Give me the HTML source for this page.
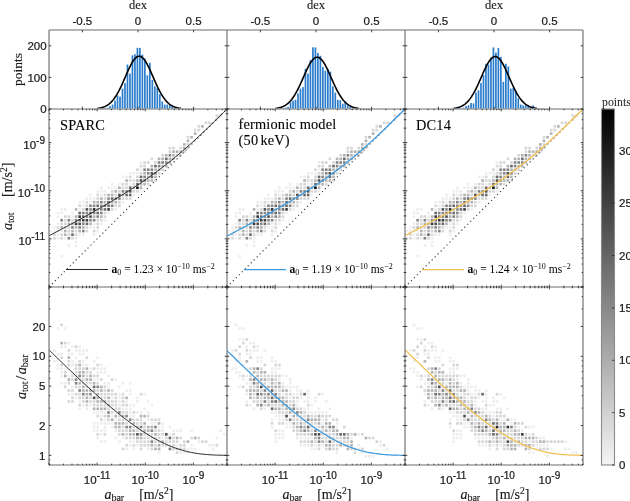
<!DOCTYPE html><html><head><meta charset="utf-8"><style>html,body{margin:0;padding:0;background:#fff;overflow:hidden}svg{display:block;will-change:transform}</style></head><body><svg width="630" height="501" viewBox="0 0 630 501"><rect width="630" height="501" fill="#fff"/><defs><filter id="soft" x="-5%" y="-5%" width="110%" height="110%"><feGaussianBlur stdDeviation="0.4"/></filter></defs><g fill="#2b7dcc"><rect x="104.24" y="108.52" width="1.69" height="0.48"/><rect x="106.72" y="107.72" width="1.69" height="1.28"/><rect x="109.21" y="106.13" width="1.69" height="2.87"/><rect x="111.70" y="104.55" width="1.69" height="4.45"/><rect x="114.18" y="100.58" width="1.69" height="8.42"/><rect x="116.67" y="95.50" width="1.69" height="13.50"/><rect x="119.16" y="96.61" width="1.69" height="12.39"/><rect x="121.65" y="88.67" width="1.69" height="20.33"/><rect x="124.13" y="83.12" width="1.69" height="25.88"/><rect x="126.62" y="64.55" width="1.69" height="44.45"/><rect x="129.11" y="73.60" width="1.69" height="35.40"/><rect x="131.59" y="55.34" width="1.69" height="53.66"/><rect x="134.08" y="54.23" width="1.69" height="54.77"/><rect x="136.57" y="47.88" width="1.69" height="61.12"/><rect x="139.05" y="47.88" width="1.69" height="61.12"/><rect x="141.54" y="54.55" width="1.69" height="54.45"/><rect x="144.03" y="58.52" width="1.69" height="50.48"/><rect x="146.52" y="75.18" width="1.69" height="33.82"/><rect x="149.00" y="62.80" width="1.69" height="46.20"/><rect x="151.49" y="79.94" width="1.69" height="29.06"/><rect x="153.98" y="86.29" width="1.69" height="22.71"/><rect x="156.46" y="87.88" width="1.69" height="21.12"/><rect x="158.95" y="94.23" width="1.69" height="14.77"/><rect x="161.44" y="101.37" width="1.69" height="7.63"/><rect x="163.92" y="104.55" width="1.69" height="4.45"/><rect x="166.41" y="104.55" width="1.69" height="4.45"/><rect x="168.90" y="105.34" width="1.69" height="3.66"/><rect x="171.39" y="106.13" width="1.69" height="2.87"/><rect x="173.87" y="107.72" width="1.69" height="1.28"/><rect x="176.36" y="108.20" width="1.69" height="0.80"/><rect x="178.85" y="108.52" width="1.69" height="0.48"/><rect x="96.78" y="108.40" width="1.69" height="0.6"/><rect x="99.26" y="108.40" width="1.69" height="0.6"/><rect x="101.75" y="108.40" width="1.69" height="0.6"/><rect x="181.33" y="108.40" width="1.69" height="0.6"/><rect x="183.82" y="108.40" width="1.69" height="0.6"/></g><polyline points="97.48,108.41 98.18,108.32 98.87,108.21 99.57,108.09 100.26,107.95 100.96,107.80 101.65,107.62 102.35,107.42 103.04,107.20 103.74,106.96 104.43,106.68 105.13,106.38 105.83,106.04 106.52,105.66 107.22,105.25 107.91,104.80 108.61,104.31 109.30,103.77 110.00,103.18 110.69,102.55 111.39,101.86 112.08,101.12 112.78,100.32 113.47,99.47 114.17,98.56 114.86,97.59 115.56,96.56 116.25,95.47 116.95,94.33 117.65,93.13 118.34,91.87 119.04,90.56 119.73,89.19 120.43,87.78 121.12,86.33 121.82,84.84 122.51,83.31 123.21,81.76 123.90,80.18 124.60,78.59 125.29,76.99 125.99,75.39 126.68,73.80 127.38,72.23 128.07,70.68 128.77,69.17 129.47,67.70 130.16,66.28 130.86,64.92 131.55,63.64 132.25,62.43 132.94,61.31 133.64,60.29 134.33,59.36 135.03,58.55 135.72,57.85 136.42,57.27 137.11,56.82 137.81,56.49 138.50,56.29 139.20,56.23 139.90,56.29 140.59,56.49 141.29,56.82 141.98,57.27 142.68,57.85 143.37,58.55 144.07,59.36 144.76,60.29 145.46,61.31 146.15,62.43 146.85,63.64 147.54,64.92 148.24,66.28 148.93,67.70 149.63,69.17 150.32,70.68 151.02,72.23 151.72,73.80 152.41,75.39 153.11,76.99 153.80,78.59 154.50,80.18 155.19,81.76 155.89,83.31 156.58,84.84 157.28,86.33 157.97,87.78 158.67,89.19 159.36,90.56 160.06,91.87 160.75,93.13 161.45,94.33 162.15,95.47 162.84,96.56 163.54,97.59 164.23,98.56 164.93,99.47 165.62,100.32 166.32,101.12 167.01,101.86 167.71,102.55 168.40,103.18 169.10,103.77 169.79,104.31 170.49,104.80 171.18,105.25 171.88,105.66 172.57,106.04 173.27,106.38 173.97,106.68 174.66,106.96 175.36,107.20 176.05,107.42 176.75,107.62 177.44,107.80 178.14,107.95 178.83,108.09 179.53,108.21 180.22,108.32 180.92,108.41" fill="none" stroke="#000" stroke-width="1.6"/><svg x="49" y="109.0" width="178.0" height="178.0" viewBox="49 109.0 178.0 178.0" overflow="hidden"><g filter="url(#soft)"><rect x="78.37" y="204.49" width="2.61" height="2.61" fill="rgb(214,214,214)"/><rect x="85.59" y="204.49" width="2.61" height="2.61" fill="rgb(214,214,214)"/><rect x="89.20" y="204.49" width="2.61" height="2.61" fill="rgb(132,132,132)"/><rect x="60.33" y="208.10" width="2.61" height="2.61" fill="rgb(238,238,238)"/><rect x="63.94" y="208.10" width="2.61" height="2.61" fill="rgb(238,238,238)"/><rect x="74.76" y="208.10" width="2.61" height="2.61" fill="rgb(178,178,178)"/><rect x="78.37" y="208.10" width="2.61" height="2.61" fill="rgb(238,238,238)"/><rect x="81.98" y="208.10" width="2.61" height="2.61" fill="rgb(214,214,214)"/><rect x="85.59" y="208.10" width="2.61" height="2.61" fill="rgb(80,80,80)"/><rect x="89.20" y="208.10" width="2.61" height="2.61" fill="rgb(132,132,132)"/><rect x="56.72" y="211.71" width="2.61" height="2.61" fill="rgb(238,238,238)"/><rect x="60.33" y="211.71" width="2.61" height="2.61" fill="rgb(238,238,238)"/><rect x="71.15" y="211.71" width="2.61" height="2.61" fill="rgb(238,238,238)"/><rect x="78.37" y="211.71" width="2.61" height="2.61" fill="rgb(105,105,105)"/><rect x="81.98" y="211.71" width="2.61" height="2.61" fill="rgb(132,132,132)"/><rect x="85.59" y="211.71" width="2.61" height="2.61" fill="rgb(132,132,132)"/><rect x="89.20" y="211.71" width="2.61" height="2.61" fill="rgb(105,105,105)"/><rect x="56.72" y="215.32" width="2.61" height="2.61" fill="rgb(238,238,238)"/><rect x="63.94" y="215.32" width="2.61" height="2.61" fill="rgb(214,214,214)"/><rect x="67.55" y="215.32" width="2.61" height="2.61" fill="rgb(214,214,214)"/><rect x="71.15" y="215.32" width="2.61" height="2.61" fill="rgb(238,238,238)"/><rect x="74.76" y="215.32" width="2.61" height="2.61" fill="rgb(178,178,178)"/><rect x="78.37" y="215.32" width="2.61" height="2.61" fill="rgb(56,56,56)"/><rect x="81.98" y="215.32" width="2.61" height="2.61" fill="rgb(105,105,105)"/><rect x="85.59" y="215.32" width="2.61" height="2.61" fill="rgb(132,132,132)"/><rect x="89.20" y="215.32" width="2.61" height="2.61" fill="rgb(80,80,80)"/><rect x="60.33" y="218.93" width="2.61" height="2.61" fill="rgb(132,132,132)"/><rect x="63.94" y="218.93" width="2.61" height="2.61" fill="rgb(214,214,214)"/><rect x="67.55" y="218.93" width="2.61" height="2.61" fill="rgb(132,132,132)"/><rect x="71.15" y="218.93" width="2.61" height="2.61" fill="rgb(214,214,214)"/><rect x="74.76" y="218.93" width="2.61" height="2.61" fill="rgb(132,132,132)"/><rect x="78.37" y="218.93" width="2.61" height="2.61" fill="rgb(105,105,105)"/><rect x="81.98" y="218.93" width="2.61" height="2.61" fill="rgb(56,56,56)"/><rect x="85.59" y="218.93" width="2.61" height="2.61" fill="rgb(56,56,56)"/><rect x="89.20" y="218.93" width="2.61" height="2.61" fill="rgb(132,132,132)"/><rect x="56.72" y="222.54" width="2.61" height="2.61" fill="rgb(238,238,238)"/><rect x="60.33" y="222.54" width="2.61" height="2.61" fill="rgb(214,214,214)"/><rect x="63.94" y="222.54" width="2.61" height="2.61" fill="rgb(214,214,214)"/><rect x="67.55" y="222.54" width="2.61" height="2.61" fill="rgb(178,178,178)"/><rect x="71.15" y="222.54" width="2.61" height="2.61" fill="rgb(178,178,178)"/><rect x="74.76" y="222.54" width="2.61" height="2.61" fill="rgb(56,56,56)"/><rect x="78.37" y="222.54" width="2.61" height="2.61" fill="rgb(80,80,80)"/><rect x="81.98" y="222.54" width="2.61" height="2.61" fill="rgb(132,132,132)"/><rect x="85.59" y="222.54" width="2.61" height="2.61" fill="rgb(105,105,105)"/><rect x="89.20" y="222.54" width="2.61" height="2.61" fill="rgb(178,178,178)"/><rect x="53.11" y="226.15" width="2.61" height="2.61" fill="rgb(238,238,238)"/><rect x="56.72" y="226.15" width="2.61" height="2.61" fill="rgb(214,214,214)"/><rect x="60.33" y="226.15" width="2.61" height="2.61" fill="rgb(178,178,178)"/><rect x="63.94" y="226.15" width="2.61" height="2.61" fill="rgb(214,214,214)"/><rect x="67.55" y="226.15" width="2.61" height="2.61" fill="rgb(214,214,214)"/><rect x="71.15" y="226.15" width="2.61" height="2.61" fill="rgb(132,132,132)"/><rect x="74.76" y="226.15" width="2.61" height="2.61" fill="rgb(178,178,178)"/><rect x="78.37" y="226.15" width="2.61" height="2.61" fill="rgb(132,132,132)"/><rect x="81.98" y="226.15" width="2.61" height="2.61" fill="rgb(178,178,178)"/><rect x="85.59" y="226.15" width="2.61" height="2.61" fill="rgb(214,214,214)"/><rect x="89.20" y="226.15" width="2.61" height="2.61" fill="rgb(238,238,238)"/><rect x="49.50" y="229.76" width="2.61" height="2.61" fill="rgb(238,238,238)"/><rect x="53.11" y="229.76" width="2.61" height="2.61" fill="rgb(238,238,238)"/><rect x="56.72" y="229.76" width="2.61" height="2.61" fill="rgb(238,238,238)"/><rect x="60.33" y="229.76" width="2.61" height="2.61" fill="rgb(238,238,238)"/><rect x="63.94" y="229.76" width="2.61" height="2.61" fill="rgb(178,178,178)"/><rect x="67.55" y="229.76" width="2.61" height="2.61" fill="rgb(214,214,214)"/><rect x="71.15" y="229.76" width="2.61" height="2.61" fill="rgb(178,178,178)"/><rect x="74.76" y="229.76" width="2.61" height="2.61" fill="rgb(214,214,214)"/><rect x="78.37" y="229.76" width="2.61" height="2.61" fill="rgb(178,178,178)"/><rect x="81.98" y="229.76" width="2.61" height="2.61" fill="rgb(132,132,132)"/><rect x="85.59" y="229.76" width="2.61" height="2.61" fill="rgb(214,214,214)"/><rect x="53.11" y="233.37" width="2.61" height="2.61" fill="rgb(214,214,214)"/><rect x="56.72" y="233.37" width="2.61" height="2.61" fill="rgb(238,238,238)"/><rect x="60.33" y="233.37" width="2.61" height="2.61" fill="rgb(214,214,214)"/><rect x="63.94" y="233.37" width="2.61" height="2.61" fill="rgb(178,178,178)"/><rect x="67.55" y="233.37" width="2.61" height="2.61" fill="rgb(214,214,214)"/><rect x="71.15" y="233.37" width="2.61" height="2.61" fill="rgb(105,105,105)"/><rect x="74.76" y="233.37" width="2.61" height="2.61" fill="rgb(214,214,214)"/><rect x="78.37" y="233.37" width="2.61" height="2.61" fill="rgb(238,238,238)"/><rect x="81.98" y="233.37" width="2.61" height="2.61" fill="rgb(238,238,238)"/><rect x="49.50" y="236.97" width="2.61" height="2.61" fill="rgb(238,238,238)"/><rect x="53.11" y="236.97" width="2.61" height="2.61" fill="rgb(214,214,214)"/><rect x="56.72" y="236.97" width="2.61" height="2.61" fill="rgb(238,238,238)"/><rect x="60.33" y="236.97" width="2.61" height="2.61" fill="rgb(214,214,214)"/><rect x="63.94" y="236.97" width="2.61" height="2.61" fill="rgb(238,238,238)"/><rect x="67.55" y="236.97" width="2.61" height="2.61" fill="rgb(132,132,132)"/><rect x="71.15" y="236.97" width="2.61" height="2.61" fill="rgb(214,214,214)"/><rect x="74.76" y="236.97" width="2.61" height="2.61" fill="rgb(238,238,238)"/><rect x="74.76" y="240.58" width="2.61" height="2.61" fill="rgb(238,238,238)"/><rect x="67.55" y="244.19" width="2.61" height="2.61" fill="rgb(238,238,238)"/><rect x="74.76" y="244.19" width="2.61" height="2.61" fill="rgb(238,238,238)"/><rect x="60.33" y="255.02" width="2.61" height="2.61" fill="rgb(238,238,238)"/><rect x="128.90" y="172.01" width="2.61" height="2.61" fill="rgb(238,238,238)"/><rect x="132.51" y="172.01" width="2.61" height="2.61" fill="rgb(238,238,238)"/><rect x="121.68" y="175.62" width="2.61" height="2.61" fill="rgb(238,238,238)"/><rect x="125.29" y="175.62" width="2.61" height="2.61" fill="rgb(238,238,238)"/><rect x="128.90" y="175.62" width="2.61" height="2.61" fill="rgb(214,214,214)"/><rect x="125.29" y="179.23" width="2.61" height="2.61" fill="rgb(178,178,178)"/><rect x="128.90" y="179.23" width="2.61" height="2.61" fill="rgb(214,214,214)"/><rect x="132.51" y="179.23" width="2.61" height="2.61" fill="rgb(214,214,214)"/><rect x="110.85" y="182.84" width="2.61" height="2.61" fill="rgb(238,238,238)"/><rect x="118.07" y="182.84" width="2.61" height="2.61" fill="rgb(238,238,238)"/><rect x="121.68" y="182.84" width="2.61" height="2.61" fill="rgb(214,214,214)"/><rect x="125.29" y="182.84" width="2.61" height="2.61" fill="rgb(214,214,214)"/><rect x="128.90" y="182.84" width="2.61" height="2.61" fill="rgb(238,238,238)"/><rect x="132.51" y="182.84" width="2.61" height="2.61" fill="rgb(214,214,214)"/><rect x="100.03" y="186.45" width="2.61" height="2.61" fill="rgb(238,238,238)"/><rect x="107.24" y="186.45" width="2.61" height="2.61" fill="rgb(238,238,238)"/><rect x="110.85" y="186.45" width="2.61" height="2.61" fill="rgb(238,238,238)"/><rect x="114.46" y="186.45" width="2.61" height="2.61" fill="rgb(238,238,238)"/><rect x="118.07" y="186.45" width="2.61" height="2.61" fill="rgb(178,178,178)"/><rect x="121.68" y="186.45" width="2.61" height="2.61" fill="rgb(214,214,214)"/><rect x="125.29" y="186.45" width="2.61" height="2.61" fill="rgb(214,214,214)"/><rect x="128.90" y="186.45" width="2.61" height="2.61" fill="rgb(105,105,105)"/><rect x="132.51" y="186.45" width="2.61" height="2.61" fill="rgb(178,178,178)"/><rect x="96.42" y="190.06" width="2.61" height="2.61" fill="rgb(238,238,238)"/><rect x="100.03" y="190.06" width="2.61" height="2.61" fill="rgb(238,238,238)"/><rect x="103.63" y="190.06" width="2.61" height="2.61" fill="rgb(238,238,238)"/><rect x="110.85" y="190.06" width="2.61" height="2.61" fill="rgb(214,214,214)"/><rect x="114.46" y="190.06" width="2.61" height="2.61" fill="rgb(178,178,178)"/><rect x="118.07" y="190.06" width="2.61" height="2.61" fill="rgb(214,214,214)"/><rect x="121.68" y="190.06" width="2.61" height="2.61" fill="rgb(132,132,132)"/><rect x="125.29" y="190.06" width="2.61" height="2.61" fill="rgb(132,132,132)"/><rect x="128.90" y="190.06" width="2.61" height="2.61" fill="rgb(80,80,80)"/><rect x="132.51" y="190.06" width="2.61" height="2.61" fill="rgb(214,214,214)"/><rect x="96.42" y="193.67" width="2.61" height="2.61" fill="rgb(214,214,214)"/><rect x="100.03" y="193.67" width="2.61" height="2.61" fill="rgb(238,238,238)"/><rect x="103.63" y="193.67" width="2.61" height="2.61" fill="rgb(214,214,214)"/><rect x="107.24" y="193.67" width="2.61" height="2.61" fill="rgb(178,178,178)"/><rect x="110.85" y="193.67" width="2.61" height="2.61" fill="rgb(178,178,178)"/><rect x="114.46" y="193.67" width="2.61" height="2.61" fill="rgb(214,214,214)"/><rect x="118.07" y="193.67" width="2.61" height="2.61" fill="rgb(80,80,80)"/><rect x="121.68" y="193.67" width="2.61" height="2.61" fill="rgb(178,178,178)"/><rect x="125.29" y="193.67" width="2.61" height="2.61" fill="rgb(105,105,105)"/><rect x="128.90" y="193.67" width="2.61" height="2.61" fill="rgb(105,105,105)"/><rect x="132.51" y="193.67" width="2.61" height="2.61" fill="rgb(238,238,238)"/><rect x="92.81" y="197.28" width="2.61" height="2.61" fill="rgb(238,238,238)"/><rect x="96.42" y="197.28" width="2.61" height="2.61" fill="rgb(214,214,214)"/><rect x="100.03" y="197.28" width="2.61" height="2.61" fill="rgb(178,178,178)"/><rect x="103.63" y="197.28" width="2.61" height="2.61" fill="rgb(214,214,214)"/><rect x="107.24" y="197.28" width="2.61" height="2.61" fill="rgb(132,132,132)"/><rect x="110.85" y="197.28" width="2.61" height="2.61" fill="rgb(105,105,105)"/><rect x="114.46" y="197.28" width="2.61" height="2.61" fill="rgb(132,132,132)"/><rect x="118.07" y="197.28" width="2.61" height="2.61" fill="rgb(132,132,132)"/><rect x="121.68" y="197.28" width="2.61" height="2.61" fill="rgb(214,214,214)"/><rect x="125.29" y="197.28" width="2.61" height="2.61" fill="rgb(214,214,214)"/><rect x="128.90" y="197.28" width="2.61" height="2.61" fill="rgb(214,214,214)"/><rect x="92.81" y="200.88" width="2.61" height="2.61" fill="rgb(178,178,178)"/><rect x="96.42" y="200.88" width="2.61" height="2.61" fill="rgb(178,178,178)"/><rect x="100.03" y="200.88" width="2.61" height="2.61" fill="rgb(132,132,132)"/><rect x="103.63" y="200.88" width="2.61" height="2.61" fill="rgb(178,178,178)"/><rect x="107.24" y="200.88" width="2.61" height="2.61" fill="rgb(105,105,105)"/><rect x="110.85" y="200.88" width="2.61" height="2.61" fill="rgb(178,178,178)"/><rect x="114.46" y="200.88" width="2.61" height="2.61" fill="rgb(178,178,178)"/><rect x="118.07" y="200.88" width="2.61" height="2.61" fill="rgb(214,214,214)"/><rect x="121.68" y="200.88" width="2.61" height="2.61" fill="rgb(238,238,238)"/><rect x="92.81" y="204.49" width="2.61" height="2.61" fill="rgb(132,132,132)"/><rect x="96.42" y="204.49" width="2.61" height="2.61" fill="rgb(105,105,105)"/><rect x="100.03" y="204.49" width="2.61" height="2.61" fill="rgb(132,132,132)"/><rect x="103.63" y="204.49" width="2.61" height="2.61" fill="rgb(132,132,132)"/><rect x="107.24" y="204.49" width="2.61" height="2.61" fill="rgb(105,105,105)"/><rect x="110.85" y="204.49" width="2.61" height="2.61" fill="rgb(132,132,132)"/><rect x="114.46" y="204.49" width="2.61" height="2.61" fill="rgb(214,214,214)"/><rect x="118.07" y="204.49" width="2.61" height="2.61" fill="rgb(214,214,214)"/><rect x="92.81" y="208.10" width="2.61" height="2.61" fill="rgb(34,34,34)"/><rect x="96.42" y="208.10" width="2.61" height="2.61" fill="rgb(178,178,178)"/><rect x="100.03" y="208.10" width="2.61" height="2.61" fill="rgb(132,132,132)"/><rect x="103.63" y="208.10" width="2.61" height="2.61" fill="rgb(105,105,105)"/><rect x="107.24" y="208.10" width="2.61" height="2.61" fill="rgb(56,56,56)"/><rect x="110.85" y="208.10" width="2.61" height="2.61" fill="rgb(214,214,214)"/><rect x="114.46" y="208.10" width="2.61" height="2.61" fill="rgb(238,238,238)"/><rect x="92.81" y="211.71" width="2.61" height="2.61" fill="rgb(132,132,132)"/><rect x="96.42" y="211.71" width="2.61" height="2.61" fill="rgb(105,105,105)"/><rect x="100.03" y="211.71" width="2.61" height="2.61" fill="rgb(132,132,132)"/><rect x="103.63" y="211.71" width="2.61" height="2.61" fill="rgb(214,214,214)"/><rect x="107.24" y="211.71" width="2.61" height="2.61" fill="rgb(238,238,238)"/><rect x="92.81" y="215.32" width="2.61" height="2.61" fill="rgb(178,178,178)"/><rect x="96.42" y="215.32" width="2.61" height="2.61" fill="rgb(132,132,132)"/><rect x="100.03" y="215.32" width="2.61" height="2.61" fill="rgb(178,178,178)"/><rect x="103.63" y="215.32" width="2.61" height="2.61" fill="rgb(214,214,214)"/><rect x="92.81" y="218.93" width="2.61" height="2.61" fill="rgb(132,132,132)"/><rect x="96.42" y="218.93" width="2.61" height="2.61" fill="rgb(214,214,214)"/><rect x="100.03" y="218.93" width="2.61" height="2.61" fill="rgb(214,214,214)"/><rect x="103.63" y="218.93" width="2.61" height="2.61" fill="rgb(238,238,238)"/><rect x="92.81" y="222.54" width="2.61" height="2.61" fill="rgb(238,238,238)"/><rect x="96.42" y="222.54" width="2.61" height="2.61" fill="rgb(214,214,214)"/><rect x="100.03" y="222.54" width="2.61" height="2.61" fill="rgb(238,238,238)"/><rect x="92.81" y="226.15" width="2.61" height="2.61" fill="rgb(238,238,238)"/><rect x="96.42" y="226.15" width="2.61" height="2.61" fill="rgb(214,214,214)"/><rect x="92.81" y="229.76" width="2.61" height="2.61" fill="rgb(214,214,214)"/><rect x="96.42" y="229.76" width="2.61" height="2.61" fill="rgb(238,238,238)"/><rect x="92.81" y="233.37" width="2.61" height="2.61" fill="rgb(238,238,238)"/><rect x="168.60" y="146.75" width="2.61" height="2.61" fill="rgb(214,214,214)"/><rect x="172.21" y="146.75" width="2.61" height="2.61" fill="rgb(214,214,214)"/><rect x="168.60" y="150.36" width="2.61" height="2.61" fill="rgb(214,214,214)"/><rect x="172.21" y="150.36" width="2.61" height="2.61" fill="rgb(178,178,178)"/><rect x="175.81" y="150.36" width="2.61" height="2.61" fill="rgb(178,178,178)"/><rect x="161.38" y="153.97" width="2.61" height="2.61" fill="rgb(214,214,214)"/><rect x="164.99" y="153.97" width="2.61" height="2.61" fill="rgb(178,178,178)"/><rect x="168.60" y="153.97" width="2.61" height="2.61" fill="rgb(132,132,132)"/><rect x="172.21" y="153.97" width="2.61" height="2.61" fill="rgb(178,178,178)"/><rect x="175.81" y="153.97" width="2.61" height="2.61" fill="rgb(214,214,214)"/><rect x="150.55" y="157.58" width="2.61" height="2.61" fill="rgb(214,214,214)"/><rect x="157.77" y="157.58" width="2.61" height="2.61" fill="rgb(178,178,178)"/><rect x="161.38" y="157.58" width="2.61" height="2.61" fill="rgb(178,178,178)"/><rect x="164.99" y="157.58" width="2.61" height="2.61" fill="rgb(105,105,105)"/><rect x="168.60" y="157.58" width="2.61" height="2.61" fill="rgb(178,178,178)"/><rect x="172.21" y="157.58" width="2.61" height="2.61" fill="rgb(178,178,178)"/><rect x="139.72" y="161.19" width="2.61" height="2.61" fill="rgb(238,238,238)"/><rect x="143.33" y="161.19" width="2.61" height="2.61" fill="rgb(214,214,214)"/><rect x="146.94" y="161.19" width="2.61" height="2.61" fill="rgb(214,214,214)"/><rect x="154.16" y="161.19" width="2.61" height="2.61" fill="rgb(214,214,214)"/><rect x="157.77" y="161.19" width="2.61" height="2.61" fill="rgb(132,132,132)"/><rect x="161.38" y="161.19" width="2.61" height="2.61" fill="rgb(132,132,132)"/><rect x="164.99" y="161.19" width="2.61" height="2.61" fill="rgb(132,132,132)"/><rect x="168.60" y="161.19" width="2.61" height="2.61" fill="rgb(178,178,178)"/><rect x="139.72" y="164.79" width="2.61" height="2.61" fill="rgb(214,214,214)"/><rect x="143.33" y="164.79" width="2.61" height="2.61" fill="rgb(214,214,214)"/><rect x="150.55" y="164.79" width="2.61" height="2.61" fill="rgb(178,178,178)"/><rect x="154.16" y="164.79" width="2.61" height="2.61" fill="rgb(105,105,105)"/><rect x="157.77" y="164.79" width="2.61" height="2.61" fill="rgb(132,132,132)"/><rect x="161.38" y="164.79" width="2.61" height="2.61" fill="rgb(178,178,178)"/><rect x="164.99" y="164.79" width="2.61" height="2.61" fill="rgb(178,178,178)"/><rect x="136.12" y="168.40" width="2.61" height="2.61" fill="rgb(214,214,214)"/><rect x="139.72" y="168.40" width="2.61" height="2.61" fill="rgb(238,238,238)"/><rect x="143.33" y="168.40" width="2.61" height="2.61" fill="rgb(132,132,132)"/><rect x="146.94" y="168.40" width="2.61" height="2.61" fill="rgb(132,132,132)"/><rect x="150.55" y="168.40" width="2.61" height="2.61" fill="rgb(132,132,132)"/><rect x="154.16" y="168.40" width="2.61" height="2.61" fill="rgb(178,178,178)"/><rect x="157.77" y="168.40" width="2.61" height="2.61" fill="rgb(178,178,178)"/><rect x="161.38" y="168.40" width="2.61" height="2.61" fill="rgb(214,214,214)"/><rect x="136.12" y="172.01" width="2.61" height="2.61" fill="rgb(238,238,238)"/><rect x="139.72" y="172.01" width="2.61" height="2.61" fill="rgb(214,214,214)"/><rect x="143.33" y="172.01" width="2.61" height="2.61" fill="rgb(178,178,178)"/><rect x="146.94" y="172.01" width="2.61" height="2.61" fill="rgb(132,132,132)"/><rect x="150.55" y="172.01" width="2.61" height="2.61" fill="rgb(80,80,80)"/><rect x="154.16" y="172.01" width="2.61" height="2.61" fill="rgb(132,132,132)"/><rect x="157.77" y="172.01" width="2.61" height="2.61" fill="rgb(214,214,214)"/><rect x="136.12" y="175.62" width="2.61" height="2.61" fill="rgb(214,214,214)"/><rect x="139.72" y="175.62" width="2.61" height="2.61" fill="rgb(105,105,105)"/><rect x="143.33" y="175.62" width="2.61" height="2.61" fill="rgb(132,132,132)"/><rect x="146.94" y="175.62" width="2.61" height="2.61" fill="rgb(178,178,178)"/><rect x="150.55" y="175.62" width="2.61" height="2.61" fill="rgb(105,105,105)"/><rect x="154.16" y="175.62" width="2.61" height="2.61" fill="rgb(178,178,178)"/><rect x="136.12" y="179.23" width="2.61" height="2.61" fill="rgb(178,178,178)"/><rect x="139.72" y="179.23" width="2.61" height="2.61" fill="rgb(80,80,80)"/><rect x="143.33" y="179.23" width="2.61" height="2.61" fill="rgb(132,132,132)"/><rect x="146.94" y="179.23" width="2.61" height="2.61" fill="rgb(178,178,178)"/><rect x="150.55" y="179.23" width="2.61" height="2.61" fill="rgb(178,178,178)"/><rect x="154.16" y="179.23" width="2.61" height="2.61" fill="rgb(214,214,214)"/><rect x="136.12" y="182.84" width="2.61" height="2.61" fill="rgb(105,105,105)"/><rect x="139.72" y="182.84" width="2.61" height="2.61" fill="rgb(178,178,178)"/><rect x="143.33" y="182.84" width="2.61" height="2.61" fill="rgb(178,178,178)"/><rect x="146.94" y="182.84" width="2.61" height="2.61" fill="rgb(214,214,214)"/><rect x="136.12" y="186.45" width="2.61" height="2.61" fill="rgb(14,14,14)"/><rect x="139.72" y="186.45" width="2.61" height="2.61" fill="rgb(178,178,178)"/><rect x="136.12" y="190.06" width="2.61" height="2.61" fill="rgb(214,214,214)"/><rect x="139.72" y="190.06" width="2.61" height="2.61" fill="rgb(238,238,238)"/><rect x="215.51" y="114.27" width="2.61" height="2.61" fill="rgb(214,214,214)"/><rect x="219.12" y="114.27" width="2.61" height="2.61" fill="rgb(214,214,214)"/><rect x="215.51" y="117.88" width="2.61" height="2.61" fill="rgb(214,214,214)"/><rect x="204.69" y="121.49" width="2.61" height="2.61" fill="rgb(214,214,214)"/><rect x="208.30" y="121.49" width="2.61" height="2.61" fill="rgb(214,214,214)"/><rect x="197.47" y="125.09" width="2.61" height="2.61" fill="rgb(214,214,214)"/><rect x="201.08" y="125.09" width="2.61" height="2.61" fill="rgb(178,178,178)"/><rect x="193.86" y="128.70" width="2.61" height="2.61" fill="rgb(214,214,214)"/><rect x="197.47" y="128.70" width="2.61" height="2.61" fill="rgb(214,214,214)"/><rect x="193.86" y="132.31" width="2.61" height="2.61" fill="rgb(178,178,178)"/><rect x="186.64" y="135.92" width="2.61" height="2.61" fill="rgb(214,214,214)"/><rect x="190.25" y="135.92" width="2.61" height="2.61" fill="rgb(178,178,178)"/><rect x="186.64" y="139.53" width="2.61" height="2.61" fill="rgb(178,178,178)"/><rect x="183.03" y="143.14" width="2.61" height="2.61" fill="rgb(178,178,178)"/><rect x="186.64" y="143.14" width="2.61" height="2.61" fill="rgb(214,214,214)"/><rect x="179.42" y="146.75" width="2.61" height="2.61" fill="rgb(214,214,214)"/><rect x="183.03" y="146.75" width="2.61" height="2.61" fill="rgb(178,178,178)"/><rect x="186.64" y="146.75" width="2.61" height="2.61" fill="rgb(214,214,214)"/><rect x="179.42" y="150.36" width="2.61" height="2.61" fill="rgb(178,178,178)"/><rect x="183.03" y="150.36" width="2.61" height="2.61" fill="rgb(214,214,214)"/><rect x="179.42" y="153.97" width="2.61" height="2.61" fill="rgb(214,214,214)"/><rect x="81.98" y="204.49" width="2.61" height="2.61" fill="rgb(238,238,238)"/><rect x="78.37" y="200.88" width="2.61" height="2.61" fill="rgb(238,238,238)"/><rect x="81.98" y="200.88" width="2.61" height="2.61" fill="rgb(238,238,238)"/><rect x="85.59" y="200.88" width="2.61" height="2.61" fill="rgb(214,214,214)"/><rect x="89.20" y="200.88" width="2.61" height="2.61" fill="rgb(238,238,238)"/><rect x="85.59" y="197.28" width="2.61" height="2.61" fill="rgb(238,238,238)"/><rect x="89.20" y="197.28" width="2.61" height="2.61" fill="rgb(238,238,238)"/><rect x="89.20" y="193.67" width="2.61" height="2.61" fill="rgb(238,238,238)"/></g><line x1="49" y1="287.0" x2="227.0" y2="109.0" stroke="#383838" stroke-width="1.1" stroke-dasharray="1.2 3.0"/><polyline points="49.00,235.78 50.78,234.85 52.56,233.92 54.34,232.98 56.12,232.05 57.90,231.11 59.68,230.17 61.46,229.23 63.24,228.28 65.02,227.34 66.80,226.39 68.58,225.44 70.36,224.48 72.14,223.53 73.92,222.57 75.70,221.61 77.48,220.64 79.26,219.67 81.04,218.70 82.82,217.72 84.60,216.75 86.38,215.76 88.16,214.78 89.94,213.79 91.72,212.79 93.50,211.79 95.28,210.79 97.06,209.78 98.84,208.77 100.62,207.75 102.40,206.73 104.18,205.70 105.96,204.66 107.74,203.62 109.52,202.57 111.30,201.52 113.08,200.46 114.86,199.40 116.64,198.32 118.42,197.24 120.20,196.15 121.98,195.06 123.76,193.95 125.54,192.84 127.32,191.72 129.10,190.59 130.88,189.45 132.66,188.30 134.44,187.14 136.22,185.97 138.00,184.79 139.78,183.60 141.56,182.40 143.34,181.19 145.12,179.96 146.90,178.72 148.68,177.47 150.46,176.21 152.24,174.94 154.02,173.65 155.80,172.35 157.58,171.03 159.36,169.70 161.14,168.36 162.92,167.00 164.70,165.62 166.48,164.24 168.26,162.83 170.04,161.41 171.82,159.98 173.60,158.53 175.38,157.06 177.16,155.58 178.94,154.08 180.72,152.57 182.50,151.04 184.28,149.50 186.06,147.94 187.84,146.37 189.62,144.78 191.40,143.18 193.18,141.56 194.96,139.93 196.74,138.29 198.52,136.63 200.30,134.97 202.08,133.29 203.86,131.60 205.64,129.90 207.42,128.19 209.20,126.47 210.98,124.75 212.76,123.01 214.54,121.28 216.32,119.53 218.10,117.78 219.88,116.02 221.66,114.26 223.44,112.50 225.22,110.73 227.00,108.96" fill="none" stroke="#111111" stroke-width="0.9"/></svg><svg x="49" y="287.0" width="178.0" height="178.0" viewBox="49 287.0 178.0 178.0" overflow="hidden"><g filter="url(#soft)"><rect x="60.33" y="323.52" width="2.61" height="2.65" fill="rgb(214,214,214)"/><rect x="56.72" y="327.17" width="2.61" height="2.65" fill="rgb(238,238,238)"/><rect x="63.94" y="327.17" width="2.61" height="2.65" fill="rgb(238,238,238)"/><rect x="60.33" y="341.77" width="2.61" height="2.65" fill="rgb(178,178,178)"/><rect x="63.94" y="341.77" width="2.61" height="2.65" fill="rgb(214,214,214)"/><rect x="67.55" y="341.77" width="2.61" height="2.65" fill="rgb(238,238,238)"/><rect x="60.33" y="345.42" width="2.61" height="2.65" fill="rgb(238,238,238)"/><rect x="63.94" y="345.42" width="2.61" height="2.65" fill="rgb(238,238,238)"/><rect x="71.15" y="345.42" width="2.61" height="2.65" fill="rgb(238,238,238)"/><rect x="74.76" y="345.42" width="2.61" height="2.65" fill="rgb(214,214,214)"/><rect x="78.37" y="345.42" width="2.61" height="2.65" fill="rgb(238,238,238)"/><rect x="53.11" y="349.07" width="2.61" height="2.65" fill="rgb(238,238,238)"/><rect x="67.55" y="349.07" width="2.61" height="2.65" fill="rgb(214,214,214)"/><rect x="74.76" y="349.07" width="2.61" height="2.65" fill="rgb(238,238,238)"/><rect x="78.37" y="349.07" width="2.61" height="2.65" fill="rgb(238,238,238)"/><rect x="81.98" y="349.07" width="2.61" height="2.65" fill="rgb(238,238,238)"/><rect x="85.59" y="349.07" width="2.61" height="2.65" fill="rgb(238,238,238)"/><rect x="56.72" y="352.72" width="2.61" height="2.65" fill="rgb(238,238,238)"/><rect x="60.33" y="352.72" width="2.61" height="2.65" fill="rgb(238,238,238)"/><rect x="67.55" y="352.72" width="2.61" height="2.65" fill="rgb(238,238,238)"/><rect x="71.15" y="352.72" width="2.61" height="2.65" fill="rgb(238,238,238)"/><rect x="81.98" y="352.72" width="2.61" height="2.65" fill="rgb(238,238,238)"/><rect x="78.37" y="352.72" width="2.61" height="2.65" fill="rgb(238,238,238)"/><rect x="60.33" y="356.37" width="2.61" height="2.65" fill="rgb(214,214,214)"/><rect x="67.55" y="356.37" width="2.61" height="2.65" fill="rgb(178,178,178)"/><rect x="74.76" y="356.37" width="2.61" height="2.65" fill="rgb(238,238,238)"/><rect x="85.59" y="356.37" width="2.61" height="2.65" fill="rgb(214,214,214)"/><rect x="53.11" y="360.02" width="2.61" height="2.65" fill="rgb(238,238,238)"/><rect x="67.55" y="360.02" width="2.61" height="2.65" fill="rgb(214,214,214)"/><rect x="71.15" y="360.02" width="2.61" height="2.65" fill="rgb(238,238,238)"/><rect x="78.37" y="360.02" width="2.61" height="2.65" fill="rgb(214,214,214)"/><rect x="81.98" y="360.02" width="2.61" height="2.65" fill="rgb(238,238,238)"/><rect x="56.72" y="363.67" width="2.61" height="2.65" fill="rgb(238,238,238)"/><rect x="60.33" y="363.67" width="2.61" height="2.65" fill="rgb(214,214,214)"/><rect x="67.55" y="363.67" width="2.61" height="2.65" fill="rgb(214,214,214)"/><rect x="71.15" y="363.67" width="2.61" height="2.65" fill="rgb(238,238,238)"/><rect x="74.76" y="363.67" width="2.61" height="2.65" fill="rgb(214,214,214)"/><rect x="78.37" y="363.67" width="2.61" height="2.65" fill="rgb(178,178,178)"/><rect x="81.98" y="363.67" width="2.61" height="2.65" fill="rgb(238,238,238)"/><rect x="85.59" y="363.67" width="2.61" height="2.65" fill="rgb(238,238,238)"/><rect x="56.72" y="367.32" width="2.61" height="2.65" fill="rgb(238,238,238)"/><rect x="60.33" y="367.32" width="2.61" height="2.65" fill="rgb(238,238,238)"/><rect x="63.94" y="367.32" width="2.61" height="2.65" fill="rgb(238,238,238)"/><rect x="74.76" y="367.32" width="2.61" height="2.65" fill="rgb(214,214,214)"/><rect x="78.37" y="367.32" width="2.61" height="2.65" fill="rgb(214,214,214)"/><rect x="81.98" y="367.32" width="2.61" height="2.65" fill="rgb(214,214,214)"/><rect x="85.59" y="367.32" width="2.61" height="2.65" fill="rgb(178,178,178)"/><rect x="89.20" y="367.32" width="2.61" height="2.65" fill="rgb(238,238,238)"/><rect x="60.33" y="370.97" width="2.61" height="2.65" fill="rgb(238,238,238)"/><rect x="63.94" y="370.97" width="2.61" height="2.65" fill="rgb(214,214,214)"/><rect x="71.15" y="370.97" width="2.61" height="2.65" fill="rgb(238,238,238)"/><rect x="74.76" y="370.97" width="2.61" height="2.65" fill="rgb(214,214,214)"/><rect x="78.37" y="370.97" width="2.61" height="2.65" fill="rgb(178,178,178)"/><rect x="81.98" y="370.97" width="2.61" height="2.65" fill="rgb(178,178,178)"/><rect x="85.59" y="370.97" width="2.61" height="2.65" fill="rgb(214,214,214)"/><rect x="89.20" y="370.97" width="2.61" height="2.65" fill="rgb(214,214,214)"/><rect x="60.33" y="374.62" width="2.61" height="2.65" fill="rgb(238,238,238)"/><rect x="63.94" y="374.62" width="2.61" height="2.65" fill="rgb(178,178,178)"/><rect x="67.55" y="374.62" width="2.61" height="2.65" fill="rgb(238,238,238)"/><rect x="71.15" y="374.62" width="2.61" height="2.65" fill="rgb(214,214,214)"/><rect x="74.76" y="374.62" width="2.61" height="2.65" fill="rgb(214,214,214)"/><rect x="78.37" y="374.62" width="2.61" height="2.65" fill="rgb(132,132,132)"/><rect x="81.98" y="374.62" width="2.61" height="2.65" fill="rgb(178,178,178)"/><rect x="85.59" y="374.62" width="2.61" height="2.65" fill="rgb(214,214,214)"/><rect x="89.20" y="374.62" width="2.61" height="2.65" fill="rgb(178,178,178)"/><rect x="67.55" y="378.27" width="2.61" height="2.65" fill="rgb(178,178,178)"/><rect x="71.15" y="378.27" width="2.61" height="2.65" fill="rgb(214,214,214)"/><rect x="74.76" y="378.27" width="2.61" height="2.65" fill="rgb(132,132,132)"/><rect x="78.37" y="378.27" width="2.61" height="2.65" fill="rgb(214,214,214)"/><rect x="81.98" y="378.27" width="2.61" height="2.65" fill="rgb(214,214,214)"/><rect x="85.59" y="378.27" width="2.61" height="2.65" fill="rgb(178,178,178)"/><rect x="89.20" y="378.27" width="2.61" height="2.65" fill="rgb(178,178,178)"/><rect x="60.33" y="381.92" width="2.61" height="2.65" fill="rgb(238,238,238)"/><rect x="63.94" y="381.92" width="2.61" height="2.65" fill="rgb(238,238,238)"/><rect x="67.55" y="381.92" width="2.61" height="2.65" fill="rgb(214,214,214)"/><rect x="74.76" y="381.92" width="2.61" height="2.65" fill="rgb(132,132,132)"/><rect x="78.37" y="381.92" width="2.61" height="2.65" fill="rgb(178,178,178)"/><rect x="81.98" y="381.92" width="2.61" height="2.65" fill="rgb(214,214,214)"/><rect x="85.59" y="381.92" width="2.61" height="2.65" fill="rgb(214,214,214)"/><rect x="89.20" y="381.92" width="2.61" height="2.65" fill="rgb(214,214,214)"/><rect x="63.94" y="385.57" width="2.61" height="2.65" fill="rgb(214,214,214)"/><rect x="71.15" y="385.57" width="2.61" height="2.65" fill="rgb(238,238,238)"/><rect x="74.76" y="385.57" width="2.61" height="2.65" fill="rgb(214,214,214)"/><rect x="78.37" y="385.57" width="2.61" height="2.65" fill="rgb(214,214,214)"/><rect x="81.98" y="385.57" width="2.61" height="2.65" fill="rgb(178,178,178)"/><rect x="85.59" y="385.57" width="2.61" height="2.65" fill="rgb(214,214,214)"/><rect x="89.20" y="385.57" width="2.61" height="2.65" fill="rgb(238,238,238)"/><rect x="67.55" y="389.22" width="2.61" height="2.65" fill="rgb(214,214,214)"/><rect x="71.15" y="389.22" width="2.61" height="2.65" fill="rgb(214,214,214)"/><rect x="78.37" y="389.22" width="2.61" height="2.65" fill="rgb(132,132,132)"/><rect x="81.98" y="389.22" width="2.61" height="2.65" fill="rgb(178,178,178)"/><rect x="85.59" y="389.22" width="2.61" height="2.65" fill="rgb(178,178,178)"/><rect x="89.20" y="389.22" width="2.61" height="2.65" fill="rgb(178,178,178)"/><rect x="67.55" y="392.87" width="2.61" height="2.65" fill="rgb(238,238,238)"/><rect x="71.15" y="392.87" width="2.61" height="2.65" fill="rgb(238,238,238)"/><rect x="74.76" y="392.87" width="2.61" height="2.65" fill="rgb(214,214,214)"/><rect x="78.37" y="392.87" width="2.61" height="2.65" fill="rgb(214,214,214)"/><rect x="81.98" y="392.87" width="2.61" height="2.65" fill="rgb(132,132,132)"/><rect x="85.59" y="392.87" width="2.61" height="2.65" fill="rgb(178,178,178)"/><rect x="89.20" y="392.87" width="2.61" height="2.65" fill="rgb(132,132,132)"/><rect x="71.15" y="396.52" width="2.61" height="2.65" fill="rgb(214,214,214)"/><rect x="74.76" y="396.52" width="2.61" height="2.65" fill="rgb(238,238,238)"/><rect x="78.37" y="396.52" width="2.61" height="2.65" fill="rgb(214,214,214)"/><rect x="81.98" y="396.52" width="2.61" height="2.65" fill="rgb(214,214,214)"/><rect x="85.59" y="396.52" width="2.61" height="2.65" fill="rgb(178,178,178)"/><rect x="89.20" y="396.52" width="2.61" height="2.65" fill="rgb(214,214,214)"/><rect x="67.55" y="400.17" width="2.61" height="2.65" fill="rgb(214,214,214)"/><rect x="71.15" y="400.17" width="2.61" height="2.65" fill="rgb(214,214,214)"/><rect x="78.37" y="400.17" width="2.61" height="2.65" fill="rgb(238,238,238)"/><rect x="81.98" y="400.17" width="2.61" height="2.65" fill="rgb(214,214,214)"/><rect x="85.59" y="400.17" width="2.61" height="2.65" fill="rgb(178,178,178)"/><rect x="89.20" y="400.17" width="2.61" height="2.65" fill="rgb(214,214,214)"/><rect x="78.37" y="403.82" width="2.61" height="2.65" fill="rgb(214,214,214)"/><rect x="81.98" y="403.82" width="2.61" height="2.65" fill="rgb(238,238,238)"/><rect x="85.59" y="403.82" width="2.61" height="2.65" fill="rgb(214,214,214)"/><rect x="89.20" y="403.82" width="2.61" height="2.65" fill="rgb(238,238,238)"/><rect x="78.37" y="407.47" width="2.61" height="2.65" fill="rgb(238,238,238)"/><rect x="85.59" y="407.47" width="2.61" height="2.65" fill="rgb(238,238,238)"/><rect x="96.42" y="356.37" width="2.61" height="2.65" fill="rgb(238,238,238)"/><rect x="92.81" y="360.02" width="2.61" height="2.65" fill="rgb(238,238,238)"/><rect x="96.42" y="363.67" width="2.61" height="2.65" fill="rgb(214,214,214)"/><rect x="100.03" y="363.67" width="2.61" height="2.65" fill="rgb(238,238,238)"/><rect x="92.81" y="367.32" width="2.61" height="2.65" fill="rgb(214,214,214)"/><rect x="96.42" y="367.32" width="2.61" height="2.65" fill="rgb(238,238,238)"/><rect x="100.03" y="367.32" width="2.61" height="2.65" fill="rgb(238,238,238)"/><rect x="103.63" y="367.32" width="2.61" height="2.65" fill="rgb(238,238,238)"/><rect x="96.42" y="370.97" width="2.61" height="2.65" fill="rgb(238,238,238)"/><rect x="100.03" y="370.97" width="2.61" height="2.65" fill="rgb(238,238,238)"/><rect x="103.63" y="370.97" width="2.61" height="2.65" fill="rgb(238,238,238)"/><rect x="92.81" y="374.62" width="2.61" height="2.65" fill="rgb(214,214,214)"/><rect x="96.42" y="374.62" width="2.61" height="2.65" fill="rgb(214,214,214)"/><rect x="107.24" y="374.62" width="2.61" height="2.65" fill="rgb(238,238,238)"/><rect x="92.81" y="378.27" width="2.61" height="2.65" fill="rgb(238,238,238)"/><rect x="96.42" y="378.27" width="2.61" height="2.65" fill="rgb(238,238,238)"/><rect x="100.03" y="378.27" width="2.61" height="2.65" fill="rgb(214,214,214)"/><rect x="110.85" y="378.27" width="2.61" height="2.65" fill="rgb(214,214,214)"/><rect x="114.46" y="378.27" width="2.61" height="2.65" fill="rgb(238,238,238)"/><rect x="92.81" y="381.92" width="2.61" height="2.65" fill="rgb(178,178,178)"/><rect x="96.42" y="381.92" width="2.61" height="2.65" fill="rgb(214,214,214)"/><rect x="103.63" y="381.92" width="2.61" height="2.65" fill="rgb(238,238,238)"/><rect x="107.24" y="381.92" width="2.61" height="2.65" fill="rgb(238,238,238)"/><rect x="121.68" y="381.92" width="2.61" height="2.65" fill="rgb(238,238,238)"/><rect x="128.90" y="381.92" width="2.61" height="2.65" fill="rgb(238,238,238)"/><rect x="92.81" y="385.57" width="2.61" height="2.65" fill="rgb(105,105,105)"/><rect x="96.42" y="385.57" width="2.61" height="2.65" fill="rgb(132,132,132)"/><rect x="100.03" y="385.57" width="2.61" height="2.65" fill="rgb(178,178,178)"/><rect x="103.63" y="385.57" width="2.61" height="2.65" fill="rgb(214,214,214)"/><rect x="107.24" y="385.57" width="2.61" height="2.65" fill="rgb(238,238,238)"/><rect x="118.07" y="385.57" width="2.61" height="2.65" fill="rgb(238,238,238)"/><rect x="92.81" y="389.22" width="2.61" height="2.65" fill="rgb(178,178,178)"/><rect x="96.42" y="389.22" width="2.61" height="2.65" fill="rgb(214,214,214)"/><rect x="100.03" y="389.22" width="2.61" height="2.65" fill="rgb(178,178,178)"/><rect x="103.63" y="389.22" width="2.61" height="2.65" fill="rgb(214,214,214)"/><rect x="107.24" y="389.22" width="2.61" height="2.65" fill="rgb(178,178,178)"/><rect x="110.85" y="389.22" width="2.61" height="2.65" fill="rgb(214,214,214)"/><rect x="125.29" y="389.22" width="2.61" height="2.65" fill="rgb(238,238,238)"/><rect x="128.90" y="389.22" width="2.61" height="2.65" fill="rgb(238,238,238)"/><rect x="96.42" y="392.87" width="2.61" height="2.65" fill="rgb(178,178,178)"/><rect x="100.03" y="392.87" width="2.61" height="2.65" fill="rgb(214,214,214)"/><rect x="103.63" y="392.87" width="2.61" height="2.65" fill="rgb(214,214,214)"/><rect x="107.24" y="392.87" width="2.61" height="2.65" fill="rgb(214,214,214)"/><rect x="110.85" y="392.87" width="2.61" height="2.65" fill="rgb(214,214,214)"/><rect x="114.46" y="392.87" width="2.61" height="2.65" fill="rgb(214,214,214)"/><rect x="118.07" y="392.87" width="2.61" height="2.65" fill="rgb(238,238,238)"/><rect x="121.68" y="392.87" width="2.61" height="2.65" fill="rgb(214,214,214)"/><rect x="128.90" y="392.87" width="2.61" height="2.65" fill="rgb(238,238,238)"/><rect x="92.81" y="396.52" width="2.61" height="2.65" fill="rgb(80,80,80)"/><rect x="96.42" y="396.52" width="2.61" height="2.65" fill="rgb(178,178,178)"/><rect x="100.03" y="396.52" width="2.61" height="2.65" fill="rgb(214,214,214)"/><rect x="103.63" y="396.52" width="2.61" height="2.65" fill="rgb(214,214,214)"/><rect x="107.24" y="396.52" width="2.61" height="2.65" fill="rgb(178,178,178)"/><rect x="110.85" y="396.52" width="2.61" height="2.65" fill="rgb(238,238,238)"/><rect x="114.46" y="396.52" width="2.61" height="2.65" fill="rgb(214,214,214)"/><rect x="118.07" y="396.52" width="2.61" height="2.65" fill="rgb(238,238,238)"/><rect x="121.68" y="396.52" width="2.61" height="2.65" fill="rgb(214,214,214)"/><rect x="125.29" y="396.52" width="2.61" height="2.65" fill="rgb(178,178,178)"/><rect x="92.81" y="400.17" width="2.61" height="2.65" fill="rgb(214,214,214)"/><rect x="96.42" y="400.17" width="2.61" height="2.65" fill="rgb(178,178,178)"/><rect x="100.03" y="400.17" width="2.61" height="2.65" fill="rgb(178,178,178)"/><rect x="103.63" y="400.17" width="2.61" height="2.65" fill="rgb(178,178,178)"/><rect x="107.24" y="400.17" width="2.61" height="2.65" fill="rgb(214,214,214)"/><rect x="110.85" y="400.17" width="2.61" height="2.65" fill="rgb(214,214,214)"/><rect x="114.46" y="400.17" width="2.61" height="2.65" fill="rgb(214,214,214)"/><rect x="118.07" y="400.17" width="2.61" height="2.65" fill="rgb(238,238,238)"/><rect x="121.68" y="400.17" width="2.61" height="2.65" fill="rgb(214,214,214)"/><rect x="125.29" y="400.17" width="2.61" height="2.65" fill="rgb(238,238,238)"/><rect x="92.81" y="403.82" width="2.61" height="2.65" fill="rgb(214,214,214)"/><rect x="96.42" y="403.82" width="2.61" height="2.65" fill="rgb(214,214,214)"/><rect x="100.03" y="403.82" width="2.61" height="2.65" fill="rgb(214,214,214)"/><rect x="103.63" y="403.82" width="2.61" height="2.65" fill="rgb(214,214,214)"/><rect x="107.24" y="403.82" width="2.61" height="2.65" fill="rgb(178,178,178)"/><rect x="110.85" y="403.82" width="2.61" height="2.65" fill="rgb(214,214,214)"/><rect x="114.46" y="403.82" width="2.61" height="2.65" fill="rgb(214,214,214)"/><rect x="118.07" y="403.82" width="2.61" height="2.65" fill="rgb(238,238,238)"/><rect x="121.68" y="403.82" width="2.61" height="2.65" fill="rgb(214,214,214)"/><rect x="125.29" y="403.82" width="2.61" height="2.65" fill="rgb(214,214,214)"/><rect x="128.90" y="403.82" width="2.61" height="2.65" fill="rgb(238,238,238)"/><rect x="132.51" y="403.82" width="2.61" height="2.65" fill="rgb(238,238,238)"/><rect x="92.81" y="407.47" width="2.61" height="2.65" fill="rgb(178,178,178)"/><rect x="96.42" y="407.47" width="2.61" height="2.65" fill="rgb(178,178,178)"/><rect x="100.03" y="407.47" width="2.61" height="2.65" fill="rgb(178,178,178)"/><rect x="103.63" y="407.47" width="2.61" height="2.65" fill="rgb(178,178,178)"/><rect x="107.24" y="407.47" width="2.61" height="2.65" fill="rgb(214,214,214)"/><rect x="110.85" y="407.47" width="2.61" height="2.65" fill="rgb(238,238,238)"/><rect x="114.46" y="407.47" width="2.61" height="2.65" fill="rgb(214,214,214)"/><rect x="118.07" y="407.47" width="2.61" height="2.65" fill="rgb(214,214,214)"/><rect x="121.68" y="407.47" width="2.61" height="2.65" fill="rgb(238,238,238)"/><rect x="125.29" y="407.47" width="2.61" height="2.65" fill="rgb(238,238,238)"/><rect x="128.90" y="407.47" width="2.61" height="2.65" fill="rgb(238,238,238)"/><rect x="92.81" y="411.12" width="2.61" height="2.65" fill="rgb(238,238,238)"/><rect x="96.42" y="411.12" width="2.61" height="2.65" fill="rgb(238,238,238)"/><rect x="100.03" y="411.12" width="2.61" height="2.65" fill="rgb(238,238,238)"/><rect x="103.63" y="411.12" width="2.61" height="2.65" fill="rgb(238,238,238)"/><rect x="107.24" y="411.12" width="2.61" height="2.65" fill="rgb(132,132,132)"/><rect x="110.85" y="411.12" width="2.61" height="2.65" fill="rgb(214,214,214)"/><rect x="114.46" y="411.12" width="2.61" height="2.65" fill="rgb(238,238,238)"/><rect x="118.07" y="411.12" width="2.61" height="2.65" fill="rgb(132,132,132)"/><rect x="121.68" y="411.12" width="2.61" height="2.65" fill="rgb(214,214,214)"/><rect x="125.29" y="411.12" width="2.61" height="2.65" fill="rgb(214,214,214)"/><rect x="128.90" y="411.12" width="2.61" height="2.65" fill="rgb(238,238,238)"/><rect x="132.51" y="411.12" width="2.61" height="2.65" fill="rgb(214,214,214)"/><rect x="96.42" y="414.77" width="2.61" height="2.65" fill="rgb(214,214,214)"/><rect x="100.03" y="414.77" width="2.61" height="2.65" fill="rgb(238,238,238)"/><rect x="103.63" y="414.77" width="2.61" height="2.65" fill="rgb(214,214,214)"/><rect x="107.24" y="414.77" width="2.61" height="2.65" fill="rgb(178,178,178)"/><rect x="110.85" y="414.77" width="2.61" height="2.65" fill="rgb(238,238,238)"/><rect x="114.46" y="414.77" width="2.61" height="2.65" fill="rgb(178,178,178)"/><rect x="118.07" y="414.77" width="2.61" height="2.65" fill="rgb(214,214,214)"/><rect x="121.68" y="414.77" width="2.61" height="2.65" fill="rgb(178,178,178)"/><rect x="125.29" y="414.77" width="2.61" height="2.65" fill="rgb(132,132,132)"/><rect x="128.90" y="414.77" width="2.61" height="2.65" fill="rgb(238,238,238)"/><rect x="132.51" y="414.77" width="2.61" height="2.65" fill="rgb(238,238,238)"/><rect x="100.03" y="418.42" width="2.61" height="2.65" fill="rgb(214,214,214)"/><rect x="103.63" y="418.42" width="2.61" height="2.65" fill="rgb(238,238,238)"/><rect x="107.24" y="418.42" width="2.61" height="2.65" fill="rgb(214,214,214)"/><rect x="110.85" y="418.42" width="2.61" height="2.65" fill="rgb(178,178,178)"/><rect x="114.46" y="418.42" width="2.61" height="2.65" fill="rgb(238,238,238)"/><rect x="118.07" y="418.42" width="2.61" height="2.65" fill="rgb(214,214,214)"/><rect x="121.68" y="418.42" width="2.61" height="2.65" fill="rgb(214,214,214)"/><rect x="125.29" y="418.42" width="2.61" height="2.65" fill="rgb(238,238,238)"/><rect x="128.90" y="418.42" width="2.61" height="2.65" fill="rgb(132,132,132)"/><rect x="132.51" y="418.42" width="2.61" height="2.65" fill="rgb(214,214,214)"/><rect x="92.81" y="422.07" width="2.61" height="2.65" fill="rgb(238,238,238)"/><rect x="96.42" y="422.07" width="2.61" height="2.65" fill="rgb(238,238,238)"/><rect x="100.03" y="422.07" width="2.61" height="2.65" fill="rgb(238,238,238)"/><rect x="103.63" y="422.07" width="2.61" height="2.65" fill="rgb(238,238,238)"/><rect x="107.24" y="422.07" width="2.61" height="2.65" fill="rgb(238,238,238)"/><rect x="110.85" y="422.07" width="2.61" height="2.65" fill="rgb(238,238,238)"/><rect x="114.46" y="422.07" width="2.61" height="2.65" fill="rgb(178,178,178)"/><rect x="118.07" y="422.07" width="2.61" height="2.65" fill="rgb(178,178,178)"/><rect x="121.68" y="422.07" width="2.61" height="2.65" fill="rgb(178,178,178)"/><rect x="125.29" y="422.07" width="2.61" height="2.65" fill="rgb(214,214,214)"/><rect x="128.90" y="422.07" width="2.61" height="2.65" fill="rgb(238,238,238)"/><rect x="132.51" y="422.07" width="2.61" height="2.65" fill="rgb(178,178,178)"/><rect x="92.81" y="425.72" width="2.61" height="2.65" fill="rgb(238,238,238)"/><rect x="96.42" y="425.72" width="2.61" height="2.65" fill="rgb(238,238,238)"/><rect x="103.63" y="425.72" width="2.61" height="2.65" fill="rgb(238,238,238)"/><rect x="110.85" y="425.72" width="2.61" height="2.65" fill="rgb(238,238,238)"/><rect x="114.46" y="425.72" width="2.61" height="2.65" fill="rgb(178,178,178)"/><rect x="118.07" y="425.72" width="2.61" height="2.65" fill="rgb(178,178,178)"/><rect x="121.68" y="425.72" width="2.61" height="2.65" fill="rgb(214,214,214)"/><rect x="125.29" y="425.72" width="2.61" height="2.65" fill="rgb(132,132,132)"/><rect x="128.90" y="425.72" width="2.61" height="2.65" fill="rgb(132,132,132)"/><rect x="132.51" y="425.72" width="2.61" height="2.65" fill="rgb(214,214,214)"/><rect x="92.81" y="429.37" width="2.61" height="2.65" fill="rgb(238,238,238)"/><rect x="96.42" y="429.37" width="2.61" height="2.65" fill="rgb(238,238,238)"/><rect x="100.03" y="429.37" width="2.61" height="2.65" fill="rgb(238,238,238)"/><rect x="103.63" y="429.37" width="2.61" height="2.65" fill="rgb(238,238,238)"/><rect x="114.46" y="429.37" width="2.61" height="2.65" fill="rgb(238,238,238)"/><rect x="118.07" y="429.37" width="2.61" height="2.65" fill="rgb(214,214,214)"/><rect x="121.68" y="429.37" width="2.61" height="2.65" fill="rgb(214,214,214)"/><rect x="125.29" y="429.37" width="2.61" height="2.65" fill="rgb(214,214,214)"/><rect x="128.90" y="429.37" width="2.61" height="2.65" fill="rgb(178,178,178)"/><rect x="132.51" y="429.37" width="2.61" height="2.65" fill="rgb(178,178,178)"/><rect x="96.42" y="433.02" width="2.61" height="2.65" fill="rgb(214,214,214)"/><rect x="100.03" y="433.02" width="2.61" height="2.65" fill="rgb(238,238,238)"/><rect x="103.63" y="433.02" width="2.61" height="2.65" fill="rgb(214,214,214)"/><rect x="118.07" y="433.02" width="2.61" height="2.65" fill="rgb(214,214,214)"/><rect x="121.68" y="433.02" width="2.61" height="2.65" fill="rgb(178,178,178)"/><rect x="125.29" y="433.02" width="2.61" height="2.65" fill="rgb(214,214,214)"/><rect x="128.90" y="433.02" width="2.61" height="2.65" fill="rgb(178,178,178)"/><rect x="132.51" y="433.02" width="2.61" height="2.65" fill="rgb(178,178,178)"/><rect x="96.42" y="436.67" width="2.61" height="2.65" fill="rgb(238,238,238)"/><rect x="114.46" y="436.67" width="2.61" height="2.65" fill="rgb(238,238,238)"/><rect x="121.68" y="436.67" width="2.61" height="2.65" fill="rgb(238,238,238)"/><rect x="125.29" y="436.67" width="2.61" height="2.65" fill="rgb(214,214,214)"/><rect x="128.90" y="436.67" width="2.61" height="2.65" fill="rgb(214,214,214)"/><rect x="132.51" y="436.67" width="2.61" height="2.65" fill="rgb(214,214,214)"/><rect x="100.03" y="440.32" width="2.61" height="2.65" fill="rgb(238,238,238)"/><rect x="103.63" y="440.32" width="2.61" height="2.65" fill="rgb(238,238,238)"/><rect x="118.07" y="440.32" width="2.61" height="2.65" fill="rgb(238,238,238)"/><rect x="128.90" y="440.32" width="2.61" height="2.65" fill="rgb(238,238,238)"/><rect x="132.51" y="440.32" width="2.61" height="2.65" fill="rgb(238,238,238)"/><rect x="125.29" y="443.97" width="2.61" height="2.65" fill="rgb(214,214,214)"/><rect x="128.90" y="443.97" width="2.61" height="2.65" fill="rgb(238,238,238)"/><rect x="132.51" y="443.97" width="2.61" height="2.65" fill="rgb(214,214,214)"/><rect x="121.68" y="447.62" width="2.61" height="2.65" fill="rgb(214,214,214)"/><rect x="125.29" y="447.62" width="2.61" height="2.65" fill="rgb(238,238,238)"/><rect x="132.51" y="447.62" width="2.61" height="2.65" fill="rgb(238,238,238)"/><rect x="139.72" y="392.87" width="2.61" height="2.65" fill="rgb(214,214,214)"/><rect x="143.33" y="392.87" width="2.61" height="2.65" fill="rgb(238,238,238)"/><rect x="136.12" y="396.52" width="2.61" height="2.65" fill="rgb(238,238,238)"/><rect x="136.12" y="400.17" width="2.61" height="2.65" fill="rgb(238,238,238)"/><rect x="146.94" y="400.17" width="2.61" height="2.65" fill="rgb(238,238,238)"/><rect x="150.55" y="403.82" width="2.61" height="2.65" fill="rgb(238,238,238)"/><rect x="143.33" y="407.47" width="2.61" height="2.65" fill="rgb(238,238,238)"/><rect x="136.12" y="411.12" width="2.61" height="2.65" fill="rgb(238,238,238)"/><rect x="139.72" y="411.12" width="2.61" height="2.65" fill="rgb(238,238,238)"/><rect x="146.94" y="411.12" width="2.61" height="2.65" fill="rgb(238,238,238)"/><rect x="139.72" y="414.77" width="2.61" height="2.65" fill="rgb(178,178,178)"/><rect x="143.33" y="414.77" width="2.61" height="2.65" fill="rgb(178,178,178)"/><rect x="146.94" y="414.77" width="2.61" height="2.65" fill="rgb(214,214,214)"/><rect x="136.12" y="418.42" width="2.61" height="2.65" fill="rgb(214,214,214)"/><rect x="139.72" y="418.42" width="2.61" height="2.65" fill="rgb(214,214,214)"/><rect x="146.94" y="418.42" width="2.61" height="2.65" fill="rgb(238,238,238)"/><rect x="150.55" y="418.42" width="2.61" height="2.65" fill="rgb(214,214,214)"/><rect x="154.16" y="418.42" width="2.61" height="2.65" fill="rgb(214,214,214)"/><rect x="157.77" y="418.42" width="2.61" height="2.65" fill="rgb(214,214,214)"/><rect x="136.12" y="422.07" width="2.61" height="2.65" fill="rgb(214,214,214)"/><rect x="139.72" y="422.07" width="2.61" height="2.65" fill="rgb(214,214,214)"/><rect x="143.33" y="422.07" width="2.61" height="2.65" fill="rgb(178,178,178)"/><rect x="150.55" y="422.07" width="2.61" height="2.65" fill="rgb(238,238,238)"/><rect x="154.16" y="422.07" width="2.61" height="2.65" fill="rgb(238,238,238)"/><rect x="157.77" y="422.07" width="2.61" height="2.65" fill="rgb(178,178,178)"/><rect x="161.38" y="422.07" width="2.61" height="2.65" fill="rgb(238,238,238)"/><rect x="136.12" y="425.72" width="2.61" height="2.65" fill="rgb(178,178,178)"/><rect x="139.72" y="425.72" width="2.61" height="2.65" fill="rgb(132,132,132)"/><rect x="143.33" y="425.72" width="2.61" height="2.65" fill="rgb(214,214,214)"/><rect x="146.94" y="425.72" width="2.61" height="2.65" fill="rgb(178,178,178)"/><rect x="150.55" y="425.72" width="2.61" height="2.65" fill="rgb(178,178,178)"/><rect x="154.16" y="425.72" width="2.61" height="2.65" fill="rgb(132,132,132)"/><rect x="157.77" y="425.72" width="2.61" height="2.65" fill="rgb(238,238,238)"/><rect x="161.38" y="425.72" width="2.61" height="2.65" fill="rgb(238,238,238)"/><rect x="168.60" y="425.72" width="2.61" height="2.65" fill="rgb(238,238,238)"/><rect x="136.12" y="429.37" width="2.61" height="2.65" fill="rgb(214,214,214)"/><rect x="139.72" y="429.37" width="2.61" height="2.65" fill="rgb(214,214,214)"/><rect x="143.33" y="429.37" width="2.61" height="2.65" fill="rgb(178,178,178)"/><rect x="146.94" y="429.37" width="2.61" height="2.65" fill="rgb(178,178,178)"/><rect x="150.55" y="429.37" width="2.61" height="2.65" fill="rgb(132,132,132)"/><rect x="154.16" y="429.37" width="2.61" height="2.65" fill="rgb(214,214,214)"/><rect x="157.77" y="429.37" width="2.61" height="2.65" fill="rgb(214,214,214)"/><rect x="161.38" y="429.37" width="2.61" height="2.65" fill="rgb(238,238,238)"/><rect x="172.21" y="429.37" width="2.61" height="2.65" fill="rgb(238,238,238)"/><rect x="175.81" y="429.37" width="2.61" height="2.65" fill="rgb(238,238,238)"/><rect x="136.12" y="433.02" width="2.61" height="2.65" fill="rgb(80,80,80)"/><rect x="139.72" y="433.02" width="2.61" height="2.65" fill="rgb(132,132,132)"/><rect x="143.33" y="433.02" width="2.61" height="2.65" fill="rgb(214,214,214)"/><rect x="146.94" y="433.02" width="2.61" height="2.65" fill="rgb(214,214,214)"/><rect x="150.55" y="433.02" width="2.61" height="2.65" fill="rgb(214,214,214)"/><rect x="154.16" y="433.02" width="2.61" height="2.65" fill="rgb(178,178,178)"/><rect x="157.77" y="433.02" width="2.61" height="2.65" fill="rgb(214,214,214)"/><rect x="161.38" y="433.02" width="2.61" height="2.65" fill="rgb(214,214,214)"/><rect x="164.99" y="433.02" width="2.61" height="2.65" fill="rgb(80,80,80)"/><rect x="168.60" y="433.02" width="2.61" height="2.65" fill="rgb(238,238,238)"/><rect x="172.21" y="433.02" width="2.61" height="2.65" fill="rgb(214,214,214)"/><rect x="136.12" y="436.67" width="2.61" height="2.65" fill="rgb(178,178,178)"/><rect x="139.72" y="436.67" width="2.61" height="2.65" fill="rgb(178,178,178)"/><rect x="143.33" y="436.67" width="2.61" height="2.65" fill="rgb(214,214,214)"/><rect x="146.94" y="436.67" width="2.61" height="2.65" fill="rgb(214,214,214)"/><rect x="150.55" y="436.67" width="2.61" height="2.65" fill="rgb(214,214,214)"/><rect x="154.16" y="436.67" width="2.61" height="2.65" fill="rgb(214,214,214)"/><rect x="157.77" y="436.67" width="2.61" height="2.65" fill="rgb(214,214,214)"/><rect x="161.38" y="436.67" width="2.61" height="2.65" fill="rgb(238,238,238)"/><rect x="164.99" y="436.67" width="2.61" height="2.65" fill="rgb(214,214,214)"/><rect x="168.60" y="436.67" width="2.61" height="2.65" fill="rgb(105,105,105)"/><rect x="172.21" y="436.67" width="2.61" height="2.65" fill="rgb(214,214,214)"/><rect x="175.81" y="436.67" width="2.61" height="2.65" fill="rgb(178,178,178)"/><rect x="136.12" y="440.32" width="2.61" height="2.65" fill="rgb(214,214,214)"/><rect x="139.72" y="440.32" width="2.61" height="2.65" fill="rgb(214,214,214)"/><rect x="143.33" y="440.32" width="2.61" height="2.65" fill="rgb(214,214,214)"/><rect x="146.94" y="440.32" width="2.61" height="2.65" fill="rgb(214,214,214)"/><rect x="150.55" y="440.32" width="2.61" height="2.65" fill="rgb(132,132,132)"/><rect x="154.16" y="440.32" width="2.61" height="2.65" fill="rgb(214,214,214)"/><rect x="157.77" y="440.32" width="2.61" height="2.65" fill="rgb(214,214,214)"/><rect x="161.38" y="440.32" width="2.61" height="2.65" fill="rgb(178,178,178)"/><rect x="164.99" y="440.32" width="2.61" height="2.65" fill="rgb(214,214,214)"/><rect x="168.60" y="440.32" width="2.61" height="2.65" fill="rgb(214,214,214)"/><rect x="172.21" y="440.32" width="2.61" height="2.65" fill="rgb(214,214,214)"/><rect x="175.81" y="440.32" width="2.61" height="2.65" fill="rgb(214,214,214)"/><rect x="136.12" y="443.97" width="2.61" height="2.65" fill="rgb(238,238,238)"/><rect x="139.72" y="443.97" width="2.61" height="2.65" fill="rgb(214,214,214)"/><rect x="143.33" y="443.97" width="2.61" height="2.65" fill="rgb(214,214,214)"/><rect x="146.94" y="443.97" width="2.61" height="2.65" fill="rgb(214,214,214)"/><rect x="150.55" y="443.97" width="2.61" height="2.65" fill="rgb(178,178,178)"/><rect x="154.16" y="443.97" width="2.61" height="2.65" fill="rgb(214,214,214)"/><rect x="157.77" y="443.97" width="2.61" height="2.65" fill="rgb(178,178,178)"/><rect x="161.38" y="443.97" width="2.61" height="2.65" fill="rgb(214,214,214)"/><rect x="164.99" y="443.97" width="2.61" height="2.65" fill="rgb(214,214,214)"/><rect x="168.60" y="443.97" width="2.61" height="2.65" fill="rgb(238,238,238)"/><rect x="172.21" y="443.97" width="2.61" height="2.65" fill="rgb(214,214,214)"/><rect x="175.81" y="443.97" width="2.61" height="2.65" fill="rgb(238,238,238)"/><rect x="139.72" y="447.62" width="2.61" height="2.65" fill="rgb(214,214,214)"/><rect x="146.94" y="447.62" width="2.61" height="2.65" fill="rgb(238,238,238)"/><rect x="150.55" y="447.62" width="2.61" height="2.65" fill="rgb(214,214,214)"/><rect x="154.16" y="447.62" width="2.61" height="2.65" fill="rgb(178,178,178)"/><rect x="157.77" y="447.62" width="2.61" height="2.65" fill="rgb(178,178,178)"/><rect x="168.60" y="447.62" width="2.61" height="2.65" fill="rgb(132,132,132)"/><rect x="172.21" y="447.62" width="2.61" height="2.65" fill="rgb(214,214,214)"/><rect x="175.81" y="447.62" width="2.61" height="2.65" fill="rgb(214,214,214)"/><rect x="157.77" y="451.27" width="2.61" height="2.65" fill="rgb(238,238,238)"/><rect x="175.81" y="451.27" width="2.61" height="2.65" fill="rgb(214,214,214)"/><rect x="179.42" y="429.37" width="2.61" height="2.65" fill="rgb(238,238,238)"/><rect x="190.25" y="429.37" width="2.61" height="2.65" fill="rgb(238,238,238)"/><rect x="219.12" y="429.37" width="2.61" height="2.65" fill="rgb(238,238,238)"/><rect x="222.73" y="433.02" width="2.61" height="2.65" fill="rgb(238,238,238)"/><rect x="179.42" y="436.67" width="2.61" height="2.65" fill="rgb(214,214,214)"/><rect x="190.25" y="436.67" width="2.61" height="2.65" fill="rgb(214,214,214)"/><rect x="193.86" y="436.67" width="2.61" height="2.65" fill="rgb(178,178,178)"/><rect x="197.47" y="436.67" width="2.61" height="2.65" fill="rgb(214,214,214)"/><rect x="215.51" y="436.67" width="2.61" height="2.65" fill="rgb(238,238,238)"/><rect x="183.03" y="440.32" width="2.61" height="2.65" fill="rgb(214,214,214)"/><rect x="186.64" y="440.32" width="2.61" height="2.65" fill="rgb(178,178,178)"/><rect x="197.47" y="440.32" width="2.61" height="2.65" fill="rgb(238,238,238)"/><rect x="201.08" y="440.32" width="2.61" height="2.65" fill="rgb(214,214,214)"/><rect x="204.69" y="440.32" width="2.61" height="2.65" fill="rgb(214,214,214)"/><rect x="179.42" y="443.97" width="2.61" height="2.65" fill="rgb(214,214,214)"/><rect x="183.03" y="443.97" width="2.61" height="2.65" fill="rgb(214,214,214)"/><rect x="190.25" y="443.97" width="2.61" height="2.65" fill="rgb(238,238,238)"/><rect x="208.30" y="443.97" width="2.61" height="2.65" fill="rgb(238,238,238)"/><rect x="211.91" y="443.97" width="2.61" height="2.65" fill="rgb(238,238,238)"/><rect x="215.51" y="443.97" width="2.61" height="2.65" fill="rgb(214,214,214)"/><rect x="179.42" y="447.62" width="2.61" height="2.65" fill="rgb(214,214,214)"/><rect x="183.03" y="447.62" width="2.61" height="2.65" fill="rgb(214,214,214)"/><rect x="186.64" y="447.62" width="2.61" height="2.65" fill="rgb(238,238,238)"/><rect x="190.25" y="447.62" width="2.61" height="2.65" fill="rgb(238,238,238)"/><rect x="193.86" y="447.62" width="2.61" height="2.65" fill="rgb(238,238,238)"/><rect x="211.91" y="447.62" width="2.61" height="2.65" fill="rgb(238,238,238)"/><rect x="179.42" y="451.27" width="2.61" height="2.65" fill="rgb(238,238,238)"/><rect x="183.03" y="451.27" width="2.61" height="2.65" fill="rgb(238,238,238)"/><rect x="186.64" y="451.27" width="2.61" height="2.65" fill="rgb(238,238,238)"/></g><polyline points="49.00,349.90 50.78,351.65 52.56,353.39 54.34,355.14 56.12,356.88 57.90,358.61 59.68,360.34 61.46,362.07 63.24,363.79 65.02,365.51 66.80,367.22 68.58,368.92 70.36,370.63 72.14,372.32 73.92,374.01 75.70,375.70 77.48,377.37 79.26,379.05 81.04,380.71 82.82,382.37 84.60,384.02 86.38,385.66 88.16,387.29 89.94,388.92 91.72,390.54 93.50,392.15 95.28,393.75 97.06,395.34 98.84,396.91 100.62,398.48 102.40,400.04 104.18,401.59 105.96,403.12 107.74,404.65 109.52,406.16 111.30,407.65 113.08,409.14 114.86,410.61 116.64,412.06 118.42,413.50 120.20,414.93 121.98,416.34 123.76,417.73 125.54,419.10 127.32,420.46 129.10,421.80 130.88,423.12 132.66,424.41 134.44,425.69 136.22,426.95 138.00,428.19 139.78,429.40 141.56,430.59 143.34,431.76 145.12,432.90 146.90,434.02 148.68,435.11 150.46,436.18 152.24,437.22 154.02,438.23 155.80,439.22 157.58,440.17 159.36,441.10 161.14,442.00 162.92,442.87 164.70,443.70 166.48,444.51 168.26,445.28 170.04,446.03 171.82,446.74 173.60,447.42 175.38,448.07 177.16,448.68 178.94,449.26 180.72,449.81 182.50,450.33 184.28,450.82 186.06,451.28 187.84,451.70 189.62,452.10 191.40,452.46 193.18,452.80 194.96,453.11 196.74,453.39 198.52,453.65 200.30,453.88 202.08,454.09 203.86,454.28 205.64,454.44 207.42,454.59 209.20,454.72 210.98,454.83 212.76,454.93 214.54,455.01 216.32,455.09 218.10,455.15 219.88,455.20 221.66,455.24 223.44,455.27 225.22,455.30 227.00,455.32" fill="none" stroke="#111111" stroke-width="0.9"/></svg><g fill="#2b7dcc"><rect x="282.24" y="108.52" width="1.69" height="0.48"/><rect x="284.72" y="107.72" width="1.69" height="1.28"/><rect x="287.21" y="106.93" width="1.69" height="2.07"/><rect x="289.70" y="102.17" width="1.69" height="6.83"/><rect x="292.18" y="100.58" width="1.69" height="8.42"/><rect x="294.67" y="99.79" width="1.69" height="9.21"/><rect x="297.16" y="93.44" width="1.69" height="15.56"/><rect x="299.65" y="88.67" width="1.69" height="20.33"/><rect x="302.13" y="87.09" width="1.69" height="21.91"/><rect x="304.62" y="68.83" width="1.69" height="40.17"/><rect x="307.11" y="73.60" width="1.69" height="35.40"/><rect x="309.59" y="60.10" width="1.69" height="48.90"/><rect x="312.08" y="47.40" width="1.69" height="61.60"/><rect x="314.57" y="47.40" width="1.69" height="61.60"/><rect x="317.05" y="52.96" width="1.69" height="56.04"/><rect x="319.54" y="55.82" width="1.69" height="53.18"/><rect x="322.03" y="66.93" width="1.69" height="42.07"/><rect x="324.52" y="70.74" width="1.69" height="38.26"/><rect x="327.00" y="68.83" width="1.69" height="40.17"/><rect x="329.49" y="71.69" width="1.69" height="37.31"/><rect x="331.98" y="86.29" width="1.69" height="22.71"/><rect x="334.46" y="92.64" width="1.69" height="16.36"/><rect x="336.95" y="99.79" width="1.69" height="9.21"/><rect x="339.44" y="100.26" width="1.69" height="8.74"/><rect x="341.92" y="103.75" width="1.69" height="5.25"/><rect x="344.41" y="101.37" width="1.69" height="7.63"/><rect x="346.90" y="105.34" width="1.69" height="3.66"/><rect x="349.39" y="106.93" width="1.69" height="2.07"/><rect x="351.87" y="107.72" width="1.69" height="1.28"/><rect x="354.36" y="108.20" width="1.69" height="0.80"/><rect x="356.85" y="108.52" width="1.69" height="0.48"/><rect x="274.78" y="108.40" width="1.69" height="0.6"/><rect x="277.26" y="108.40" width="1.69" height="0.6"/><rect x="279.75" y="108.40" width="1.69" height="0.6"/><rect x="359.33" y="108.40" width="1.69" height="0.6"/><rect x="361.82" y="108.40" width="1.69" height="0.6"/></g><polyline points="275.48,108.42 276.18,108.33 276.87,108.23 277.57,108.11 278.26,107.97 278.96,107.82 279.65,107.65 280.35,107.45 281.04,107.24 281.74,106.99 282.43,106.72 283.13,106.42 283.82,106.09 284.52,105.72 285.22,105.32 285.91,104.88 286.61,104.39 287.30,103.86 288.00,103.29 288.69,102.66 289.39,101.99 290.08,101.26 290.78,100.48 291.47,99.64 292.17,98.74 292.86,97.79 293.56,96.78 294.25,95.72 294.95,94.59 295.65,93.41 296.34,92.18 297.04,90.89 297.73,89.55 298.43,88.17 299.12,86.74 299.82,85.27 300.51,83.77 301.21,82.25 301.90,80.70 302.60,79.14 303.29,77.57 303.99,76.00 304.68,74.43 305.38,72.89 306.07,71.37 306.77,69.88 307.47,68.44 308.16,67.04 308.86,65.71 309.55,64.45 310.25,63.27 310.94,62.17 311.64,61.16 312.33,60.25 313.03,59.46 313.72,58.77 314.42,58.20 315.11,57.76 315.81,57.43 316.50,57.24 317.20,57.18 317.90,57.24 318.59,57.43 319.29,57.76 319.98,58.20 320.68,58.77 321.37,59.46 322.07,60.25 322.76,61.16 323.46,62.17 324.15,63.27 324.85,64.45 325.54,65.71 326.24,67.04 326.93,68.44 327.63,69.88 328.32,71.37 329.02,72.89 329.72,74.43 330.41,76.00 331.11,77.57 331.80,79.14 332.50,80.70 333.19,82.25 333.89,83.77 334.58,85.27 335.28,86.74 335.97,88.17 336.67,89.55 337.36,90.89 338.06,92.18 338.75,93.41 339.45,94.59 340.15,95.72 340.84,96.78 341.54,97.79 342.23,98.74 342.93,99.64 343.62,100.48 344.32,101.26 345.01,101.99 345.71,102.66 346.40,103.29 347.10,103.86 347.79,104.39 348.49,104.88 349.18,105.32 349.88,105.72 350.57,106.09 351.27,106.42 351.97,106.72 352.66,106.99 353.36,107.24 354.05,107.45 354.75,107.65 355.44,107.82 356.14,107.97 356.83,108.11 357.53,108.23 358.22,108.33 358.92,108.42" fill="none" stroke="#000" stroke-width="1.6"/><svg x="227" y="109.0" width="178.0" height="178.0" viewBox="227 109.0 178.0 178.0" overflow="hidden"><g filter="url(#soft)"><rect x="256.37" y="204.49" width="2.61" height="2.61" fill="rgb(214,214,214)"/><rect x="263.59" y="204.49" width="2.61" height="2.61" fill="rgb(214,214,214)"/><rect x="267.20" y="204.49" width="2.61" height="2.61" fill="rgb(132,132,132)"/><rect x="238.33" y="208.10" width="2.61" height="2.61" fill="rgb(238,238,238)"/><rect x="241.94" y="208.10" width="2.61" height="2.61" fill="rgb(238,238,238)"/><rect x="252.76" y="208.10" width="2.61" height="2.61" fill="rgb(178,178,178)"/><rect x="256.37" y="208.10" width="2.61" height="2.61" fill="rgb(238,238,238)"/><rect x="259.98" y="208.10" width="2.61" height="2.61" fill="rgb(214,214,214)"/><rect x="263.59" y="208.10" width="2.61" height="2.61" fill="rgb(80,80,80)"/><rect x="267.20" y="208.10" width="2.61" height="2.61" fill="rgb(132,132,132)"/><rect x="234.72" y="211.71" width="2.61" height="2.61" fill="rgb(238,238,238)"/><rect x="238.33" y="211.71" width="2.61" height="2.61" fill="rgb(238,238,238)"/><rect x="249.15" y="211.71" width="2.61" height="2.61" fill="rgb(238,238,238)"/><rect x="256.37" y="211.71" width="2.61" height="2.61" fill="rgb(105,105,105)"/><rect x="259.98" y="211.71" width="2.61" height="2.61" fill="rgb(132,132,132)"/><rect x="263.59" y="211.71" width="2.61" height="2.61" fill="rgb(132,132,132)"/><rect x="267.20" y="211.71" width="2.61" height="2.61" fill="rgb(105,105,105)"/><rect x="234.72" y="215.32" width="2.61" height="2.61" fill="rgb(238,238,238)"/><rect x="241.94" y="215.32" width="2.61" height="2.61" fill="rgb(214,214,214)"/><rect x="245.55" y="215.32" width="2.61" height="2.61" fill="rgb(214,214,214)"/><rect x="249.15" y="215.32" width="2.61" height="2.61" fill="rgb(238,238,238)"/><rect x="252.76" y="215.32" width="2.61" height="2.61" fill="rgb(178,178,178)"/><rect x="256.37" y="215.32" width="2.61" height="2.61" fill="rgb(56,56,56)"/><rect x="259.98" y="215.32" width="2.61" height="2.61" fill="rgb(105,105,105)"/><rect x="263.59" y="215.32" width="2.61" height="2.61" fill="rgb(132,132,132)"/><rect x="267.20" y="215.32" width="2.61" height="2.61" fill="rgb(80,80,80)"/><rect x="238.33" y="218.93" width="2.61" height="2.61" fill="rgb(132,132,132)"/><rect x="241.94" y="218.93" width="2.61" height="2.61" fill="rgb(214,214,214)"/><rect x="245.55" y="218.93" width="2.61" height="2.61" fill="rgb(132,132,132)"/><rect x="249.15" y="218.93" width="2.61" height="2.61" fill="rgb(214,214,214)"/><rect x="252.76" y="218.93" width="2.61" height="2.61" fill="rgb(132,132,132)"/><rect x="256.37" y="218.93" width="2.61" height="2.61" fill="rgb(105,105,105)"/><rect x="259.98" y="218.93" width="2.61" height="2.61" fill="rgb(56,56,56)"/><rect x="263.59" y="218.93" width="2.61" height="2.61" fill="rgb(56,56,56)"/><rect x="267.20" y="218.93" width="2.61" height="2.61" fill="rgb(132,132,132)"/><rect x="234.72" y="222.54" width="2.61" height="2.61" fill="rgb(238,238,238)"/><rect x="238.33" y="222.54" width="2.61" height="2.61" fill="rgb(214,214,214)"/><rect x="241.94" y="222.54" width="2.61" height="2.61" fill="rgb(214,214,214)"/><rect x="245.55" y="222.54" width="2.61" height="2.61" fill="rgb(178,178,178)"/><rect x="249.15" y="222.54" width="2.61" height="2.61" fill="rgb(178,178,178)"/><rect x="252.76" y="222.54" width="2.61" height="2.61" fill="rgb(56,56,56)"/><rect x="256.37" y="222.54" width="2.61" height="2.61" fill="rgb(80,80,80)"/><rect x="259.98" y="222.54" width="2.61" height="2.61" fill="rgb(132,132,132)"/><rect x="263.59" y="222.54" width="2.61" height="2.61" fill="rgb(105,105,105)"/><rect x="267.20" y="222.54" width="2.61" height="2.61" fill="rgb(178,178,178)"/><rect x="231.11" y="226.15" width="2.61" height="2.61" fill="rgb(238,238,238)"/><rect x="234.72" y="226.15" width="2.61" height="2.61" fill="rgb(214,214,214)"/><rect x="238.33" y="226.15" width="2.61" height="2.61" fill="rgb(178,178,178)"/><rect x="241.94" y="226.15" width="2.61" height="2.61" fill="rgb(214,214,214)"/><rect x="245.55" y="226.15" width="2.61" height="2.61" fill="rgb(214,214,214)"/><rect x="249.15" y="226.15" width="2.61" height="2.61" fill="rgb(132,132,132)"/><rect x="252.76" y="226.15" width="2.61" height="2.61" fill="rgb(178,178,178)"/><rect x="256.37" y="226.15" width="2.61" height="2.61" fill="rgb(132,132,132)"/><rect x="259.98" y="226.15" width="2.61" height="2.61" fill="rgb(178,178,178)"/><rect x="263.59" y="226.15" width="2.61" height="2.61" fill="rgb(214,214,214)"/><rect x="267.20" y="226.15" width="2.61" height="2.61" fill="rgb(238,238,238)"/><rect x="227.50" y="229.76" width="2.61" height="2.61" fill="rgb(238,238,238)"/><rect x="231.11" y="229.76" width="2.61" height="2.61" fill="rgb(238,238,238)"/><rect x="234.72" y="229.76" width="2.61" height="2.61" fill="rgb(238,238,238)"/><rect x="238.33" y="229.76" width="2.61" height="2.61" fill="rgb(238,238,238)"/><rect x="241.94" y="229.76" width="2.61" height="2.61" fill="rgb(178,178,178)"/><rect x="245.55" y="229.76" width="2.61" height="2.61" fill="rgb(214,214,214)"/><rect x="249.15" y="229.76" width="2.61" height="2.61" fill="rgb(178,178,178)"/><rect x="252.76" y="229.76" width="2.61" height="2.61" fill="rgb(214,214,214)"/><rect x="256.37" y="229.76" width="2.61" height="2.61" fill="rgb(178,178,178)"/><rect x="259.98" y="229.76" width="2.61" height="2.61" fill="rgb(132,132,132)"/><rect x="263.59" y="229.76" width="2.61" height="2.61" fill="rgb(214,214,214)"/><rect x="231.11" y="233.37" width="2.61" height="2.61" fill="rgb(214,214,214)"/><rect x="234.72" y="233.37" width="2.61" height="2.61" fill="rgb(238,238,238)"/><rect x="238.33" y="233.37" width="2.61" height="2.61" fill="rgb(214,214,214)"/><rect x="241.94" y="233.37" width="2.61" height="2.61" fill="rgb(178,178,178)"/><rect x="245.55" y="233.37" width="2.61" height="2.61" fill="rgb(214,214,214)"/><rect x="249.15" y="233.37" width="2.61" height="2.61" fill="rgb(105,105,105)"/><rect x="252.76" y="233.37" width="2.61" height="2.61" fill="rgb(214,214,214)"/><rect x="256.37" y="233.37" width="2.61" height="2.61" fill="rgb(238,238,238)"/><rect x="259.98" y="233.37" width="2.61" height="2.61" fill="rgb(238,238,238)"/><rect x="227.50" y="236.97" width="2.61" height="2.61" fill="rgb(238,238,238)"/><rect x="231.11" y="236.97" width="2.61" height="2.61" fill="rgb(214,214,214)"/><rect x="234.72" y="236.97" width="2.61" height="2.61" fill="rgb(238,238,238)"/><rect x="238.33" y="236.97" width="2.61" height="2.61" fill="rgb(214,214,214)"/><rect x="241.94" y="236.97" width="2.61" height="2.61" fill="rgb(238,238,238)"/><rect x="245.55" y="236.97" width="2.61" height="2.61" fill="rgb(132,132,132)"/><rect x="249.15" y="236.97" width="2.61" height="2.61" fill="rgb(214,214,214)"/><rect x="252.76" y="236.97" width="2.61" height="2.61" fill="rgb(238,238,238)"/><rect x="252.76" y="240.58" width="2.61" height="2.61" fill="rgb(238,238,238)"/><rect x="245.55" y="244.19" width="2.61" height="2.61" fill="rgb(238,238,238)"/><rect x="252.76" y="244.19" width="2.61" height="2.61" fill="rgb(238,238,238)"/><rect x="238.33" y="255.02" width="2.61" height="2.61" fill="rgb(238,238,238)"/><rect x="306.90" y="172.01" width="2.61" height="2.61" fill="rgb(238,238,238)"/><rect x="310.51" y="172.01" width="2.61" height="2.61" fill="rgb(238,238,238)"/><rect x="299.68" y="175.62" width="2.61" height="2.61" fill="rgb(238,238,238)"/><rect x="303.29" y="175.62" width="2.61" height="2.61" fill="rgb(238,238,238)"/><rect x="306.90" y="175.62" width="2.61" height="2.61" fill="rgb(214,214,214)"/><rect x="303.29" y="179.23" width="2.61" height="2.61" fill="rgb(178,178,178)"/><rect x="306.90" y="179.23" width="2.61" height="2.61" fill="rgb(214,214,214)"/><rect x="310.51" y="179.23" width="2.61" height="2.61" fill="rgb(214,214,214)"/><rect x="288.85" y="182.84" width="2.61" height="2.61" fill="rgb(238,238,238)"/><rect x="296.07" y="182.84" width="2.61" height="2.61" fill="rgb(238,238,238)"/><rect x="299.68" y="182.84" width="2.61" height="2.61" fill="rgb(214,214,214)"/><rect x="303.29" y="182.84" width="2.61" height="2.61" fill="rgb(214,214,214)"/><rect x="306.90" y="182.84" width="2.61" height="2.61" fill="rgb(238,238,238)"/><rect x="310.51" y="182.84" width="2.61" height="2.61" fill="rgb(214,214,214)"/><rect x="278.03" y="186.45" width="2.61" height="2.61" fill="rgb(238,238,238)"/><rect x="285.24" y="186.45" width="2.61" height="2.61" fill="rgb(238,238,238)"/><rect x="288.85" y="186.45" width="2.61" height="2.61" fill="rgb(238,238,238)"/><rect x="292.46" y="186.45" width="2.61" height="2.61" fill="rgb(238,238,238)"/><rect x="296.07" y="186.45" width="2.61" height="2.61" fill="rgb(178,178,178)"/><rect x="299.68" y="186.45" width="2.61" height="2.61" fill="rgb(214,214,214)"/><rect x="303.29" y="186.45" width="2.61" height="2.61" fill="rgb(214,214,214)"/><rect x="306.90" y="186.45" width="2.61" height="2.61" fill="rgb(105,105,105)"/><rect x="310.51" y="186.45" width="2.61" height="2.61" fill="rgb(178,178,178)"/><rect x="274.42" y="190.06" width="2.61" height="2.61" fill="rgb(238,238,238)"/><rect x="278.03" y="190.06" width="2.61" height="2.61" fill="rgb(238,238,238)"/><rect x="281.63" y="190.06" width="2.61" height="2.61" fill="rgb(238,238,238)"/><rect x="288.85" y="190.06" width="2.61" height="2.61" fill="rgb(214,214,214)"/><rect x="292.46" y="190.06" width="2.61" height="2.61" fill="rgb(178,178,178)"/><rect x="296.07" y="190.06" width="2.61" height="2.61" fill="rgb(214,214,214)"/><rect x="299.68" y="190.06" width="2.61" height="2.61" fill="rgb(132,132,132)"/><rect x="303.29" y="190.06" width="2.61" height="2.61" fill="rgb(132,132,132)"/><rect x="306.90" y="190.06" width="2.61" height="2.61" fill="rgb(80,80,80)"/><rect x="310.51" y="190.06" width="2.61" height="2.61" fill="rgb(214,214,214)"/><rect x="274.42" y="193.67" width="2.61" height="2.61" fill="rgb(214,214,214)"/><rect x="278.03" y="193.67" width="2.61" height="2.61" fill="rgb(238,238,238)"/><rect x="281.63" y="193.67" width="2.61" height="2.61" fill="rgb(214,214,214)"/><rect x="285.24" y="193.67" width="2.61" height="2.61" fill="rgb(178,178,178)"/><rect x="288.85" y="193.67" width="2.61" height="2.61" fill="rgb(178,178,178)"/><rect x="292.46" y="193.67" width="2.61" height="2.61" fill="rgb(214,214,214)"/><rect x="296.07" y="193.67" width="2.61" height="2.61" fill="rgb(80,80,80)"/><rect x="299.68" y="193.67" width="2.61" height="2.61" fill="rgb(178,178,178)"/><rect x="303.29" y="193.67" width="2.61" height="2.61" fill="rgb(105,105,105)"/><rect x="306.90" y="193.67" width="2.61" height="2.61" fill="rgb(105,105,105)"/><rect x="310.51" y="193.67" width="2.61" height="2.61" fill="rgb(238,238,238)"/><rect x="270.81" y="197.28" width="2.61" height="2.61" fill="rgb(238,238,238)"/><rect x="274.42" y="197.28" width="2.61" height="2.61" fill="rgb(214,214,214)"/><rect x="278.03" y="197.28" width="2.61" height="2.61" fill="rgb(178,178,178)"/><rect x="281.63" y="197.28" width="2.61" height="2.61" fill="rgb(214,214,214)"/><rect x="285.24" y="197.28" width="2.61" height="2.61" fill="rgb(132,132,132)"/><rect x="288.85" y="197.28" width="2.61" height="2.61" fill="rgb(105,105,105)"/><rect x="292.46" y="197.28" width="2.61" height="2.61" fill="rgb(132,132,132)"/><rect x="296.07" y="197.28" width="2.61" height="2.61" fill="rgb(132,132,132)"/><rect x="299.68" y="197.28" width="2.61" height="2.61" fill="rgb(214,214,214)"/><rect x="303.29" y="197.28" width="2.61" height="2.61" fill="rgb(214,214,214)"/><rect x="306.90" y="197.28" width="2.61" height="2.61" fill="rgb(214,214,214)"/><rect x="270.81" y="200.88" width="2.61" height="2.61" fill="rgb(178,178,178)"/><rect x="274.42" y="200.88" width="2.61" height="2.61" fill="rgb(178,178,178)"/><rect x="278.03" y="200.88" width="2.61" height="2.61" fill="rgb(132,132,132)"/><rect x="281.63" y="200.88" width="2.61" height="2.61" fill="rgb(178,178,178)"/><rect x="285.24" y="200.88" width="2.61" height="2.61" fill="rgb(105,105,105)"/><rect x="288.85" y="200.88" width="2.61" height="2.61" fill="rgb(178,178,178)"/><rect x="292.46" y="200.88" width="2.61" height="2.61" fill="rgb(178,178,178)"/><rect x="296.07" y="200.88" width="2.61" height="2.61" fill="rgb(214,214,214)"/><rect x="299.68" y="200.88" width="2.61" height="2.61" fill="rgb(238,238,238)"/><rect x="270.81" y="204.49" width="2.61" height="2.61" fill="rgb(132,132,132)"/><rect x="274.42" y="204.49" width="2.61" height="2.61" fill="rgb(105,105,105)"/><rect x="278.03" y="204.49" width="2.61" height="2.61" fill="rgb(132,132,132)"/><rect x="281.63" y="204.49" width="2.61" height="2.61" fill="rgb(132,132,132)"/><rect x="285.24" y="204.49" width="2.61" height="2.61" fill="rgb(105,105,105)"/><rect x="288.85" y="204.49" width="2.61" height="2.61" fill="rgb(132,132,132)"/><rect x="292.46" y="204.49" width="2.61" height="2.61" fill="rgb(214,214,214)"/><rect x="296.07" y="204.49" width="2.61" height="2.61" fill="rgb(214,214,214)"/><rect x="270.81" y="208.10" width="2.61" height="2.61" fill="rgb(34,34,34)"/><rect x="274.42" y="208.10" width="2.61" height="2.61" fill="rgb(178,178,178)"/><rect x="278.03" y="208.10" width="2.61" height="2.61" fill="rgb(132,132,132)"/><rect x="281.63" y="208.10" width="2.61" height="2.61" fill="rgb(105,105,105)"/><rect x="285.24" y="208.10" width="2.61" height="2.61" fill="rgb(56,56,56)"/><rect x="288.85" y="208.10" width="2.61" height="2.61" fill="rgb(214,214,214)"/><rect x="292.46" y="208.10" width="2.61" height="2.61" fill="rgb(238,238,238)"/><rect x="270.81" y="211.71" width="2.61" height="2.61" fill="rgb(132,132,132)"/><rect x="274.42" y="211.71" width="2.61" height="2.61" fill="rgb(105,105,105)"/><rect x="278.03" y="211.71" width="2.61" height="2.61" fill="rgb(132,132,132)"/><rect x="281.63" y="211.71" width="2.61" height="2.61" fill="rgb(214,214,214)"/><rect x="285.24" y="211.71" width="2.61" height="2.61" fill="rgb(238,238,238)"/><rect x="270.81" y="215.32" width="2.61" height="2.61" fill="rgb(178,178,178)"/><rect x="274.42" y="215.32" width="2.61" height="2.61" fill="rgb(132,132,132)"/><rect x="278.03" y="215.32" width="2.61" height="2.61" fill="rgb(178,178,178)"/><rect x="281.63" y="215.32" width="2.61" height="2.61" fill="rgb(214,214,214)"/><rect x="270.81" y="218.93" width="2.61" height="2.61" fill="rgb(132,132,132)"/><rect x="274.42" y="218.93" width="2.61" height="2.61" fill="rgb(214,214,214)"/><rect x="278.03" y="218.93" width="2.61" height="2.61" fill="rgb(214,214,214)"/><rect x="281.63" y="218.93" width="2.61" height="2.61" fill="rgb(238,238,238)"/><rect x="270.81" y="222.54" width="2.61" height="2.61" fill="rgb(238,238,238)"/><rect x="274.42" y="222.54" width="2.61" height="2.61" fill="rgb(214,214,214)"/><rect x="278.03" y="222.54" width="2.61" height="2.61" fill="rgb(238,238,238)"/><rect x="270.81" y="226.15" width="2.61" height="2.61" fill="rgb(238,238,238)"/><rect x="274.42" y="226.15" width="2.61" height="2.61" fill="rgb(214,214,214)"/><rect x="270.81" y="229.76" width="2.61" height="2.61" fill="rgb(214,214,214)"/><rect x="274.42" y="229.76" width="2.61" height="2.61" fill="rgb(238,238,238)"/><rect x="270.81" y="233.37" width="2.61" height="2.61" fill="rgb(238,238,238)"/><rect x="346.60" y="146.75" width="2.61" height="2.61" fill="rgb(214,214,214)"/><rect x="350.21" y="146.75" width="2.61" height="2.61" fill="rgb(214,214,214)"/><rect x="346.60" y="150.36" width="2.61" height="2.61" fill="rgb(214,214,214)"/><rect x="350.21" y="150.36" width="2.61" height="2.61" fill="rgb(178,178,178)"/><rect x="353.81" y="150.36" width="2.61" height="2.61" fill="rgb(178,178,178)"/><rect x="339.38" y="153.97" width="2.61" height="2.61" fill="rgb(214,214,214)"/><rect x="342.99" y="153.97" width="2.61" height="2.61" fill="rgb(178,178,178)"/><rect x="346.60" y="153.97" width="2.61" height="2.61" fill="rgb(132,132,132)"/><rect x="350.21" y="153.97" width="2.61" height="2.61" fill="rgb(178,178,178)"/><rect x="353.81" y="153.97" width="2.61" height="2.61" fill="rgb(214,214,214)"/><rect x="328.55" y="157.58" width="2.61" height="2.61" fill="rgb(214,214,214)"/><rect x="335.77" y="157.58" width="2.61" height="2.61" fill="rgb(178,178,178)"/><rect x="339.38" y="157.58" width="2.61" height="2.61" fill="rgb(178,178,178)"/><rect x="342.99" y="157.58" width="2.61" height="2.61" fill="rgb(105,105,105)"/><rect x="346.60" y="157.58" width="2.61" height="2.61" fill="rgb(178,178,178)"/><rect x="350.21" y="157.58" width="2.61" height="2.61" fill="rgb(178,178,178)"/><rect x="317.73" y="161.19" width="2.61" height="2.61" fill="rgb(238,238,238)"/><rect x="321.33" y="161.19" width="2.61" height="2.61" fill="rgb(214,214,214)"/><rect x="324.94" y="161.19" width="2.61" height="2.61" fill="rgb(214,214,214)"/><rect x="332.16" y="161.19" width="2.61" height="2.61" fill="rgb(214,214,214)"/><rect x="335.77" y="161.19" width="2.61" height="2.61" fill="rgb(132,132,132)"/><rect x="339.38" y="161.19" width="2.61" height="2.61" fill="rgb(132,132,132)"/><rect x="342.99" y="161.19" width="2.61" height="2.61" fill="rgb(132,132,132)"/><rect x="346.60" y="161.19" width="2.61" height="2.61" fill="rgb(178,178,178)"/><rect x="317.73" y="164.79" width="2.61" height="2.61" fill="rgb(214,214,214)"/><rect x="321.33" y="164.79" width="2.61" height="2.61" fill="rgb(214,214,214)"/><rect x="328.55" y="164.79" width="2.61" height="2.61" fill="rgb(178,178,178)"/><rect x="332.16" y="164.79" width="2.61" height="2.61" fill="rgb(105,105,105)"/><rect x="335.77" y="164.79" width="2.61" height="2.61" fill="rgb(132,132,132)"/><rect x="339.38" y="164.79" width="2.61" height="2.61" fill="rgb(178,178,178)"/><rect x="342.99" y="164.79" width="2.61" height="2.61" fill="rgb(178,178,178)"/><rect x="314.12" y="168.40" width="2.61" height="2.61" fill="rgb(214,214,214)"/><rect x="317.73" y="168.40" width="2.61" height="2.61" fill="rgb(238,238,238)"/><rect x="321.33" y="168.40" width="2.61" height="2.61" fill="rgb(132,132,132)"/><rect x="324.94" y="168.40" width="2.61" height="2.61" fill="rgb(132,132,132)"/><rect x="328.55" y="168.40" width="2.61" height="2.61" fill="rgb(132,132,132)"/><rect x="332.16" y="168.40" width="2.61" height="2.61" fill="rgb(178,178,178)"/><rect x="335.77" y="168.40" width="2.61" height="2.61" fill="rgb(178,178,178)"/><rect x="339.38" y="168.40" width="2.61" height="2.61" fill="rgb(214,214,214)"/><rect x="314.12" y="172.01" width="2.61" height="2.61" fill="rgb(238,238,238)"/><rect x="317.73" y="172.01" width="2.61" height="2.61" fill="rgb(214,214,214)"/><rect x="321.33" y="172.01" width="2.61" height="2.61" fill="rgb(178,178,178)"/><rect x="324.94" y="172.01" width="2.61" height="2.61" fill="rgb(132,132,132)"/><rect x="328.55" y="172.01" width="2.61" height="2.61" fill="rgb(80,80,80)"/><rect x="332.16" y="172.01" width="2.61" height="2.61" fill="rgb(132,132,132)"/><rect x="335.77" y="172.01" width="2.61" height="2.61" fill="rgb(214,214,214)"/><rect x="314.12" y="175.62" width="2.61" height="2.61" fill="rgb(214,214,214)"/><rect x="317.73" y="175.62" width="2.61" height="2.61" fill="rgb(105,105,105)"/><rect x="321.33" y="175.62" width="2.61" height="2.61" fill="rgb(132,132,132)"/><rect x="324.94" y="175.62" width="2.61" height="2.61" fill="rgb(178,178,178)"/><rect x="328.55" y="175.62" width="2.61" height="2.61" fill="rgb(105,105,105)"/><rect x="332.16" y="175.62" width="2.61" height="2.61" fill="rgb(178,178,178)"/><rect x="314.12" y="179.23" width="2.61" height="2.61" fill="rgb(178,178,178)"/><rect x="317.73" y="179.23" width="2.61" height="2.61" fill="rgb(80,80,80)"/><rect x="321.33" y="179.23" width="2.61" height="2.61" fill="rgb(132,132,132)"/><rect x="324.94" y="179.23" width="2.61" height="2.61" fill="rgb(178,178,178)"/><rect x="328.55" y="179.23" width="2.61" height="2.61" fill="rgb(178,178,178)"/><rect x="332.16" y="179.23" width="2.61" height="2.61" fill="rgb(214,214,214)"/><rect x="314.12" y="182.84" width="2.61" height="2.61" fill="rgb(105,105,105)"/><rect x="317.73" y="182.84" width="2.61" height="2.61" fill="rgb(178,178,178)"/><rect x="321.33" y="182.84" width="2.61" height="2.61" fill="rgb(178,178,178)"/><rect x="324.94" y="182.84" width="2.61" height="2.61" fill="rgb(214,214,214)"/><rect x="314.12" y="186.45" width="2.61" height="2.61" fill="rgb(14,14,14)"/><rect x="317.73" y="186.45" width="2.61" height="2.61" fill="rgb(178,178,178)"/><rect x="314.12" y="190.06" width="2.61" height="2.61" fill="rgb(214,214,214)"/><rect x="317.73" y="190.06" width="2.61" height="2.61" fill="rgb(238,238,238)"/><rect x="393.51" y="114.27" width="2.61" height="2.61" fill="rgb(214,214,214)"/><rect x="397.12" y="114.27" width="2.61" height="2.61" fill="rgb(214,214,214)"/><rect x="393.51" y="117.88" width="2.61" height="2.61" fill="rgb(214,214,214)"/><rect x="382.69" y="121.49" width="2.61" height="2.61" fill="rgb(214,214,214)"/><rect x="386.30" y="121.49" width="2.61" height="2.61" fill="rgb(214,214,214)"/><rect x="375.47" y="125.09" width="2.61" height="2.61" fill="rgb(214,214,214)"/><rect x="379.08" y="125.09" width="2.61" height="2.61" fill="rgb(178,178,178)"/><rect x="371.86" y="128.70" width="2.61" height="2.61" fill="rgb(214,214,214)"/><rect x="375.47" y="128.70" width="2.61" height="2.61" fill="rgb(214,214,214)"/><rect x="371.86" y="132.31" width="2.61" height="2.61" fill="rgb(178,178,178)"/><rect x="364.64" y="135.92" width="2.61" height="2.61" fill="rgb(214,214,214)"/><rect x="368.25" y="135.92" width="2.61" height="2.61" fill="rgb(178,178,178)"/><rect x="364.64" y="139.53" width="2.61" height="2.61" fill="rgb(178,178,178)"/><rect x="361.03" y="143.14" width="2.61" height="2.61" fill="rgb(178,178,178)"/><rect x="364.64" y="143.14" width="2.61" height="2.61" fill="rgb(214,214,214)"/><rect x="357.42" y="146.75" width="2.61" height="2.61" fill="rgb(214,214,214)"/><rect x="361.03" y="146.75" width="2.61" height="2.61" fill="rgb(178,178,178)"/><rect x="364.64" y="146.75" width="2.61" height="2.61" fill="rgb(214,214,214)"/><rect x="357.42" y="150.36" width="2.61" height="2.61" fill="rgb(178,178,178)"/><rect x="361.03" y="150.36" width="2.61" height="2.61" fill="rgb(214,214,214)"/><rect x="357.42" y="153.97" width="2.61" height="2.61" fill="rgb(214,214,214)"/><rect x="259.98" y="204.49" width="2.61" height="2.61" fill="rgb(238,238,238)"/><rect x="256.37" y="200.88" width="2.61" height="2.61" fill="rgb(238,238,238)"/><rect x="259.98" y="200.88" width="2.61" height="2.61" fill="rgb(238,238,238)"/><rect x="263.59" y="200.88" width="2.61" height="2.61" fill="rgb(214,214,214)"/><rect x="267.20" y="200.88" width="2.61" height="2.61" fill="rgb(238,238,238)"/><rect x="263.59" y="197.28" width="2.61" height="2.61" fill="rgb(238,238,238)"/><rect x="267.20" y="197.28" width="2.61" height="2.61" fill="rgb(238,238,238)"/><rect x="267.20" y="193.67" width="2.61" height="2.61" fill="rgb(238,238,238)"/></g><line x1="227" y1="287.0" x2="405.0" y2="109.0" stroke="#383838" stroke-width="1.1" stroke-dasharray="1.2 3.0"/><polyline points="227.00,236.11 228.78,235.18 230.56,234.25 232.34,233.31 234.12,232.38 235.90,231.44 237.68,230.50 239.46,229.55 241.24,228.61 243.02,227.66 244.80,226.71 246.58,225.76 248.36,224.80 250.14,223.85 251.92,222.89 253.70,221.92 255.48,220.96 257.26,219.99 259.04,219.01 260.82,218.04 262.60,217.06 264.38,216.07 266.16,215.08 267.94,214.09 269.72,213.10 271.50,212.09 273.28,211.09 275.06,210.08 276.84,209.06 278.62,208.04 280.40,207.02 282.18,205.99 283.96,204.95 285.74,203.91 287.52,202.86 289.30,201.80 291.08,200.74 292.86,199.67 294.64,198.59 296.42,197.51 298.20,196.42 299.98,195.32 301.76,194.21 303.54,193.10 305.32,191.97 307.10,190.84 308.88,189.69 310.66,188.54 312.44,187.38 314.22,186.20 316.00,185.02 317.78,183.83 319.56,182.62 321.34,181.40 323.12,180.17 324.90,178.93 326.68,177.68 328.46,176.41 330.24,175.13 332.02,173.84 333.80,172.53 335.58,171.21 337.36,169.87 339.14,168.52 340.92,167.16 342.70,165.78 344.48,164.38 346.26,162.97 348.04,161.55 349.82,160.11 351.60,158.65 353.38,157.18 355.16,155.69 356.94,154.19 358.72,152.67 360.50,151.14 362.28,149.59 364.06,148.02 365.84,146.44 367.62,144.85 369.40,143.24 371.18,141.62 372.96,139.99 374.74,138.34 376.52,136.68 378.30,135.01 380.08,133.32 381.86,131.63 383.64,129.93 385.42,128.22 387.20,126.49 388.98,124.77 390.76,123.03 392.54,121.29 394.32,119.54 396.10,117.79 397.88,116.03 399.66,114.27 401.44,112.51 403.22,110.74 405.00,108.97" fill="none" stroke="#3d99dd" stroke-width="1.25"/></svg><svg x="227" y="287.0" width="178.0" height="178.0" viewBox="227 287.0 178.0 178.0" overflow="hidden"><g filter="url(#soft)"><rect x="234.72" y="323.52" width="2.61" height="2.65" fill="rgb(238,238,238)"/><rect x="238.33" y="327.17" width="2.61" height="2.65" fill="rgb(238,238,238)"/><rect x="241.94" y="327.17" width="2.61" height="2.65" fill="rgb(238,238,238)"/><rect x="238.33" y="338.12" width="2.61" height="2.65" fill="rgb(238,238,238)"/><rect x="241.94" y="338.12" width="2.61" height="2.65" fill="rgb(238,238,238)"/><rect x="245.55" y="338.12" width="2.61" height="2.65" fill="rgb(214,214,214)"/><rect x="241.94" y="341.77" width="2.61" height="2.65" fill="rgb(214,214,214)"/><rect x="249.15" y="341.77" width="2.61" height="2.65" fill="rgb(238,238,238)"/><rect x="252.76" y="341.77" width="2.61" height="2.65" fill="rgb(238,238,238)"/><rect x="238.33" y="345.42" width="2.61" height="2.65" fill="rgb(214,214,214)"/><rect x="245.55" y="345.42" width="2.61" height="2.65" fill="rgb(238,238,238)"/><rect x="252.76" y="345.42" width="2.61" height="2.65" fill="rgb(214,214,214)"/><rect x="256.37" y="345.42" width="2.61" height="2.65" fill="rgb(238,238,238)"/><rect x="231.11" y="349.07" width="2.61" height="2.65" fill="rgb(238,238,238)"/><rect x="234.72" y="349.07" width="2.61" height="2.65" fill="rgb(214,214,214)"/><rect x="245.55" y="349.07" width="2.61" height="2.65" fill="rgb(214,214,214)"/><rect x="249.15" y="349.07" width="2.61" height="2.65" fill="rgb(238,238,238)"/><rect x="252.76" y="349.07" width="2.61" height="2.65" fill="rgb(238,238,238)"/><rect x="256.37" y="349.07" width="2.61" height="2.65" fill="rgb(238,238,238)"/><rect x="263.59" y="349.07" width="2.61" height="2.65" fill="rgb(238,238,238)"/><rect x="238.33" y="352.72" width="2.61" height="2.65" fill="rgb(214,214,214)"/><rect x="245.55" y="352.72" width="2.61" height="2.65" fill="rgb(238,238,238)"/><rect x="249.15" y="352.72" width="2.61" height="2.65" fill="rgb(238,238,238)"/><rect x="238.33" y="356.37" width="2.61" height="2.65" fill="rgb(238,238,238)"/><rect x="249.15" y="356.37" width="2.61" height="2.65" fill="rgb(214,214,214)"/><rect x="256.37" y="356.37" width="2.61" height="2.65" fill="rgb(238,238,238)"/><rect x="259.98" y="356.37" width="2.61" height="2.65" fill="rgb(238,238,238)"/><rect x="234.72" y="360.02" width="2.61" height="2.65" fill="rgb(238,238,238)"/><rect x="245.55" y="360.02" width="2.61" height="2.65" fill="rgb(178,178,178)"/><rect x="256.37" y="360.02" width="2.61" height="2.65" fill="rgb(238,238,238)"/><rect x="259.98" y="360.02" width="2.61" height="2.65" fill="rgb(238,238,238)"/><rect x="241.94" y="363.67" width="2.61" height="2.65" fill="rgb(238,238,238)"/><rect x="263.59" y="363.67" width="2.61" height="2.65" fill="rgb(214,214,214)"/><rect x="231.11" y="367.32" width="2.61" height="2.65" fill="rgb(238,238,238)"/><rect x="234.72" y="367.32" width="2.61" height="2.65" fill="rgb(238,238,238)"/><rect x="249.15" y="367.32" width="2.61" height="2.65" fill="rgb(214,214,214)"/><rect x="252.76" y="367.32" width="2.61" height="2.65" fill="rgb(178,178,178)"/><rect x="256.37" y="367.32" width="2.61" height="2.65" fill="rgb(132,132,132)"/><rect x="259.98" y="367.32" width="2.61" height="2.65" fill="rgb(214,214,214)"/><rect x="234.72" y="370.97" width="2.61" height="2.65" fill="rgb(238,238,238)"/><rect x="238.33" y="370.97" width="2.61" height="2.65" fill="rgb(238,238,238)"/><rect x="252.76" y="370.97" width="2.61" height="2.65" fill="rgb(178,178,178)"/><rect x="256.37" y="370.97" width="2.61" height="2.65" fill="rgb(214,214,214)"/><rect x="259.98" y="370.97" width="2.61" height="2.65" fill="rgb(178,178,178)"/><rect x="263.59" y="370.97" width="2.61" height="2.65" fill="rgb(178,178,178)"/><rect x="238.33" y="374.62" width="2.61" height="2.65" fill="rgb(238,238,238)"/><rect x="241.94" y="374.62" width="2.61" height="2.65" fill="rgb(214,214,214)"/><rect x="245.55" y="374.62" width="2.61" height="2.65" fill="rgb(238,238,238)"/><rect x="249.15" y="374.62" width="2.61" height="2.65" fill="rgb(214,214,214)"/><rect x="256.37" y="374.62" width="2.61" height="2.65" fill="rgb(178,178,178)"/><rect x="259.98" y="374.62" width="2.61" height="2.65" fill="rgb(214,214,214)"/><rect x="263.59" y="374.62" width="2.61" height="2.65" fill="rgb(214,214,214)"/><rect x="267.20" y="374.62" width="2.61" height="2.65" fill="rgb(214,214,214)"/><rect x="241.94" y="378.27" width="2.61" height="2.65" fill="rgb(238,238,238)"/><rect x="249.15" y="378.27" width="2.61" height="2.65" fill="rgb(178,178,178)"/><rect x="252.76" y="378.27" width="2.61" height="2.65" fill="rgb(132,132,132)"/><rect x="256.37" y="378.27" width="2.61" height="2.65" fill="rgb(214,214,214)"/><rect x="259.98" y="378.27" width="2.61" height="2.65" fill="rgb(178,178,178)"/><rect x="263.59" y="378.27" width="2.61" height="2.65" fill="rgb(178,178,178)"/><rect x="267.20" y="378.27" width="2.61" height="2.65" fill="rgb(214,214,214)"/><rect x="245.55" y="381.92" width="2.61" height="2.65" fill="rgb(238,238,238)"/><rect x="249.15" y="381.92" width="2.61" height="2.65" fill="rgb(238,238,238)"/><rect x="252.76" y="381.92" width="2.61" height="2.65" fill="rgb(132,132,132)"/><rect x="256.37" y="381.92" width="2.61" height="2.65" fill="rgb(178,178,178)"/><rect x="259.98" y="381.92" width="2.61" height="2.65" fill="rgb(214,214,214)"/><rect x="263.59" y="381.92" width="2.61" height="2.65" fill="rgb(214,214,214)"/><rect x="267.20" y="381.92" width="2.61" height="2.65" fill="rgb(238,238,238)"/><rect x="238.33" y="385.57" width="2.61" height="2.65" fill="rgb(238,238,238)"/><rect x="241.94" y="385.57" width="2.61" height="2.65" fill="rgb(214,214,214)"/><rect x="249.15" y="385.57" width="2.61" height="2.65" fill="rgb(214,214,214)"/><rect x="252.76" y="385.57" width="2.61" height="2.65" fill="rgb(214,214,214)"/><rect x="256.37" y="385.57" width="2.61" height="2.65" fill="rgb(178,178,178)"/><rect x="259.98" y="385.57" width="2.61" height="2.65" fill="rgb(80,80,80)"/><rect x="263.59" y="385.57" width="2.61" height="2.65" fill="rgb(214,214,214)"/><rect x="267.20" y="385.57" width="2.61" height="2.65" fill="rgb(178,178,178)"/><rect x="245.55" y="389.22" width="2.61" height="2.65" fill="rgb(214,214,214)"/><rect x="249.15" y="389.22" width="2.61" height="2.65" fill="rgb(178,178,178)"/><rect x="252.76" y="389.22" width="2.61" height="2.65" fill="rgb(178,178,178)"/><rect x="256.37" y="389.22" width="2.61" height="2.65" fill="rgb(178,178,178)"/><rect x="259.98" y="389.22" width="2.61" height="2.65" fill="rgb(214,214,214)"/><rect x="263.59" y="389.22" width="2.61" height="2.65" fill="rgb(132,132,132)"/><rect x="267.20" y="389.22" width="2.61" height="2.65" fill="rgb(214,214,214)"/><rect x="245.55" y="392.87" width="2.61" height="2.65" fill="rgb(238,238,238)"/><rect x="249.15" y="392.87" width="2.61" height="2.65" fill="rgb(178,178,178)"/><rect x="252.76" y="392.87" width="2.61" height="2.65" fill="rgb(214,214,214)"/><rect x="256.37" y="392.87" width="2.61" height="2.65" fill="rgb(105,105,105)"/><rect x="259.98" y="392.87" width="2.61" height="2.65" fill="rgb(132,132,132)"/><rect x="263.59" y="392.87" width="2.61" height="2.65" fill="rgb(178,178,178)"/><rect x="267.20" y="392.87" width="2.61" height="2.65" fill="rgb(132,132,132)"/><rect x="249.15" y="396.52" width="2.61" height="2.65" fill="rgb(178,178,178)"/><rect x="252.76" y="396.52" width="2.61" height="2.65" fill="rgb(214,214,214)"/><rect x="256.37" y="396.52" width="2.61" height="2.65" fill="rgb(178,178,178)"/><rect x="259.98" y="396.52" width="2.61" height="2.65" fill="rgb(214,214,214)"/><rect x="263.59" y="396.52" width="2.61" height="2.65" fill="rgb(178,178,178)"/><rect x="267.20" y="396.52" width="2.61" height="2.65" fill="rgb(178,178,178)"/><rect x="245.55" y="400.17" width="2.61" height="2.65" fill="rgb(238,238,238)"/><rect x="252.76" y="400.17" width="2.61" height="2.65" fill="rgb(214,214,214)"/><rect x="256.37" y="400.17" width="2.61" height="2.65" fill="rgb(214,214,214)"/><rect x="259.98" y="400.17" width="2.61" height="2.65" fill="rgb(214,214,214)"/><rect x="263.59" y="400.17" width="2.61" height="2.65" fill="rgb(132,132,132)"/><rect x="267.20" y="400.17" width="2.61" height="2.65" fill="rgb(214,214,214)"/><rect x="245.55" y="403.82" width="2.61" height="2.65" fill="rgb(214,214,214)"/><rect x="249.15" y="403.82" width="2.61" height="2.65" fill="rgb(238,238,238)"/><rect x="256.37" y="403.82" width="2.61" height="2.65" fill="rgb(178,178,178)"/><rect x="259.98" y="403.82" width="2.61" height="2.65" fill="rgb(132,132,132)"/><rect x="263.59" y="403.82" width="2.61" height="2.65" fill="rgb(214,214,214)"/><rect x="267.20" y="403.82" width="2.61" height="2.65" fill="rgb(178,178,178)"/><rect x="252.76" y="407.47" width="2.61" height="2.65" fill="rgb(238,238,238)"/><rect x="259.98" y="407.47" width="2.61" height="2.65" fill="rgb(214,214,214)"/><rect x="263.59" y="407.47" width="2.61" height="2.65" fill="rgb(238,238,238)"/><rect x="270.81" y="356.37" width="2.61" height="2.65" fill="rgb(238,238,238)"/><rect x="270.81" y="360.02" width="2.61" height="2.65" fill="rgb(238,238,238)"/><rect x="274.42" y="360.02" width="2.61" height="2.65" fill="rgb(238,238,238)"/><rect x="274.42" y="363.67" width="2.61" height="2.65" fill="rgb(214,214,214)"/><rect x="278.03" y="363.67" width="2.61" height="2.65" fill="rgb(214,214,214)"/><rect x="270.81" y="367.32" width="2.61" height="2.65" fill="rgb(238,238,238)"/><rect x="274.42" y="367.32" width="2.61" height="2.65" fill="rgb(238,238,238)"/><rect x="278.03" y="367.32" width="2.61" height="2.65" fill="rgb(238,238,238)"/><rect x="270.81" y="370.97" width="2.61" height="2.65" fill="rgb(238,238,238)"/><rect x="274.42" y="370.97" width="2.61" height="2.65" fill="rgb(238,238,238)"/><rect x="270.81" y="374.62" width="2.61" height="2.65" fill="rgb(214,214,214)"/><rect x="274.42" y="374.62" width="2.61" height="2.65" fill="rgb(214,214,214)"/><rect x="278.03" y="374.62" width="2.61" height="2.65" fill="rgb(214,214,214)"/><rect x="281.63" y="374.62" width="2.61" height="2.65" fill="rgb(238,238,238)"/><rect x="285.24" y="374.62" width="2.61" height="2.65" fill="rgb(238,238,238)"/><rect x="270.81" y="378.27" width="2.61" height="2.65" fill="rgb(178,178,178)"/><rect x="274.42" y="378.27" width="2.61" height="2.65" fill="rgb(214,214,214)"/><rect x="278.03" y="378.27" width="2.61" height="2.65" fill="rgb(238,238,238)"/><rect x="288.85" y="378.27" width="2.61" height="2.65" fill="rgb(238,238,238)"/><rect x="270.81" y="381.92" width="2.61" height="2.65" fill="rgb(178,178,178)"/><rect x="274.42" y="381.92" width="2.61" height="2.65" fill="rgb(214,214,214)"/><rect x="278.03" y="381.92" width="2.61" height="2.65" fill="rgb(178,178,178)"/><rect x="281.63" y="381.92" width="2.61" height="2.65" fill="rgb(238,238,238)"/><rect x="288.85" y="381.92" width="2.61" height="2.65" fill="rgb(238,238,238)"/><rect x="270.81" y="385.57" width="2.61" height="2.65" fill="rgb(178,178,178)"/><rect x="274.42" y="385.57" width="2.61" height="2.65" fill="rgb(178,178,178)"/><rect x="278.03" y="385.57" width="2.61" height="2.65" fill="rgb(178,178,178)"/><rect x="281.63" y="385.57" width="2.61" height="2.65" fill="rgb(214,214,214)"/><rect x="285.24" y="385.57" width="2.61" height="2.65" fill="rgb(238,238,238)"/><rect x="288.85" y="385.57" width="2.61" height="2.65" fill="rgb(238,238,238)"/><rect x="292.46" y="385.57" width="2.61" height="2.65" fill="rgb(238,238,238)"/><rect x="296.07" y="385.57" width="2.61" height="2.65" fill="rgb(238,238,238)"/><rect x="270.81" y="389.22" width="2.61" height="2.65" fill="rgb(105,105,105)"/><rect x="274.42" y="389.22" width="2.61" height="2.65" fill="rgb(214,214,214)"/><rect x="278.03" y="389.22" width="2.61" height="2.65" fill="rgb(214,214,214)"/><rect x="281.63" y="389.22" width="2.61" height="2.65" fill="rgb(178,178,178)"/><rect x="285.24" y="389.22" width="2.61" height="2.65" fill="rgb(178,178,178)"/><rect x="288.85" y="389.22" width="2.61" height="2.65" fill="rgb(238,238,238)"/><rect x="296.07" y="389.22" width="2.61" height="2.65" fill="rgb(238,238,238)"/><rect x="299.68" y="389.22" width="2.61" height="2.65" fill="rgb(238,238,238)"/><rect x="306.90" y="389.22" width="2.61" height="2.65" fill="rgb(238,238,238)"/><rect x="270.81" y="392.87" width="2.61" height="2.65" fill="rgb(178,178,178)"/><rect x="274.42" y="392.87" width="2.61" height="2.65" fill="rgb(132,132,132)"/><rect x="278.03" y="392.87" width="2.61" height="2.65" fill="rgb(214,214,214)"/><rect x="281.63" y="392.87" width="2.61" height="2.65" fill="rgb(238,238,238)"/><rect x="285.24" y="392.87" width="2.61" height="2.65" fill="rgb(214,214,214)"/><rect x="288.85" y="392.87" width="2.61" height="2.65" fill="rgb(214,214,214)"/><rect x="292.46" y="392.87" width="2.61" height="2.65" fill="rgb(238,238,238)"/><rect x="296.07" y="392.87" width="2.61" height="2.65" fill="rgb(238,238,238)"/><rect x="299.68" y="392.87" width="2.61" height="2.65" fill="rgb(214,214,214)"/><rect x="303.29" y="392.87" width="2.61" height="2.65" fill="rgb(105,105,105)"/><rect x="306.90" y="392.87" width="2.61" height="2.65" fill="rgb(238,238,238)"/><rect x="270.81" y="396.52" width="2.61" height="2.65" fill="rgb(105,105,105)"/><rect x="274.42" y="396.52" width="2.61" height="2.65" fill="rgb(178,178,178)"/><rect x="278.03" y="396.52" width="2.61" height="2.65" fill="rgb(178,178,178)"/><rect x="281.63" y="396.52" width="2.61" height="2.65" fill="rgb(178,178,178)"/><rect x="285.24" y="396.52" width="2.61" height="2.65" fill="rgb(214,214,214)"/><rect x="288.85" y="396.52" width="2.61" height="2.65" fill="rgb(238,238,238)"/><rect x="292.46" y="396.52" width="2.61" height="2.65" fill="rgb(214,214,214)"/><rect x="296.07" y="396.52" width="2.61" height="2.65" fill="rgb(214,214,214)"/><rect x="299.68" y="396.52" width="2.61" height="2.65" fill="rgb(238,238,238)"/><rect x="306.90" y="396.52" width="2.61" height="2.65" fill="rgb(238,238,238)"/><rect x="270.81" y="400.17" width="2.61" height="2.65" fill="rgb(132,132,132)"/><rect x="274.42" y="400.17" width="2.61" height="2.65" fill="rgb(105,105,105)"/><rect x="278.03" y="400.17" width="2.61" height="2.65" fill="rgb(178,178,178)"/><rect x="281.63" y="400.17" width="2.61" height="2.65" fill="rgb(178,178,178)"/><rect x="285.24" y="400.17" width="2.61" height="2.65" fill="rgb(178,178,178)"/><rect x="288.85" y="400.17" width="2.61" height="2.65" fill="rgb(214,214,214)"/><rect x="292.46" y="400.17" width="2.61" height="2.65" fill="rgb(214,214,214)"/><rect x="296.07" y="400.17" width="2.61" height="2.65" fill="rgb(238,238,238)"/><rect x="303.29" y="400.17" width="2.61" height="2.65" fill="rgb(238,238,238)"/><rect x="306.90" y="400.17" width="2.61" height="2.65" fill="rgb(238,238,238)"/><rect x="270.81" y="403.82" width="2.61" height="2.65" fill="rgb(214,214,214)"/><rect x="274.42" y="403.82" width="2.61" height="2.65" fill="rgb(214,214,214)"/><rect x="278.03" y="403.82" width="2.61" height="2.65" fill="rgb(214,214,214)"/><rect x="281.63" y="403.82" width="2.61" height="2.65" fill="rgb(178,178,178)"/><rect x="285.24" y="403.82" width="2.61" height="2.65" fill="rgb(178,178,178)"/><rect x="288.85" y="403.82" width="2.61" height="2.65" fill="rgb(214,214,214)"/><rect x="292.46" y="403.82" width="2.61" height="2.65" fill="rgb(178,178,178)"/><rect x="296.07" y="403.82" width="2.61" height="2.65" fill="rgb(238,238,238)"/><rect x="306.90" y="403.82" width="2.61" height="2.65" fill="rgb(214,214,214)"/><rect x="310.51" y="403.82" width="2.61" height="2.65" fill="rgb(238,238,238)"/><rect x="270.81" y="407.47" width="2.61" height="2.65" fill="rgb(105,105,105)"/><rect x="274.42" y="407.47" width="2.61" height="2.65" fill="rgb(178,178,178)"/><rect x="278.03" y="407.47" width="2.61" height="2.65" fill="rgb(178,178,178)"/><rect x="281.63" y="407.47" width="2.61" height="2.65" fill="rgb(214,214,214)"/><rect x="285.24" y="407.47" width="2.61" height="2.65" fill="rgb(178,178,178)"/><rect x="288.85" y="407.47" width="2.61" height="2.65" fill="rgb(178,178,178)"/><rect x="292.46" y="407.47" width="2.61" height="2.65" fill="rgb(132,132,132)"/><rect x="296.07" y="407.47" width="2.61" height="2.65" fill="rgb(214,214,214)"/><rect x="299.68" y="407.47" width="2.61" height="2.65" fill="rgb(214,214,214)"/><rect x="303.29" y="407.47" width="2.61" height="2.65" fill="rgb(238,238,238)"/><rect x="306.90" y="407.47" width="2.61" height="2.65" fill="rgb(238,238,238)"/><rect x="270.81" y="411.12" width="2.61" height="2.65" fill="rgb(238,238,238)"/><rect x="274.42" y="411.12" width="2.61" height="2.65" fill="rgb(238,238,238)"/><rect x="278.03" y="411.12" width="2.61" height="2.65" fill="rgb(214,214,214)"/><rect x="281.63" y="411.12" width="2.61" height="2.65" fill="rgb(214,214,214)"/><rect x="285.24" y="411.12" width="2.61" height="2.65" fill="rgb(214,214,214)"/><rect x="288.85" y="411.12" width="2.61" height="2.65" fill="rgb(178,178,178)"/><rect x="292.46" y="411.12" width="2.61" height="2.65" fill="rgb(214,214,214)"/><rect x="296.07" y="411.12" width="2.61" height="2.65" fill="rgb(132,132,132)"/><rect x="299.68" y="411.12" width="2.61" height="2.65" fill="rgb(178,178,178)"/><rect x="303.29" y="411.12" width="2.61" height="2.65" fill="rgb(214,214,214)"/><rect x="306.90" y="411.12" width="2.61" height="2.65" fill="rgb(238,238,238)"/><rect x="310.51" y="411.12" width="2.61" height="2.65" fill="rgb(238,238,238)"/><rect x="274.42" y="414.77" width="2.61" height="2.65" fill="rgb(238,238,238)"/><rect x="278.03" y="414.77" width="2.61" height="2.65" fill="rgb(238,238,238)"/><rect x="281.63" y="414.77" width="2.61" height="2.65" fill="rgb(238,238,238)"/><rect x="285.24" y="414.77" width="2.61" height="2.65" fill="rgb(80,80,80)"/><rect x="288.85" y="414.77" width="2.61" height="2.65" fill="rgb(238,238,238)"/><rect x="292.46" y="414.77" width="2.61" height="2.65" fill="rgb(178,178,178)"/><rect x="296.07" y="414.77" width="2.61" height="2.65" fill="rgb(214,214,214)"/><rect x="299.68" y="414.77" width="2.61" height="2.65" fill="rgb(214,214,214)"/><rect x="303.29" y="414.77" width="2.61" height="2.65" fill="rgb(214,214,214)"/><rect x="306.90" y="414.77" width="2.61" height="2.65" fill="rgb(178,178,178)"/><rect x="310.51" y="414.77" width="2.61" height="2.65" fill="rgb(214,214,214)"/><rect x="270.81" y="418.42" width="2.61" height="2.65" fill="rgb(238,238,238)"/><rect x="278.03" y="418.42" width="2.61" height="2.65" fill="rgb(238,238,238)"/><rect x="281.63" y="418.42" width="2.61" height="2.65" fill="rgb(238,238,238)"/><rect x="285.24" y="418.42" width="2.61" height="2.65" fill="rgb(214,214,214)"/><rect x="288.85" y="418.42" width="2.61" height="2.65" fill="rgb(132,132,132)"/><rect x="292.46" y="418.42" width="2.61" height="2.65" fill="rgb(214,214,214)"/><rect x="296.07" y="418.42" width="2.61" height="2.65" fill="rgb(214,214,214)"/><rect x="299.68" y="418.42" width="2.61" height="2.65" fill="rgb(214,214,214)"/><rect x="303.29" y="418.42" width="2.61" height="2.65" fill="rgb(214,214,214)"/><rect x="306.90" y="418.42" width="2.61" height="2.65" fill="rgb(132,132,132)"/><rect x="310.51" y="418.42" width="2.61" height="2.65" fill="rgb(178,178,178)"/><rect x="270.81" y="422.07" width="2.61" height="2.65" fill="rgb(214,214,214)"/><rect x="278.03" y="422.07" width="2.61" height="2.65" fill="rgb(214,214,214)"/><rect x="281.63" y="422.07" width="2.61" height="2.65" fill="rgb(214,214,214)"/><rect x="285.24" y="422.07" width="2.61" height="2.65" fill="rgb(238,238,238)"/><rect x="288.85" y="422.07" width="2.61" height="2.65" fill="rgb(238,238,238)"/><rect x="292.46" y="422.07" width="2.61" height="2.65" fill="rgb(178,178,178)"/><rect x="296.07" y="422.07" width="2.61" height="2.65" fill="rgb(214,214,214)"/><rect x="299.68" y="422.07" width="2.61" height="2.65" fill="rgb(178,178,178)"/><rect x="303.29" y="422.07" width="2.61" height="2.65" fill="rgb(214,214,214)"/><rect x="306.90" y="422.07" width="2.61" height="2.65" fill="rgb(214,214,214)"/><rect x="310.51" y="422.07" width="2.61" height="2.65" fill="rgb(214,214,214)"/><rect x="270.81" y="425.72" width="2.61" height="2.65" fill="rgb(238,238,238)"/><rect x="285.24" y="425.72" width="2.61" height="2.65" fill="rgb(238,238,238)"/><rect x="288.85" y="425.72" width="2.61" height="2.65" fill="rgb(238,238,238)"/><rect x="292.46" y="425.72" width="2.61" height="2.65" fill="rgb(214,214,214)"/><rect x="296.07" y="425.72" width="2.61" height="2.65" fill="rgb(178,178,178)"/><rect x="299.68" y="425.72" width="2.61" height="2.65" fill="rgb(132,132,132)"/><rect x="303.29" y="425.72" width="2.61" height="2.65" fill="rgb(178,178,178)"/><rect x="306.90" y="425.72" width="2.61" height="2.65" fill="rgb(105,105,105)"/><rect x="310.51" y="425.72" width="2.61" height="2.65" fill="rgb(214,214,214)"/><rect x="274.42" y="429.37" width="2.61" height="2.65" fill="rgb(214,214,214)"/><rect x="278.03" y="429.37" width="2.61" height="2.65" fill="rgb(238,238,238)"/><rect x="281.63" y="429.37" width="2.61" height="2.65" fill="rgb(238,238,238)"/><rect x="292.46" y="429.37" width="2.61" height="2.65" fill="rgb(214,214,214)"/><rect x="296.07" y="429.37" width="2.61" height="2.65" fill="rgb(214,214,214)"/><rect x="299.68" y="429.37" width="2.61" height="2.65" fill="rgb(178,178,178)"/><rect x="303.29" y="429.37" width="2.61" height="2.65" fill="rgb(132,132,132)"/><rect x="306.90" y="429.37" width="2.61" height="2.65" fill="rgb(178,178,178)"/><rect x="310.51" y="429.37" width="2.61" height="2.65" fill="rgb(214,214,214)"/><rect x="274.42" y="433.02" width="2.61" height="2.65" fill="rgb(238,238,238)"/><rect x="278.03" y="433.02" width="2.61" height="2.65" fill="rgb(238,238,238)"/><rect x="281.63" y="433.02" width="2.61" height="2.65" fill="rgb(238,238,238)"/><rect x="296.07" y="433.02" width="2.61" height="2.65" fill="rgb(214,214,214)"/><rect x="299.68" y="433.02" width="2.61" height="2.65" fill="rgb(214,214,214)"/><rect x="303.29" y="433.02" width="2.61" height="2.65" fill="rgb(214,214,214)"/><rect x="306.90" y="433.02" width="2.61" height="2.65" fill="rgb(214,214,214)"/><rect x="310.51" y="433.02" width="2.61" height="2.65" fill="rgb(178,178,178)"/><rect x="274.42" y="436.67" width="2.61" height="2.65" fill="rgb(238,238,238)"/><rect x="278.03" y="436.67" width="2.61" height="2.65" fill="rgb(238,238,238)"/><rect x="281.63" y="436.67" width="2.61" height="2.65" fill="rgb(238,238,238)"/><rect x="296.07" y="436.67" width="2.61" height="2.65" fill="rgb(238,238,238)"/><rect x="299.68" y="436.67" width="2.61" height="2.65" fill="rgb(238,238,238)"/><rect x="303.29" y="436.67" width="2.61" height="2.65" fill="rgb(238,238,238)"/><rect x="306.90" y="436.67" width="2.61" height="2.65" fill="rgb(238,238,238)"/><rect x="310.51" y="436.67" width="2.61" height="2.65" fill="rgb(238,238,238)"/><rect x="274.42" y="440.32" width="2.61" height="2.65" fill="rgb(238,238,238)"/><rect x="299.68" y="440.32" width="2.61" height="2.65" fill="rgb(214,214,214)"/><rect x="303.29" y="440.32" width="2.61" height="2.65" fill="rgb(214,214,214)"/><rect x="306.90" y="440.32" width="2.61" height="2.65" fill="rgb(214,214,214)"/><rect x="310.51" y="440.32" width="2.61" height="2.65" fill="rgb(178,178,178)"/><rect x="299.68" y="443.97" width="2.61" height="2.65" fill="rgb(238,238,238)"/><rect x="303.29" y="443.97" width="2.61" height="2.65" fill="rgb(238,238,238)"/><rect x="306.90" y="443.97" width="2.61" height="2.65" fill="rgb(238,238,238)"/><rect x="310.51" y="443.97" width="2.61" height="2.65" fill="rgb(214,214,214)"/><rect x="310.51" y="447.62" width="2.61" height="2.65" fill="rgb(238,238,238)"/><rect x="317.73" y="392.87" width="2.61" height="2.65" fill="rgb(214,214,214)"/><rect x="321.33" y="392.87" width="2.61" height="2.65" fill="rgb(238,238,238)"/><rect x="314.12" y="396.52" width="2.61" height="2.65" fill="rgb(238,238,238)"/><rect x="314.12" y="400.17" width="2.61" height="2.65" fill="rgb(238,238,238)"/><rect x="324.94" y="400.17" width="2.61" height="2.65" fill="rgb(238,238,238)"/><rect x="317.73" y="407.47" width="2.61" height="2.65" fill="rgb(238,238,238)"/><rect x="328.55" y="407.47" width="2.61" height="2.65" fill="rgb(238,238,238)"/><rect x="314.12" y="411.12" width="2.61" height="2.65" fill="rgb(238,238,238)"/><rect x="317.73" y="411.12" width="2.61" height="2.65" fill="rgb(238,238,238)"/><rect x="321.33" y="411.12" width="2.61" height="2.65" fill="rgb(238,238,238)"/><rect x="324.94" y="411.12" width="2.61" height="2.65" fill="rgb(238,238,238)"/><rect x="314.12" y="414.77" width="2.61" height="2.65" fill="rgb(214,214,214)"/><rect x="317.73" y="414.77" width="2.61" height="2.65" fill="rgb(178,178,178)"/><rect x="321.33" y="414.77" width="2.61" height="2.65" fill="rgb(214,214,214)"/><rect x="324.94" y="414.77" width="2.61" height="2.65" fill="rgb(214,214,214)"/><rect x="328.55" y="414.77" width="2.61" height="2.65" fill="rgb(214,214,214)"/><rect x="314.12" y="418.42" width="2.61" height="2.65" fill="rgb(178,178,178)"/><rect x="317.73" y="418.42" width="2.61" height="2.65" fill="rgb(178,178,178)"/><rect x="321.33" y="418.42" width="2.61" height="2.65" fill="rgb(238,238,238)"/><rect x="324.94" y="418.42" width="2.61" height="2.65" fill="rgb(214,214,214)"/><rect x="332.16" y="418.42" width="2.61" height="2.65" fill="rgb(214,214,214)"/><rect x="335.77" y="418.42" width="2.61" height="2.65" fill="rgb(214,214,214)"/><rect x="314.12" y="422.07" width="2.61" height="2.65" fill="rgb(214,214,214)"/><rect x="317.73" y="422.07" width="2.61" height="2.65" fill="rgb(178,178,178)"/><rect x="321.33" y="422.07" width="2.61" height="2.65" fill="rgb(238,238,238)"/><rect x="324.94" y="422.07" width="2.61" height="2.65" fill="rgb(178,178,178)"/><rect x="328.55" y="422.07" width="2.61" height="2.65" fill="rgb(178,178,178)"/><rect x="335.77" y="422.07" width="2.61" height="2.65" fill="rgb(238,238,238)"/><rect x="314.12" y="425.72" width="2.61" height="2.65" fill="rgb(238,238,238)"/><rect x="317.73" y="425.72" width="2.61" height="2.65" fill="rgb(214,214,214)"/><rect x="321.33" y="425.72" width="2.61" height="2.65" fill="rgb(178,178,178)"/><rect x="324.94" y="425.72" width="2.61" height="2.65" fill="rgb(214,214,214)"/><rect x="328.55" y="425.72" width="2.61" height="2.65" fill="rgb(132,132,132)"/><rect x="332.16" y="425.72" width="2.61" height="2.65" fill="rgb(132,132,132)"/><rect x="335.77" y="425.72" width="2.61" height="2.65" fill="rgb(238,238,238)"/><rect x="342.99" y="425.72" width="2.61" height="2.65" fill="rgb(214,214,214)"/><rect x="314.12" y="429.37" width="2.61" height="2.65" fill="rgb(132,132,132)"/><rect x="317.73" y="429.37" width="2.61" height="2.65" fill="rgb(214,214,214)"/><rect x="321.33" y="429.37" width="2.61" height="2.65" fill="rgb(214,214,214)"/><rect x="324.94" y="429.37" width="2.61" height="2.65" fill="rgb(178,178,178)"/><rect x="328.55" y="429.37" width="2.61" height="2.65" fill="rgb(214,214,214)"/><rect x="332.16" y="429.37" width="2.61" height="2.65" fill="rgb(178,178,178)"/><rect x="335.77" y="429.37" width="2.61" height="2.65" fill="rgb(178,178,178)"/><rect x="314.12" y="433.02" width="2.61" height="2.65" fill="rgb(80,80,80)"/><rect x="317.73" y="433.02" width="2.61" height="2.65" fill="rgb(80,80,80)"/><rect x="321.33" y="433.02" width="2.61" height="2.65" fill="rgb(214,214,214)"/><rect x="324.94" y="433.02" width="2.61" height="2.65" fill="rgb(214,214,214)"/><rect x="328.55" y="433.02" width="2.61" height="2.65" fill="rgb(214,214,214)"/><rect x="332.16" y="433.02" width="2.61" height="2.65" fill="rgb(214,214,214)"/><rect x="335.77" y="433.02" width="2.61" height="2.65" fill="rgb(178,178,178)"/><rect x="339.38" y="433.02" width="2.61" height="2.65" fill="rgb(105,105,105)"/><rect x="342.99" y="433.02" width="2.61" height="2.65" fill="rgb(105,105,105)"/><rect x="346.60" y="433.02" width="2.61" height="2.65" fill="rgb(178,178,178)"/><rect x="350.21" y="433.02" width="2.61" height="2.65" fill="rgb(214,214,214)"/><rect x="353.81" y="433.02" width="2.61" height="2.65" fill="rgb(178,178,178)"/><rect x="314.12" y="436.67" width="2.61" height="2.65" fill="rgb(178,178,178)"/><rect x="317.73" y="436.67" width="2.61" height="2.65" fill="rgb(132,132,132)"/><rect x="321.33" y="436.67" width="2.61" height="2.65" fill="rgb(214,214,214)"/><rect x="324.94" y="436.67" width="2.61" height="2.65" fill="rgb(214,214,214)"/><rect x="328.55" y="436.67" width="2.61" height="2.65" fill="rgb(214,214,214)"/><rect x="332.16" y="436.67" width="2.61" height="2.65" fill="rgb(214,214,214)"/><rect x="335.77" y="436.67" width="2.61" height="2.65" fill="rgb(214,214,214)"/><rect x="339.38" y="436.67" width="2.61" height="2.65" fill="rgb(214,214,214)"/><rect x="342.99" y="436.67" width="2.61" height="2.65" fill="rgb(178,178,178)"/><rect x="346.60" y="436.67" width="2.61" height="2.65" fill="rgb(178,178,178)"/><rect x="350.21" y="436.67" width="2.61" height="2.65" fill="rgb(238,238,238)"/><rect x="314.12" y="440.32" width="2.61" height="2.65" fill="rgb(214,214,214)"/><rect x="317.73" y="440.32" width="2.61" height="2.65" fill="rgb(132,132,132)"/><rect x="321.33" y="440.32" width="2.61" height="2.65" fill="rgb(178,178,178)"/><rect x="324.94" y="440.32" width="2.61" height="2.65" fill="rgb(214,214,214)"/><rect x="328.55" y="440.32" width="2.61" height="2.65" fill="rgb(105,105,105)"/><rect x="332.16" y="440.32" width="2.61" height="2.65" fill="rgb(214,214,214)"/><rect x="335.77" y="440.32" width="2.61" height="2.65" fill="rgb(214,214,214)"/><rect x="339.38" y="440.32" width="2.61" height="2.65" fill="rgb(214,214,214)"/><rect x="342.99" y="440.32" width="2.61" height="2.65" fill="rgb(214,214,214)"/><rect x="346.60" y="440.32" width="2.61" height="2.65" fill="rgb(214,214,214)"/><rect x="350.21" y="440.32" width="2.61" height="2.65" fill="rgb(178,178,178)"/><rect x="314.12" y="443.97" width="2.61" height="2.65" fill="rgb(238,238,238)"/><rect x="317.73" y="443.97" width="2.61" height="2.65" fill="rgb(214,214,214)"/><rect x="321.33" y="443.97" width="2.61" height="2.65" fill="rgb(238,238,238)"/><rect x="324.94" y="443.97" width="2.61" height="2.65" fill="rgb(178,178,178)"/><rect x="328.55" y="443.97" width="2.61" height="2.65" fill="rgb(178,178,178)"/><rect x="332.16" y="443.97" width="2.61" height="2.65" fill="rgb(214,214,214)"/><rect x="335.77" y="443.97" width="2.61" height="2.65" fill="rgb(214,214,214)"/><rect x="339.38" y="443.97" width="2.61" height="2.65" fill="rgb(178,178,178)"/><rect x="342.99" y="443.97" width="2.61" height="2.65" fill="rgb(214,214,214)"/><rect x="346.60" y="443.97" width="2.61" height="2.65" fill="rgb(214,214,214)"/><rect x="350.21" y="443.97" width="2.61" height="2.65" fill="rgb(178,178,178)"/><rect x="314.12" y="447.62" width="2.61" height="2.65" fill="rgb(238,238,238)"/><rect x="317.73" y="447.62" width="2.61" height="2.65" fill="rgb(214,214,214)"/><rect x="324.94" y="447.62" width="2.61" height="2.65" fill="rgb(214,214,214)"/><rect x="328.55" y="447.62" width="2.61" height="2.65" fill="rgb(178,178,178)"/><rect x="332.16" y="447.62" width="2.61" height="2.65" fill="rgb(214,214,214)"/><rect x="335.77" y="447.62" width="2.61" height="2.65" fill="rgb(214,214,214)"/><rect x="346.60" y="447.62" width="2.61" height="2.65" fill="rgb(178,178,178)"/><rect x="350.21" y="447.62" width="2.61" height="2.65" fill="rgb(214,214,214)"/><rect x="353.81" y="447.62" width="2.61" height="2.65" fill="rgb(214,214,214)"/><rect x="335.77" y="451.27" width="2.61" height="2.65" fill="rgb(238,238,238)"/><rect x="353.81" y="451.27" width="2.61" height="2.65" fill="rgb(214,214,214)"/><rect x="357.42" y="433.02" width="2.61" height="2.65" fill="rgb(238,238,238)"/><rect x="361.03" y="433.02" width="2.61" height="2.65" fill="rgb(214,214,214)"/><rect x="364.64" y="436.67" width="2.61" height="2.65" fill="rgb(178,178,178)"/><rect x="368.25" y="436.67" width="2.61" height="2.65" fill="rgb(214,214,214)"/><rect x="371.86" y="436.67" width="2.61" height="2.65" fill="rgb(214,214,214)"/><rect x="375.47" y="440.32" width="2.61" height="2.65" fill="rgb(214,214,214)"/><rect x="379.08" y="440.32" width="2.61" height="2.65" fill="rgb(238,238,238)"/><rect x="357.42" y="443.97" width="2.61" height="2.65" fill="rgb(238,238,238)"/><rect x="379.08" y="443.97" width="2.61" height="2.65" fill="rgb(238,238,238)"/><rect x="382.69" y="443.97" width="2.61" height="2.65" fill="rgb(214,214,214)"/><rect x="357.42" y="447.62" width="2.61" height="2.65" fill="rgb(238,238,238)"/><rect x="361.03" y="447.62" width="2.61" height="2.65" fill="rgb(214,214,214)"/><rect x="386.30" y="447.62" width="2.61" height="2.65" fill="rgb(238,238,238)"/><rect x="361.03" y="451.27" width="2.61" height="2.65" fill="rgb(238,238,238)"/><rect x="364.64" y="454.92" width="2.61" height="2.65" fill="rgb(238,238,238)"/><rect x="368.25" y="454.92" width="2.61" height="2.65" fill="rgb(238,238,238)"/><rect x="371.86" y="454.92" width="2.61" height="2.65" fill="rgb(238,238,238)"/></g><polyline points="227.00,350.58 228.78,352.33 230.56,354.07 232.34,355.81 234.12,357.55 235.90,359.28 237.68,361.01 239.46,362.74 241.24,364.46 243.02,366.17 244.80,367.88 246.58,369.59 248.36,371.29 250.14,372.98 251.92,374.67 253.70,376.35 255.48,378.02 257.26,379.69 259.04,381.35 260.82,383.01 262.60,384.66 264.38,386.30 266.16,387.93 267.94,389.55 269.72,391.16 271.50,392.77 273.28,394.36 275.06,395.95 276.84,397.53 278.62,399.09 280.40,400.64 282.18,402.19 283.96,403.72 285.74,405.23 287.52,406.74 289.30,408.23 291.08,409.71 292.86,411.17 294.64,412.62 296.42,414.06 298.20,415.48 299.98,416.88 301.76,418.26 303.54,419.63 305.32,420.98 307.10,422.31 308.88,423.62 310.66,424.91 312.44,426.18 314.22,427.43 316.00,428.66 317.78,429.87 319.56,431.05 321.34,432.21 323.12,433.34 324.90,434.45 326.68,435.53 328.46,436.59 330.24,437.62 332.02,438.62 333.80,439.59 335.58,440.54 337.36,441.45 339.14,442.34 340.92,443.20 342.70,444.02 344.48,444.81 346.26,445.58 348.04,446.31 349.82,447.01 351.60,447.67 353.38,448.31 355.16,448.91 356.94,449.48 358.72,450.02 360.50,450.53 362.28,451.00 364.06,451.44 365.84,451.86 367.62,452.24 369.40,452.60 371.18,452.92 372.96,453.22 374.74,453.50 376.52,453.74 378.30,453.97 380.08,454.17 381.86,454.35 383.64,454.50 385.42,454.64 387.20,454.77 388.98,454.87 390.76,454.96 392.54,455.04 394.32,455.11 396.10,455.17 397.88,455.21 399.66,455.25 401.44,455.28 403.22,455.31 405.00,455.33" fill="none" stroke="#3d99dd" stroke-width="1.25"/></svg><g fill="#2b7dcc"><rect x="460.24" y="108.52" width="1.69" height="0.48"/><rect x="462.72" y="107.72" width="1.69" height="1.28"/><rect x="465.21" y="106.13" width="1.69" height="2.87"/><rect x="467.70" y="105.34" width="1.69" height="3.66"/><rect x="470.18" y="102.96" width="1.69" height="6.04"/><rect x="472.67" y="103.44" width="1.69" height="5.56"/><rect x="475.16" y="92.64" width="1.69" height="16.36"/><rect x="477.65" y="90.26" width="1.69" height="18.74"/><rect x="480.13" y="83.12" width="1.69" height="25.88"/><rect x="482.62" y="75.18" width="1.69" height="33.82"/><rect x="485.11" y="63.75" width="1.69" height="45.25"/><rect x="487.59" y="64.55" width="1.69" height="44.45"/><rect x="490.08" y="57.72" width="1.69" height="51.28"/><rect x="492.57" y="47.40" width="1.69" height="61.60"/><rect x="495.05" y="52.64" width="1.69" height="56.36"/><rect x="497.54" y="47.88" width="1.69" height="61.12"/><rect x="500.03" y="56.93" width="1.69" height="52.07"/><rect x="502.52" y="81.85" width="1.69" height="27.15"/><rect x="505.00" y="63.75" width="1.69" height="45.25"/><rect x="507.49" y="66.45" width="1.69" height="42.55"/><rect x="509.98" y="88.67" width="1.69" height="20.33"/><rect x="512.46" y="87.88" width="1.69" height="21.12"/><rect x="514.95" y="91.06" width="1.69" height="17.94"/><rect x="517.44" y="98.20" width="1.69" height="10.80"/><rect x="519.92" y="104.55" width="1.69" height="4.45"/><rect x="522.41" y="105.34" width="1.69" height="3.66"/><rect x="524.90" y="105.34" width="1.69" height="3.66"/><rect x="527.39" y="106.13" width="1.69" height="2.87"/><rect x="529.87" y="106.93" width="1.69" height="2.07"/><rect x="532.36" y="105.34" width="1.69" height="3.66"/><rect x="534.85" y="108.20" width="1.69" height="0.80"/><rect x="537.33" y="108.20" width="1.69" height="0.80"/><rect x="452.78" y="108.40" width="1.69" height="0.6"/><rect x="455.26" y="108.40" width="1.69" height="0.6"/><rect x="457.75" y="108.40" width="1.69" height="0.6"/><rect x="539.82" y="108.40" width="1.69" height="0.6"/><rect x="542.31" y="108.40" width="1.69" height="0.6"/></g><polyline points="453.48,108.42 454.18,108.32 454.87,108.22 455.57,108.10 456.26,107.96 456.96,107.80 457.65,107.63 458.35,107.43 459.04,107.21 459.74,106.97 460.43,106.70 461.13,106.39 461.82,106.06 462.52,105.68 463.22,105.28 463.91,104.83 464.61,104.34 465.30,103.80 466.00,103.22 466.69,102.58 467.39,101.90 468.08,101.16 468.78,100.37 469.47,99.52 470.17,98.62 470.86,97.66 471.56,96.63 472.25,95.55 472.95,94.42 473.65,93.22 474.34,91.97 475.04,90.67 475.73,89.31 476.43,87.91 477.12,86.47 477.82,84.98 478.51,83.47 479.21,81.92 479.90,80.36 480.60,78.77 481.29,77.18 481.99,75.59 482.68,74.01 483.38,72.45 484.07,70.91 484.77,69.40 485.47,67.94 486.16,66.53 486.86,65.19 487.55,63.91 488.25,62.71 488.94,61.60 489.64,60.58 490.33,59.66 491.03,58.85 491.72,58.16 492.42,57.58 493.11,57.13 493.81,56.81 494.50,56.61 495.20,56.54 495.90,56.61 496.59,56.81 497.29,57.13 497.98,57.58 498.68,58.16 499.37,58.85 500.07,59.66 500.76,60.58 501.46,61.60 502.15,62.71 502.85,63.91 503.54,65.19 504.24,66.53 504.93,67.94 505.63,69.40 506.32,70.91 507.02,72.45 507.72,74.01 508.41,75.59 509.11,77.18 509.80,78.77 510.50,80.36 511.19,81.92 511.89,83.47 512.58,84.98 513.28,86.47 513.97,87.91 514.67,89.31 515.36,90.67 516.06,91.97 516.75,93.22 517.45,94.42 518.15,95.55 518.84,96.63 519.54,97.66 520.23,98.62 520.93,99.52 521.62,100.37 522.32,101.16 523.01,101.90 523.71,102.58 524.40,103.22 525.10,103.80 525.79,104.34 526.49,104.83 527.18,105.28 527.88,105.68 528.58,106.06 529.27,106.39 529.97,106.70 530.66,106.97 531.36,107.21 532.05,107.43 532.75,107.63 533.44,107.80 534.14,107.96 534.83,108.10 535.53,108.22 536.22,108.32 536.92,108.42" fill="none" stroke="#000" stroke-width="1.6"/><svg x="405" y="109.0" width="178.0" height="178.0" viewBox="405 109.0 178.0 178.0" overflow="hidden"><g filter="url(#soft)"><rect x="434.37" y="204.49" width="2.61" height="2.61" fill="rgb(214,214,214)"/><rect x="441.59" y="204.49" width="2.61" height="2.61" fill="rgb(214,214,214)"/><rect x="445.20" y="204.49" width="2.61" height="2.61" fill="rgb(132,132,132)"/><rect x="416.33" y="208.10" width="2.61" height="2.61" fill="rgb(238,238,238)"/><rect x="419.94" y="208.10" width="2.61" height="2.61" fill="rgb(238,238,238)"/><rect x="430.76" y="208.10" width="2.61" height="2.61" fill="rgb(178,178,178)"/><rect x="434.37" y="208.10" width="2.61" height="2.61" fill="rgb(238,238,238)"/><rect x="437.98" y="208.10" width="2.61" height="2.61" fill="rgb(214,214,214)"/><rect x="441.59" y="208.10" width="2.61" height="2.61" fill="rgb(80,80,80)"/><rect x="445.20" y="208.10" width="2.61" height="2.61" fill="rgb(132,132,132)"/><rect x="412.72" y="211.71" width="2.61" height="2.61" fill="rgb(238,238,238)"/><rect x="416.33" y="211.71" width="2.61" height="2.61" fill="rgb(238,238,238)"/><rect x="427.15" y="211.71" width="2.61" height="2.61" fill="rgb(238,238,238)"/><rect x="434.37" y="211.71" width="2.61" height="2.61" fill="rgb(105,105,105)"/><rect x="437.98" y="211.71" width="2.61" height="2.61" fill="rgb(132,132,132)"/><rect x="441.59" y="211.71" width="2.61" height="2.61" fill="rgb(132,132,132)"/><rect x="445.20" y="211.71" width="2.61" height="2.61" fill="rgb(105,105,105)"/><rect x="412.72" y="215.32" width="2.61" height="2.61" fill="rgb(238,238,238)"/><rect x="419.94" y="215.32" width="2.61" height="2.61" fill="rgb(214,214,214)"/><rect x="423.55" y="215.32" width="2.61" height="2.61" fill="rgb(214,214,214)"/><rect x="427.15" y="215.32" width="2.61" height="2.61" fill="rgb(238,238,238)"/><rect x="430.76" y="215.32" width="2.61" height="2.61" fill="rgb(178,178,178)"/><rect x="434.37" y="215.32" width="2.61" height="2.61" fill="rgb(56,56,56)"/><rect x="437.98" y="215.32" width="2.61" height="2.61" fill="rgb(105,105,105)"/><rect x="441.59" y="215.32" width="2.61" height="2.61" fill="rgb(132,132,132)"/><rect x="445.20" y="215.32" width="2.61" height="2.61" fill="rgb(80,80,80)"/><rect x="416.33" y="218.93" width="2.61" height="2.61" fill="rgb(132,132,132)"/><rect x="419.94" y="218.93" width="2.61" height="2.61" fill="rgb(214,214,214)"/><rect x="423.55" y="218.93" width="2.61" height="2.61" fill="rgb(132,132,132)"/><rect x="427.15" y="218.93" width="2.61" height="2.61" fill="rgb(214,214,214)"/><rect x="430.76" y="218.93" width="2.61" height="2.61" fill="rgb(132,132,132)"/><rect x="434.37" y="218.93" width="2.61" height="2.61" fill="rgb(105,105,105)"/><rect x="437.98" y="218.93" width="2.61" height="2.61" fill="rgb(56,56,56)"/><rect x="441.59" y="218.93" width="2.61" height="2.61" fill="rgb(56,56,56)"/><rect x="445.20" y="218.93" width="2.61" height="2.61" fill="rgb(132,132,132)"/><rect x="412.72" y="222.54" width="2.61" height="2.61" fill="rgb(238,238,238)"/><rect x="416.33" y="222.54" width="2.61" height="2.61" fill="rgb(214,214,214)"/><rect x="419.94" y="222.54" width="2.61" height="2.61" fill="rgb(214,214,214)"/><rect x="423.55" y="222.54" width="2.61" height="2.61" fill="rgb(178,178,178)"/><rect x="427.15" y="222.54" width="2.61" height="2.61" fill="rgb(178,178,178)"/><rect x="430.76" y="222.54" width="2.61" height="2.61" fill="rgb(56,56,56)"/><rect x="434.37" y="222.54" width="2.61" height="2.61" fill="rgb(80,80,80)"/><rect x="437.98" y="222.54" width="2.61" height="2.61" fill="rgb(132,132,132)"/><rect x="441.59" y="222.54" width="2.61" height="2.61" fill="rgb(105,105,105)"/><rect x="445.20" y="222.54" width="2.61" height="2.61" fill="rgb(178,178,178)"/><rect x="409.11" y="226.15" width="2.61" height="2.61" fill="rgb(238,238,238)"/><rect x="412.72" y="226.15" width="2.61" height="2.61" fill="rgb(214,214,214)"/><rect x="416.33" y="226.15" width="2.61" height="2.61" fill="rgb(178,178,178)"/><rect x="419.94" y="226.15" width="2.61" height="2.61" fill="rgb(214,214,214)"/><rect x="423.55" y="226.15" width="2.61" height="2.61" fill="rgb(214,214,214)"/><rect x="427.15" y="226.15" width="2.61" height="2.61" fill="rgb(132,132,132)"/><rect x="430.76" y="226.15" width="2.61" height="2.61" fill="rgb(178,178,178)"/><rect x="434.37" y="226.15" width="2.61" height="2.61" fill="rgb(132,132,132)"/><rect x="437.98" y="226.15" width="2.61" height="2.61" fill="rgb(178,178,178)"/><rect x="441.59" y="226.15" width="2.61" height="2.61" fill="rgb(214,214,214)"/><rect x="445.20" y="226.15" width="2.61" height="2.61" fill="rgb(238,238,238)"/><rect x="405.50" y="229.76" width="2.61" height="2.61" fill="rgb(238,238,238)"/><rect x="409.11" y="229.76" width="2.61" height="2.61" fill="rgb(238,238,238)"/><rect x="412.72" y="229.76" width="2.61" height="2.61" fill="rgb(238,238,238)"/><rect x="416.33" y="229.76" width="2.61" height="2.61" fill="rgb(238,238,238)"/><rect x="419.94" y="229.76" width="2.61" height="2.61" fill="rgb(178,178,178)"/><rect x="423.55" y="229.76" width="2.61" height="2.61" fill="rgb(214,214,214)"/><rect x="427.15" y="229.76" width="2.61" height="2.61" fill="rgb(178,178,178)"/><rect x="430.76" y="229.76" width="2.61" height="2.61" fill="rgb(214,214,214)"/><rect x="434.37" y="229.76" width="2.61" height="2.61" fill="rgb(178,178,178)"/><rect x="437.98" y="229.76" width="2.61" height="2.61" fill="rgb(132,132,132)"/><rect x="441.59" y="229.76" width="2.61" height="2.61" fill="rgb(214,214,214)"/><rect x="409.11" y="233.37" width="2.61" height="2.61" fill="rgb(214,214,214)"/><rect x="412.72" y="233.37" width="2.61" height="2.61" fill="rgb(238,238,238)"/><rect x="416.33" y="233.37" width="2.61" height="2.61" fill="rgb(214,214,214)"/><rect x="419.94" y="233.37" width="2.61" height="2.61" fill="rgb(178,178,178)"/><rect x="423.55" y="233.37" width="2.61" height="2.61" fill="rgb(214,214,214)"/><rect x="427.15" y="233.37" width="2.61" height="2.61" fill="rgb(105,105,105)"/><rect x="430.76" y="233.37" width="2.61" height="2.61" fill="rgb(214,214,214)"/><rect x="434.37" y="233.37" width="2.61" height="2.61" fill="rgb(238,238,238)"/><rect x="437.98" y="233.37" width="2.61" height="2.61" fill="rgb(238,238,238)"/><rect x="405.50" y="236.97" width="2.61" height="2.61" fill="rgb(238,238,238)"/><rect x="409.11" y="236.97" width="2.61" height="2.61" fill="rgb(214,214,214)"/><rect x="412.72" y="236.97" width="2.61" height="2.61" fill="rgb(238,238,238)"/><rect x="416.33" y="236.97" width="2.61" height="2.61" fill="rgb(214,214,214)"/><rect x="419.94" y="236.97" width="2.61" height="2.61" fill="rgb(238,238,238)"/><rect x="423.55" y="236.97" width="2.61" height="2.61" fill="rgb(132,132,132)"/><rect x="427.15" y="236.97" width="2.61" height="2.61" fill="rgb(214,214,214)"/><rect x="430.76" y="236.97" width="2.61" height="2.61" fill="rgb(238,238,238)"/><rect x="430.76" y="240.58" width="2.61" height="2.61" fill="rgb(238,238,238)"/><rect x="423.55" y="244.19" width="2.61" height="2.61" fill="rgb(238,238,238)"/><rect x="430.76" y="244.19" width="2.61" height="2.61" fill="rgb(238,238,238)"/><rect x="416.33" y="255.02" width="2.61" height="2.61" fill="rgb(238,238,238)"/><rect x="484.90" y="172.01" width="2.61" height="2.61" fill="rgb(238,238,238)"/><rect x="488.51" y="172.01" width="2.61" height="2.61" fill="rgb(238,238,238)"/><rect x="477.68" y="175.62" width="2.61" height="2.61" fill="rgb(238,238,238)"/><rect x="481.29" y="175.62" width="2.61" height="2.61" fill="rgb(238,238,238)"/><rect x="484.90" y="175.62" width="2.61" height="2.61" fill="rgb(214,214,214)"/><rect x="481.29" y="179.23" width="2.61" height="2.61" fill="rgb(178,178,178)"/><rect x="484.90" y="179.23" width="2.61" height="2.61" fill="rgb(214,214,214)"/><rect x="488.51" y="179.23" width="2.61" height="2.61" fill="rgb(214,214,214)"/><rect x="466.85" y="182.84" width="2.61" height="2.61" fill="rgb(238,238,238)"/><rect x="474.07" y="182.84" width="2.61" height="2.61" fill="rgb(238,238,238)"/><rect x="477.68" y="182.84" width="2.61" height="2.61" fill="rgb(214,214,214)"/><rect x="481.29" y="182.84" width="2.61" height="2.61" fill="rgb(214,214,214)"/><rect x="484.90" y="182.84" width="2.61" height="2.61" fill="rgb(238,238,238)"/><rect x="488.51" y="182.84" width="2.61" height="2.61" fill="rgb(214,214,214)"/><rect x="456.03" y="186.45" width="2.61" height="2.61" fill="rgb(238,238,238)"/><rect x="463.24" y="186.45" width="2.61" height="2.61" fill="rgb(238,238,238)"/><rect x="466.85" y="186.45" width="2.61" height="2.61" fill="rgb(238,238,238)"/><rect x="470.46" y="186.45" width="2.61" height="2.61" fill="rgb(238,238,238)"/><rect x="474.07" y="186.45" width="2.61" height="2.61" fill="rgb(178,178,178)"/><rect x="477.68" y="186.45" width="2.61" height="2.61" fill="rgb(214,214,214)"/><rect x="481.29" y="186.45" width="2.61" height="2.61" fill="rgb(214,214,214)"/><rect x="484.90" y="186.45" width="2.61" height="2.61" fill="rgb(105,105,105)"/><rect x="488.51" y="186.45" width="2.61" height="2.61" fill="rgb(178,178,178)"/><rect x="452.42" y="190.06" width="2.61" height="2.61" fill="rgb(238,238,238)"/><rect x="456.03" y="190.06" width="2.61" height="2.61" fill="rgb(238,238,238)"/><rect x="459.63" y="190.06" width="2.61" height="2.61" fill="rgb(238,238,238)"/><rect x="466.85" y="190.06" width="2.61" height="2.61" fill="rgb(214,214,214)"/><rect x="470.46" y="190.06" width="2.61" height="2.61" fill="rgb(178,178,178)"/><rect x="474.07" y="190.06" width="2.61" height="2.61" fill="rgb(214,214,214)"/><rect x="477.68" y="190.06" width="2.61" height="2.61" fill="rgb(132,132,132)"/><rect x="481.29" y="190.06" width="2.61" height="2.61" fill="rgb(132,132,132)"/><rect x="484.90" y="190.06" width="2.61" height="2.61" fill="rgb(80,80,80)"/><rect x="488.51" y="190.06" width="2.61" height="2.61" fill="rgb(214,214,214)"/><rect x="452.42" y="193.67" width="2.61" height="2.61" fill="rgb(214,214,214)"/><rect x="456.03" y="193.67" width="2.61" height="2.61" fill="rgb(238,238,238)"/><rect x="459.63" y="193.67" width="2.61" height="2.61" fill="rgb(214,214,214)"/><rect x="463.24" y="193.67" width="2.61" height="2.61" fill="rgb(178,178,178)"/><rect x="466.85" y="193.67" width="2.61" height="2.61" fill="rgb(178,178,178)"/><rect x="470.46" y="193.67" width="2.61" height="2.61" fill="rgb(214,214,214)"/><rect x="474.07" y="193.67" width="2.61" height="2.61" fill="rgb(80,80,80)"/><rect x="477.68" y="193.67" width="2.61" height="2.61" fill="rgb(178,178,178)"/><rect x="481.29" y="193.67" width="2.61" height="2.61" fill="rgb(105,105,105)"/><rect x="484.90" y="193.67" width="2.61" height="2.61" fill="rgb(105,105,105)"/><rect x="488.51" y="193.67" width="2.61" height="2.61" fill="rgb(238,238,238)"/><rect x="448.81" y="197.28" width="2.61" height="2.61" fill="rgb(238,238,238)"/><rect x="452.42" y="197.28" width="2.61" height="2.61" fill="rgb(214,214,214)"/><rect x="456.03" y="197.28" width="2.61" height="2.61" fill="rgb(178,178,178)"/><rect x="459.63" y="197.28" width="2.61" height="2.61" fill="rgb(214,214,214)"/><rect x="463.24" y="197.28" width="2.61" height="2.61" fill="rgb(132,132,132)"/><rect x="466.85" y="197.28" width="2.61" height="2.61" fill="rgb(105,105,105)"/><rect x="470.46" y="197.28" width="2.61" height="2.61" fill="rgb(132,132,132)"/><rect x="474.07" y="197.28" width="2.61" height="2.61" fill="rgb(132,132,132)"/><rect x="477.68" y="197.28" width="2.61" height="2.61" fill="rgb(214,214,214)"/><rect x="481.29" y="197.28" width="2.61" height="2.61" fill="rgb(214,214,214)"/><rect x="484.90" y="197.28" width="2.61" height="2.61" fill="rgb(214,214,214)"/><rect x="448.81" y="200.88" width="2.61" height="2.61" fill="rgb(178,178,178)"/><rect x="452.42" y="200.88" width="2.61" height="2.61" fill="rgb(178,178,178)"/><rect x="456.03" y="200.88" width="2.61" height="2.61" fill="rgb(132,132,132)"/><rect x="459.63" y="200.88" width="2.61" height="2.61" fill="rgb(178,178,178)"/><rect x="463.24" y="200.88" width="2.61" height="2.61" fill="rgb(105,105,105)"/><rect x="466.85" y="200.88" width="2.61" height="2.61" fill="rgb(178,178,178)"/><rect x="470.46" y="200.88" width="2.61" height="2.61" fill="rgb(178,178,178)"/><rect x="474.07" y="200.88" width="2.61" height="2.61" fill="rgb(214,214,214)"/><rect x="477.68" y="200.88" width="2.61" height="2.61" fill="rgb(238,238,238)"/><rect x="448.81" y="204.49" width="2.61" height="2.61" fill="rgb(132,132,132)"/><rect x="452.42" y="204.49" width="2.61" height="2.61" fill="rgb(105,105,105)"/><rect x="456.03" y="204.49" width="2.61" height="2.61" fill="rgb(132,132,132)"/><rect x="459.63" y="204.49" width="2.61" height="2.61" fill="rgb(132,132,132)"/><rect x="463.24" y="204.49" width="2.61" height="2.61" fill="rgb(105,105,105)"/><rect x="466.85" y="204.49" width="2.61" height="2.61" fill="rgb(132,132,132)"/><rect x="470.46" y="204.49" width="2.61" height="2.61" fill="rgb(214,214,214)"/><rect x="474.07" y="204.49" width="2.61" height="2.61" fill="rgb(214,214,214)"/><rect x="448.81" y="208.10" width="2.61" height="2.61" fill="rgb(34,34,34)"/><rect x="452.42" y="208.10" width="2.61" height="2.61" fill="rgb(178,178,178)"/><rect x="456.03" y="208.10" width="2.61" height="2.61" fill="rgb(132,132,132)"/><rect x="459.63" y="208.10" width="2.61" height="2.61" fill="rgb(105,105,105)"/><rect x="463.24" y="208.10" width="2.61" height="2.61" fill="rgb(56,56,56)"/><rect x="466.85" y="208.10" width="2.61" height="2.61" fill="rgb(214,214,214)"/><rect x="470.46" y="208.10" width="2.61" height="2.61" fill="rgb(238,238,238)"/><rect x="448.81" y="211.71" width="2.61" height="2.61" fill="rgb(132,132,132)"/><rect x="452.42" y="211.71" width="2.61" height="2.61" fill="rgb(105,105,105)"/><rect x="456.03" y="211.71" width="2.61" height="2.61" fill="rgb(132,132,132)"/><rect x="459.63" y="211.71" width="2.61" height="2.61" fill="rgb(214,214,214)"/><rect x="463.24" y="211.71" width="2.61" height="2.61" fill="rgb(238,238,238)"/><rect x="448.81" y="215.32" width="2.61" height="2.61" fill="rgb(178,178,178)"/><rect x="452.42" y="215.32" width="2.61" height="2.61" fill="rgb(132,132,132)"/><rect x="456.03" y="215.32" width="2.61" height="2.61" fill="rgb(178,178,178)"/><rect x="459.63" y="215.32" width="2.61" height="2.61" fill="rgb(214,214,214)"/><rect x="448.81" y="218.93" width="2.61" height="2.61" fill="rgb(132,132,132)"/><rect x="452.42" y="218.93" width="2.61" height="2.61" fill="rgb(214,214,214)"/><rect x="456.03" y="218.93" width="2.61" height="2.61" fill="rgb(214,214,214)"/><rect x="459.63" y="218.93" width="2.61" height="2.61" fill="rgb(238,238,238)"/><rect x="448.81" y="222.54" width="2.61" height="2.61" fill="rgb(238,238,238)"/><rect x="452.42" y="222.54" width="2.61" height="2.61" fill="rgb(214,214,214)"/><rect x="456.03" y="222.54" width="2.61" height="2.61" fill="rgb(238,238,238)"/><rect x="448.81" y="226.15" width="2.61" height="2.61" fill="rgb(238,238,238)"/><rect x="452.42" y="226.15" width="2.61" height="2.61" fill="rgb(214,214,214)"/><rect x="448.81" y="229.76" width="2.61" height="2.61" fill="rgb(214,214,214)"/><rect x="452.42" y="229.76" width="2.61" height="2.61" fill="rgb(238,238,238)"/><rect x="448.81" y="233.37" width="2.61" height="2.61" fill="rgb(238,238,238)"/><rect x="524.60" y="146.75" width="2.61" height="2.61" fill="rgb(214,214,214)"/><rect x="528.21" y="146.75" width="2.61" height="2.61" fill="rgb(214,214,214)"/><rect x="524.60" y="150.36" width="2.61" height="2.61" fill="rgb(214,214,214)"/><rect x="528.21" y="150.36" width="2.61" height="2.61" fill="rgb(178,178,178)"/><rect x="531.82" y="150.36" width="2.61" height="2.61" fill="rgb(178,178,178)"/><rect x="517.38" y="153.97" width="2.61" height="2.61" fill="rgb(214,214,214)"/><rect x="520.99" y="153.97" width="2.61" height="2.61" fill="rgb(178,178,178)"/><rect x="524.60" y="153.97" width="2.61" height="2.61" fill="rgb(132,132,132)"/><rect x="528.21" y="153.97" width="2.61" height="2.61" fill="rgb(178,178,178)"/><rect x="531.82" y="153.97" width="2.61" height="2.61" fill="rgb(214,214,214)"/><rect x="506.55" y="157.58" width="2.61" height="2.61" fill="rgb(214,214,214)"/><rect x="513.77" y="157.58" width="2.61" height="2.61" fill="rgb(178,178,178)"/><rect x="517.38" y="157.58" width="2.61" height="2.61" fill="rgb(178,178,178)"/><rect x="520.99" y="157.58" width="2.61" height="2.61" fill="rgb(105,105,105)"/><rect x="524.60" y="157.58" width="2.61" height="2.61" fill="rgb(178,178,178)"/><rect x="528.21" y="157.58" width="2.61" height="2.61" fill="rgb(178,178,178)"/><rect x="495.73" y="161.19" width="2.61" height="2.61" fill="rgb(238,238,238)"/><rect x="499.33" y="161.19" width="2.61" height="2.61" fill="rgb(214,214,214)"/><rect x="502.94" y="161.19" width="2.61" height="2.61" fill="rgb(214,214,214)"/><rect x="510.16" y="161.19" width="2.61" height="2.61" fill="rgb(214,214,214)"/><rect x="513.77" y="161.19" width="2.61" height="2.61" fill="rgb(132,132,132)"/><rect x="517.38" y="161.19" width="2.61" height="2.61" fill="rgb(132,132,132)"/><rect x="520.99" y="161.19" width="2.61" height="2.61" fill="rgb(132,132,132)"/><rect x="524.60" y="161.19" width="2.61" height="2.61" fill="rgb(178,178,178)"/><rect x="495.73" y="164.79" width="2.61" height="2.61" fill="rgb(214,214,214)"/><rect x="499.33" y="164.79" width="2.61" height="2.61" fill="rgb(214,214,214)"/><rect x="506.55" y="164.79" width="2.61" height="2.61" fill="rgb(178,178,178)"/><rect x="510.16" y="164.79" width="2.61" height="2.61" fill="rgb(105,105,105)"/><rect x="513.77" y="164.79" width="2.61" height="2.61" fill="rgb(132,132,132)"/><rect x="517.38" y="164.79" width="2.61" height="2.61" fill="rgb(178,178,178)"/><rect x="520.99" y="164.79" width="2.61" height="2.61" fill="rgb(178,178,178)"/><rect x="492.12" y="168.40" width="2.61" height="2.61" fill="rgb(214,214,214)"/><rect x="495.73" y="168.40" width="2.61" height="2.61" fill="rgb(238,238,238)"/><rect x="499.33" y="168.40" width="2.61" height="2.61" fill="rgb(132,132,132)"/><rect x="502.94" y="168.40" width="2.61" height="2.61" fill="rgb(132,132,132)"/><rect x="506.55" y="168.40" width="2.61" height="2.61" fill="rgb(132,132,132)"/><rect x="510.16" y="168.40" width="2.61" height="2.61" fill="rgb(178,178,178)"/><rect x="513.77" y="168.40" width="2.61" height="2.61" fill="rgb(178,178,178)"/><rect x="517.38" y="168.40" width="2.61" height="2.61" fill="rgb(214,214,214)"/><rect x="492.12" y="172.01" width="2.61" height="2.61" fill="rgb(238,238,238)"/><rect x="495.73" y="172.01" width="2.61" height="2.61" fill="rgb(214,214,214)"/><rect x="499.33" y="172.01" width="2.61" height="2.61" fill="rgb(178,178,178)"/><rect x="502.94" y="172.01" width="2.61" height="2.61" fill="rgb(132,132,132)"/><rect x="506.55" y="172.01" width="2.61" height="2.61" fill="rgb(80,80,80)"/><rect x="510.16" y="172.01" width="2.61" height="2.61" fill="rgb(132,132,132)"/><rect x="513.77" y="172.01" width="2.61" height="2.61" fill="rgb(214,214,214)"/><rect x="492.12" y="175.62" width="2.61" height="2.61" fill="rgb(214,214,214)"/><rect x="495.73" y="175.62" width="2.61" height="2.61" fill="rgb(105,105,105)"/><rect x="499.33" y="175.62" width="2.61" height="2.61" fill="rgb(132,132,132)"/><rect x="502.94" y="175.62" width="2.61" height="2.61" fill="rgb(178,178,178)"/><rect x="506.55" y="175.62" width="2.61" height="2.61" fill="rgb(105,105,105)"/><rect x="510.16" y="175.62" width="2.61" height="2.61" fill="rgb(178,178,178)"/><rect x="492.12" y="179.23" width="2.61" height="2.61" fill="rgb(178,178,178)"/><rect x="495.73" y="179.23" width="2.61" height="2.61" fill="rgb(80,80,80)"/><rect x="499.33" y="179.23" width="2.61" height="2.61" fill="rgb(132,132,132)"/><rect x="502.94" y="179.23" width="2.61" height="2.61" fill="rgb(178,178,178)"/><rect x="506.55" y="179.23" width="2.61" height="2.61" fill="rgb(178,178,178)"/><rect x="510.16" y="179.23" width="2.61" height="2.61" fill="rgb(214,214,214)"/><rect x="492.12" y="182.84" width="2.61" height="2.61" fill="rgb(105,105,105)"/><rect x="495.73" y="182.84" width="2.61" height="2.61" fill="rgb(178,178,178)"/><rect x="499.33" y="182.84" width="2.61" height="2.61" fill="rgb(178,178,178)"/><rect x="502.94" y="182.84" width="2.61" height="2.61" fill="rgb(214,214,214)"/><rect x="492.12" y="186.45" width="2.61" height="2.61" fill="rgb(14,14,14)"/><rect x="495.73" y="186.45" width="2.61" height="2.61" fill="rgb(178,178,178)"/><rect x="492.12" y="190.06" width="2.61" height="2.61" fill="rgb(214,214,214)"/><rect x="495.73" y="190.06" width="2.61" height="2.61" fill="rgb(238,238,238)"/><rect x="571.51" y="114.27" width="2.61" height="2.61" fill="rgb(214,214,214)"/><rect x="575.12" y="114.27" width="2.61" height="2.61" fill="rgb(214,214,214)"/><rect x="571.51" y="117.88" width="2.61" height="2.61" fill="rgb(214,214,214)"/><rect x="560.69" y="121.49" width="2.61" height="2.61" fill="rgb(214,214,214)"/><rect x="564.30" y="121.49" width="2.61" height="2.61" fill="rgb(214,214,214)"/><rect x="553.47" y="125.09" width="2.61" height="2.61" fill="rgb(214,214,214)"/><rect x="557.08" y="125.09" width="2.61" height="2.61" fill="rgb(178,178,178)"/><rect x="549.86" y="128.70" width="2.61" height="2.61" fill="rgb(214,214,214)"/><rect x="553.47" y="128.70" width="2.61" height="2.61" fill="rgb(214,214,214)"/><rect x="549.86" y="132.31" width="2.61" height="2.61" fill="rgb(178,178,178)"/><rect x="542.64" y="135.92" width="2.61" height="2.61" fill="rgb(214,214,214)"/><rect x="546.25" y="135.92" width="2.61" height="2.61" fill="rgb(178,178,178)"/><rect x="542.64" y="139.53" width="2.61" height="2.61" fill="rgb(178,178,178)"/><rect x="539.03" y="143.14" width="2.61" height="2.61" fill="rgb(178,178,178)"/><rect x="542.64" y="143.14" width="2.61" height="2.61" fill="rgb(214,214,214)"/><rect x="535.42" y="146.75" width="2.61" height="2.61" fill="rgb(214,214,214)"/><rect x="539.03" y="146.75" width="2.61" height="2.61" fill="rgb(178,178,178)"/><rect x="542.64" y="146.75" width="2.61" height="2.61" fill="rgb(214,214,214)"/><rect x="535.42" y="150.36" width="2.61" height="2.61" fill="rgb(178,178,178)"/><rect x="539.03" y="150.36" width="2.61" height="2.61" fill="rgb(214,214,214)"/><rect x="535.42" y="153.97" width="2.61" height="2.61" fill="rgb(214,214,214)"/><rect x="437.98" y="204.49" width="2.61" height="2.61" fill="rgb(238,238,238)"/><rect x="434.37" y="200.88" width="2.61" height="2.61" fill="rgb(238,238,238)"/><rect x="437.98" y="200.88" width="2.61" height="2.61" fill="rgb(238,238,238)"/><rect x="441.59" y="200.88" width="2.61" height="2.61" fill="rgb(214,214,214)"/><rect x="445.20" y="200.88" width="2.61" height="2.61" fill="rgb(238,238,238)"/><rect x="441.59" y="197.28" width="2.61" height="2.61" fill="rgb(238,238,238)"/><rect x="445.20" y="197.28" width="2.61" height="2.61" fill="rgb(238,238,238)"/><rect x="445.20" y="193.67" width="2.61" height="2.61" fill="rgb(238,238,238)"/></g><line x1="405" y1="287.0" x2="583.0" y2="109.0" stroke="#383838" stroke-width="1.1" stroke-dasharray="1.2 3.0"/><polyline points="405.00,235.70 406.78,234.77 408.56,233.84 410.34,232.90 412.12,231.97 413.90,231.03 415.68,230.09 417.46,229.15 419.24,228.21 421.02,227.26 422.80,226.31 424.58,225.36 426.36,224.41 428.14,223.45 429.92,222.49 431.70,221.53 433.48,220.56 435.26,219.60 437.04,218.62 438.82,217.65 440.60,216.67 442.38,215.69 444.16,214.70 445.94,213.71 447.72,212.72 449.50,211.72 451.28,210.72 453.06,209.71 454.84,208.69 456.62,207.68 458.40,206.65 460.18,205.63 461.96,204.59 463.74,203.55 465.52,202.51 467.30,201.45 469.08,200.39 470.86,199.33 472.64,198.26 474.42,197.18 476.20,196.09 477.98,194.99 479.76,193.89 481.54,192.78 483.32,191.66 485.10,190.53 486.88,189.39 488.66,188.24 490.44,187.08 492.22,185.91 494.00,184.73 495.78,183.54 497.56,182.34 499.34,181.13 501.12,179.91 502.90,178.67 504.68,177.42 506.46,176.16 508.24,174.89 510.02,173.60 511.80,172.30 513.58,170.99 515.36,169.66 517.14,168.32 518.92,166.96 520.70,165.59 522.48,164.20 524.26,162.80 526.04,161.38 527.82,159.95 529.60,158.50 531.38,157.03 533.16,155.55 534.94,154.06 536.72,152.55 538.50,151.02 540.28,149.48 542.06,147.92 543.84,146.35 545.62,144.76 547.40,143.16 549.18,141.55 550.96,139.92 552.74,138.28 554.52,136.62 556.30,134.96 558.08,133.28 559.86,131.59 561.64,129.89 563.42,128.18 565.20,126.47 566.98,124.74 568.76,123.01 570.54,121.27 572.32,119.53 574.10,117.78 575.88,116.02 577.66,114.26 579.44,112.50 581.22,110.73 583.00,108.96" fill="none" stroke="#f2c050" stroke-width="1.25"/></svg><svg x="405" y="287.0" width="178.0" height="178.0" viewBox="405 287.0 178.0 178.0" overflow="hidden"><g filter="url(#soft)"><rect x="412.72" y="323.52" width="2.61" height="2.65" fill="rgb(238,238,238)"/><rect x="416.33" y="327.17" width="2.61" height="2.65" fill="rgb(238,238,238)"/><rect x="419.94" y="327.17" width="2.61" height="2.65" fill="rgb(238,238,238)"/><rect x="416.33" y="338.12" width="2.61" height="2.65" fill="rgb(238,238,238)"/><rect x="419.94" y="338.12" width="2.61" height="2.65" fill="rgb(238,238,238)"/><rect x="423.55" y="338.12" width="2.61" height="2.65" fill="rgb(214,214,214)"/><rect x="419.94" y="341.77" width="2.61" height="2.65" fill="rgb(214,214,214)"/><rect x="427.15" y="341.77" width="2.61" height="2.65" fill="rgb(238,238,238)"/><rect x="430.76" y="341.77" width="2.61" height="2.65" fill="rgb(238,238,238)"/><rect x="416.33" y="345.42" width="2.61" height="2.65" fill="rgb(214,214,214)"/><rect x="423.55" y="345.42" width="2.61" height="2.65" fill="rgb(238,238,238)"/><rect x="430.76" y="345.42" width="2.61" height="2.65" fill="rgb(214,214,214)"/><rect x="434.37" y="345.42" width="2.61" height="2.65" fill="rgb(238,238,238)"/><rect x="409.11" y="349.07" width="2.61" height="2.65" fill="rgb(238,238,238)"/><rect x="412.72" y="349.07" width="2.61" height="2.65" fill="rgb(214,214,214)"/><rect x="423.55" y="349.07" width="2.61" height="2.65" fill="rgb(214,214,214)"/><rect x="427.15" y="349.07" width="2.61" height="2.65" fill="rgb(238,238,238)"/><rect x="430.76" y="349.07" width="2.61" height="2.65" fill="rgb(238,238,238)"/><rect x="434.37" y="349.07" width="2.61" height="2.65" fill="rgb(238,238,238)"/><rect x="441.59" y="349.07" width="2.61" height="2.65" fill="rgb(238,238,238)"/><rect x="416.33" y="352.72" width="2.61" height="2.65" fill="rgb(214,214,214)"/><rect x="423.55" y="352.72" width="2.61" height="2.65" fill="rgb(238,238,238)"/><rect x="427.15" y="352.72" width="2.61" height="2.65" fill="rgb(238,238,238)"/><rect x="416.33" y="356.37" width="2.61" height="2.65" fill="rgb(238,238,238)"/><rect x="427.15" y="356.37" width="2.61" height="2.65" fill="rgb(214,214,214)"/><rect x="434.37" y="356.37" width="2.61" height="2.65" fill="rgb(238,238,238)"/><rect x="437.98" y="356.37" width="2.61" height="2.65" fill="rgb(238,238,238)"/><rect x="412.72" y="360.02" width="2.61" height="2.65" fill="rgb(238,238,238)"/><rect x="423.55" y="360.02" width="2.61" height="2.65" fill="rgb(178,178,178)"/><rect x="434.37" y="360.02" width="2.61" height="2.65" fill="rgb(238,238,238)"/><rect x="437.98" y="360.02" width="2.61" height="2.65" fill="rgb(238,238,238)"/><rect x="419.94" y="363.67" width="2.61" height="2.65" fill="rgb(238,238,238)"/><rect x="441.59" y="363.67" width="2.61" height="2.65" fill="rgb(214,214,214)"/><rect x="409.11" y="367.32" width="2.61" height="2.65" fill="rgb(238,238,238)"/><rect x="412.72" y="367.32" width="2.61" height="2.65" fill="rgb(238,238,238)"/><rect x="427.15" y="367.32" width="2.61" height="2.65" fill="rgb(214,214,214)"/><rect x="430.76" y="367.32" width="2.61" height="2.65" fill="rgb(178,178,178)"/><rect x="434.37" y="367.32" width="2.61" height="2.65" fill="rgb(132,132,132)"/><rect x="437.98" y="367.32" width="2.61" height="2.65" fill="rgb(214,214,214)"/><rect x="412.72" y="370.97" width="2.61" height="2.65" fill="rgb(238,238,238)"/><rect x="416.33" y="370.97" width="2.61" height="2.65" fill="rgb(238,238,238)"/><rect x="430.76" y="370.97" width="2.61" height="2.65" fill="rgb(178,178,178)"/><rect x="434.37" y="370.97" width="2.61" height="2.65" fill="rgb(214,214,214)"/><rect x="437.98" y="370.97" width="2.61" height="2.65" fill="rgb(178,178,178)"/><rect x="441.59" y="370.97" width="2.61" height="2.65" fill="rgb(178,178,178)"/><rect x="416.33" y="374.62" width="2.61" height="2.65" fill="rgb(238,238,238)"/><rect x="419.94" y="374.62" width="2.61" height="2.65" fill="rgb(214,214,214)"/><rect x="423.55" y="374.62" width="2.61" height="2.65" fill="rgb(238,238,238)"/><rect x="427.15" y="374.62" width="2.61" height="2.65" fill="rgb(214,214,214)"/><rect x="434.37" y="374.62" width="2.61" height="2.65" fill="rgb(178,178,178)"/><rect x="437.98" y="374.62" width="2.61" height="2.65" fill="rgb(214,214,214)"/><rect x="441.59" y="374.62" width="2.61" height="2.65" fill="rgb(214,214,214)"/><rect x="445.20" y="374.62" width="2.61" height="2.65" fill="rgb(214,214,214)"/><rect x="419.94" y="378.27" width="2.61" height="2.65" fill="rgb(238,238,238)"/><rect x="427.15" y="378.27" width="2.61" height="2.65" fill="rgb(178,178,178)"/><rect x="430.76" y="378.27" width="2.61" height="2.65" fill="rgb(132,132,132)"/><rect x="434.37" y="378.27" width="2.61" height="2.65" fill="rgb(214,214,214)"/><rect x="437.98" y="378.27" width="2.61" height="2.65" fill="rgb(178,178,178)"/><rect x="441.59" y="378.27" width="2.61" height="2.65" fill="rgb(178,178,178)"/><rect x="445.20" y="378.27" width="2.61" height="2.65" fill="rgb(214,214,214)"/><rect x="423.55" y="381.92" width="2.61" height="2.65" fill="rgb(238,238,238)"/><rect x="427.15" y="381.92" width="2.61" height="2.65" fill="rgb(238,238,238)"/><rect x="430.76" y="381.92" width="2.61" height="2.65" fill="rgb(132,132,132)"/><rect x="434.37" y="381.92" width="2.61" height="2.65" fill="rgb(178,178,178)"/><rect x="437.98" y="381.92" width="2.61" height="2.65" fill="rgb(214,214,214)"/><rect x="441.59" y="381.92" width="2.61" height="2.65" fill="rgb(214,214,214)"/><rect x="445.20" y="381.92" width="2.61" height="2.65" fill="rgb(238,238,238)"/><rect x="416.33" y="385.57" width="2.61" height="2.65" fill="rgb(238,238,238)"/><rect x="419.94" y="385.57" width="2.61" height="2.65" fill="rgb(214,214,214)"/><rect x="427.15" y="385.57" width="2.61" height="2.65" fill="rgb(214,214,214)"/><rect x="430.76" y="385.57" width="2.61" height="2.65" fill="rgb(214,214,214)"/><rect x="434.37" y="385.57" width="2.61" height="2.65" fill="rgb(178,178,178)"/><rect x="437.98" y="385.57" width="2.61" height="2.65" fill="rgb(80,80,80)"/><rect x="441.59" y="385.57" width="2.61" height="2.65" fill="rgb(214,214,214)"/><rect x="445.20" y="385.57" width="2.61" height="2.65" fill="rgb(178,178,178)"/><rect x="423.55" y="389.22" width="2.61" height="2.65" fill="rgb(214,214,214)"/><rect x="427.15" y="389.22" width="2.61" height="2.65" fill="rgb(178,178,178)"/><rect x="430.76" y="389.22" width="2.61" height="2.65" fill="rgb(178,178,178)"/><rect x="434.37" y="389.22" width="2.61" height="2.65" fill="rgb(178,178,178)"/><rect x="437.98" y="389.22" width="2.61" height="2.65" fill="rgb(214,214,214)"/><rect x="441.59" y="389.22" width="2.61" height="2.65" fill="rgb(132,132,132)"/><rect x="445.20" y="389.22" width="2.61" height="2.65" fill="rgb(214,214,214)"/><rect x="423.55" y="392.87" width="2.61" height="2.65" fill="rgb(238,238,238)"/><rect x="427.15" y="392.87" width="2.61" height="2.65" fill="rgb(178,178,178)"/><rect x="430.76" y="392.87" width="2.61" height="2.65" fill="rgb(214,214,214)"/><rect x="434.37" y="392.87" width="2.61" height="2.65" fill="rgb(105,105,105)"/><rect x="437.98" y="392.87" width="2.61" height="2.65" fill="rgb(132,132,132)"/><rect x="441.59" y="392.87" width="2.61" height="2.65" fill="rgb(178,178,178)"/><rect x="445.20" y="392.87" width="2.61" height="2.65" fill="rgb(132,132,132)"/><rect x="427.15" y="396.52" width="2.61" height="2.65" fill="rgb(178,178,178)"/><rect x="430.76" y="396.52" width="2.61" height="2.65" fill="rgb(214,214,214)"/><rect x="434.37" y="396.52" width="2.61" height="2.65" fill="rgb(178,178,178)"/><rect x="437.98" y="396.52" width="2.61" height="2.65" fill="rgb(214,214,214)"/><rect x="441.59" y="396.52" width="2.61" height="2.65" fill="rgb(178,178,178)"/><rect x="445.20" y="396.52" width="2.61" height="2.65" fill="rgb(178,178,178)"/><rect x="423.55" y="400.17" width="2.61" height="2.65" fill="rgb(238,238,238)"/><rect x="430.76" y="400.17" width="2.61" height="2.65" fill="rgb(214,214,214)"/><rect x="434.37" y="400.17" width="2.61" height="2.65" fill="rgb(214,214,214)"/><rect x="437.98" y="400.17" width="2.61" height="2.65" fill="rgb(214,214,214)"/><rect x="441.59" y="400.17" width="2.61" height="2.65" fill="rgb(132,132,132)"/><rect x="445.20" y="400.17" width="2.61" height="2.65" fill="rgb(214,214,214)"/><rect x="423.55" y="403.82" width="2.61" height="2.65" fill="rgb(214,214,214)"/><rect x="427.15" y="403.82" width="2.61" height="2.65" fill="rgb(238,238,238)"/><rect x="434.37" y="403.82" width="2.61" height="2.65" fill="rgb(178,178,178)"/><rect x="437.98" y="403.82" width="2.61" height="2.65" fill="rgb(132,132,132)"/><rect x="441.59" y="403.82" width="2.61" height="2.65" fill="rgb(214,214,214)"/><rect x="445.20" y="403.82" width="2.61" height="2.65" fill="rgb(178,178,178)"/><rect x="430.76" y="407.47" width="2.61" height="2.65" fill="rgb(238,238,238)"/><rect x="437.98" y="407.47" width="2.61" height="2.65" fill="rgb(214,214,214)"/><rect x="441.59" y="407.47" width="2.61" height="2.65" fill="rgb(238,238,238)"/><rect x="448.81" y="356.37" width="2.61" height="2.65" fill="rgb(238,238,238)"/><rect x="448.81" y="360.02" width="2.61" height="2.65" fill="rgb(238,238,238)"/><rect x="452.42" y="360.02" width="2.61" height="2.65" fill="rgb(238,238,238)"/><rect x="452.42" y="363.67" width="2.61" height="2.65" fill="rgb(214,214,214)"/><rect x="456.03" y="363.67" width="2.61" height="2.65" fill="rgb(214,214,214)"/><rect x="448.81" y="367.32" width="2.61" height="2.65" fill="rgb(238,238,238)"/><rect x="452.42" y="367.32" width="2.61" height="2.65" fill="rgb(238,238,238)"/><rect x="456.03" y="367.32" width="2.61" height="2.65" fill="rgb(238,238,238)"/><rect x="448.81" y="370.97" width="2.61" height="2.65" fill="rgb(238,238,238)"/><rect x="452.42" y="370.97" width="2.61" height="2.65" fill="rgb(238,238,238)"/><rect x="448.81" y="374.62" width="2.61" height="2.65" fill="rgb(214,214,214)"/><rect x="452.42" y="374.62" width="2.61" height="2.65" fill="rgb(214,214,214)"/><rect x="456.03" y="374.62" width="2.61" height="2.65" fill="rgb(214,214,214)"/><rect x="459.63" y="374.62" width="2.61" height="2.65" fill="rgb(238,238,238)"/><rect x="463.24" y="374.62" width="2.61" height="2.65" fill="rgb(238,238,238)"/><rect x="448.81" y="378.27" width="2.61" height="2.65" fill="rgb(178,178,178)"/><rect x="452.42" y="378.27" width="2.61" height="2.65" fill="rgb(214,214,214)"/><rect x="456.03" y="378.27" width="2.61" height="2.65" fill="rgb(238,238,238)"/><rect x="466.85" y="378.27" width="2.61" height="2.65" fill="rgb(238,238,238)"/><rect x="448.81" y="381.92" width="2.61" height="2.65" fill="rgb(178,178,178)"/><rect x="452.42" y="381.92" width="2.61" height="2.65" fill="rgb(214,214,214)"/><rect x="456.03" y="381.92" width="2.61" height="2.65" fill="rgb(178,178,178)"/><rect x="459.63" y="381.92" width="2.61" height="2.65" fill="rgb(238,238,238)"/><rect x="466.85" y="381.92" width="2.61" height="2.65" fill="rgb(238,238,238)"/><rect x="448.81" y="385.57" width="2.61" height="2.65" fill="rgb(178,178,178)"/><rect x="452.42" y="385.57" width="2.61" height="2.65" fill="rgb(178,178,178)"/><rect x="456.03" y="385.57" width="2.61" height="2.65" fill="rgb(178,178,178)"/><rect x="459.63" y="385.57" width="2.61" height="2.65" fill="rgb(214,214,214)"/><rect x="463.24" y="385.57" width="2.61" height="2.65" fill="rgb(238,238,238)"/><rect x="466.85" y="385.57" width="2.61" height="2.65" fill="rgb(238,238,238)"/><rect x="470.46" y="385.57" width="2.61" height="2.65" fill="rgb(238,238,238)"/><rect x="474.07" y="385.57" width="2.61" height="2.65" fill="rgb(238,238,238)"/><rect x="448.81" y="389.22" width="2.61" height="2.65" fill="rgb(105,105,105)"/><rect x="452.42" y="389.22" width="2.61" height="2.65" fill="rgb(214,214,214)"/><rect x="456.03" y="389.22" width="2.61" height="2.65" fill="rgb(214,214,214)"/><rect x="459.63" y="389.22" width="2.61" height="2.65" fill="rgb(178,178,178)"/><rect x="463.24" y="389.22" width="2.61" height="2.65" fill="rgb(178,178,178)"/><rect x="466.85" y="389.22" width="2.61" height="2.65" fill="rgb(238,238,238)"/><rect x="474.07" y="389.22" width="2.61" height="2.65" fill="rgb(238,238,238)"/><rect x="477.68" y="389.22" width="2.61" height="2.65" fill="rgb(238,238,238)"/><rect x="484.90" y="389.22" width="2.61" height="2.65" fill="rgb(238,238,238)"/><rect x="448.81" y="392.87" width="2.61" height="2.65" fill="rgb(178,178,178)"/><rect x="452.42" y="392.87" width="2.61" height="2.65" fill="rgb(132,132,132)"/><rect x="456.03" y="392.87" width="2.61" height="2.65" fill="rgb(214,214,214)"/><rect x="459.63" y="392.87" width="2.61" height="2.65" fill="rgb(238,238,238)"/><rect x="463.24" y="392.87" width="2.61" height="2.65" fill="rgb(214,214,214)"/><rect x="466.85" y="392.87" width="2.61" height="2.65" fill="rgb(214,214,214)"/><rect x="470.46" y="392.87" width="2.61" height="2.65" fill="rgb(238,238,238)"/><rect x="474.07" y="392.87" width="2.61" height="2.65" fill="rgb(238,238,238)"/><rect x="477.68" y="392.87" width="2.61" height="2.65" fill="rgb(214,214,214)"/><rect x="481.29" y="392.87" width="2.61" height="2.65" fill="rgb(105,105,105)"/><rect x="484.90" y="392.87" width="2.61" height="2.65" fill="rgb(238,238,238)"/><rect x="448.81" y="396.52" width="2.61" height="2.65" fill="rgb(105,105,105)"/><rect x="452.42" y="396.52" width="2.61" height="2.65" fill="rgb(178,178,178)"/><rect x="456.03" y="396.52" width="2.61" height="2.65" fill="rgb(178,178,178)"/><rect x="459.63" y="396.52" width="2.61" height="2.65" fill="rgb(178,178,178)"/><rect x="463.24" y="396.52" width="2.61" height="2.65" fill="rgb(214,214,214)"/><rect x="466.85" y="396.52" width="2.61" height="2.65" fill="rgb(238,238,238)"/><rect x="470.46" y="396.52" width="2.61" height="2.65" fill="rgb(214,214,214)"/><rect x="474.07" y="396.52" width="2.61" height="2.65" fill="rgb(214,214,214)"/><rect x="477.68" y="396.52" width="2.61" height="2.65" fill="rgb(238,238,238)"/><rect x="484.90" y="396.52" width="2.61" height="2.65" fill="rgb(238,238,238)"/><rect x="448.81" y="400.17" width="2.61" height="2.65" fill="rgb(132,132,132)"/><rect x="452.42" y="400.17" width="2.61" height="2.65" fill="rgb(105,105,105)"/><rect x="456.03" y="400.17" width="2.61" height="2.65" fill="rgb(178,178,178)"/><rect x="459.63" y="400.17" width="2.61" height="2.65" fill="rgb(178,178,178)"/><rect x="463.24" y="400.17" width="2.61" height="2.65" fill="rgb(178,178,178)"/><rect x="466.85" y="400.17" width="2.61" height="2.65" fill="rgb(214,214,214)"/><rect x="470.46" y="400.17" width="2.61" height="2.65" fill="rgb(214,214,214)"/><rect x="474.07" y="400.17" width="2.61" height="2.65" fill="rgb(238,238,238)"/><rect x="481.29" y="400.17" width="2.61" height="2.65" fill="rgb(238,238,238)"/><rect x="484.90" y="400.17" width="2.61" height="2.65" fill="rgb(238,238,238)"/><rect x="448.81" y="403.82" width="2.61" height="2.65" fill="rgb(214,214,214)"/><rect x="452.42" y="403.82" width="2.61" height="2.65" fill="rgb(214,214,214)"/><rect x="456.03" y="403.82" width="2.61" height="2.65" fill="rgb(214,214,214)"/><rect x="459.63" y="403.82" width="2.61" height="2.65" fill="rgb(178,178,178)"/><rect x="463.24" y="403.82" width="2.61" height="2.65" fill="rgb(178,178,178)"/><rect x="466.85" y="403.82" width="2.61" height="2.65" fill="rgb(214,214,214)"/><rect x="470.46" y="403.82" width="2.61" height="2.65" fill="rgb(178,178,178)"/><rect x="474.07" y="403.82" width="2.61" height="2.65" fill="rgb(238,238,238)"/><rect x="484.90" y="403.82" width="2.61" height="2.65" fill="rgb(214,214,214)"/><rect x="488.51" y="403.82" width="2.61" height="2.65" fill="rgb(238,238,238)"/><rect x="448.81" y="407.47" width="2.61" height="2.65" fill="rgb(105,105,105)"/><rect x="452.42" y="407.47" width="2.61" height="2.65" fill="rgb(178,178,178)"/><rect x="456.03" y="407.47" width="2.61" height="2.65" fill="rgb(178,178,178)"/><rect x="459.63" y="407.47" width="2.61" height="2.65" fill="rgb(214,214,214)"/><rect x="463.24" y="407.47" width="2.61" height="2.65" fill="rgb(178,178,178)"/><rect x="466.85" y="407.47" width="2.61" height="2.65" fill="rgb(178,178,178)"/><rect x="470.46" y="407.47" width="2.61" height="2.65" fill="rgb(132,132,132)"/><rect x="474.07" y="407.47" width="2.61" height="2.65" fill="rgb(214,214,214)"/><rect x="477.68" y="407.47" width="2.61" height="2.65" fill="rgb(214,214,214)"/><rect x="481.29" y="407.47" width="2.61" height="2.65" fill="rgb(238,238,238)"/><rect x="484.90" y="407.47" width="2.61" height="2.65" fill="rgb(238,238,238)"/><rect x="448.81" y="411.12" width="2.61" height="2.65" fill="rgb(238,238,238)"/><rect x="452.42" y="411.12" width="2.61" height="2.65" fill="rgb(238,238,238)"/><rect x="456.03" y="411.12" width="2.61" height="2.65" fill="rgb(214,214,214)"/><rect x="459.63" y="411.12" width="2.61" height="2.65" fill="rgb(214,214,214)"/><rect x="463.24" y="411.12" width="2.61" height="2.65" fill="rgb(214,214,214)"/><rect x="466.85" y="411.12" width="2.61" height="2.65" fill="rgb(178,178,178)"/><rect x="470.46" y="411.12" width="2.61" height="2.65" fill="rgb(214,214,214)"/><rect x="474.07" y="411.12" width="2.61" height="2.65" fill="rgb(132,132,132)"/><rect x="477.68" y="411.12" width="2.61" height="2.65" fill="rgb(178,178,178)"/><rect x="481.29" y="411.12" width="2.61" height="2.65" fill="rgb(214,214,214)"/><rect x="484.90" y="411.12" width="2.61" height="2.65" fill="rgb(238,238,238)"/><rect x="488.51" y="411.12" width="2.61" height="2.65" fill="rgb(238,238,238)"/><rect x="452.42" y="414.77" width="2.61" height="2.65" fill="rgb(238,238,238)"/><rect x="456.03" y="414.77" width="2.61" height="2.65" fill="rgb(238,238,238)"/><rect x="459.63" y="414.77" width="2.61" height="2.65" fill="rgb(238,238,238)"/><rect x="463.24" y="414.77" width="2.61" height="2.65" fill="rgb(80,80,80)"/><rect x="466.85" y="414.77" width="2.61" height="2.65" fill="rgb(238,238,238)"/><rect x="470.46" y="414.77" width="2.61" height="2.65" fill="rgb(178,178,178)"/><rect x="474.07" y="414.77" width="2.61" height="2.65" fill="rgb(214,214,214)"/><rect x="477.68" y="414.77" width="2.61" height="2.65" fill="rgb(214,214,214)"/><rect x="481.29" y="414.77" width="2.61" height="2.65" fill="rgb(214,214,214)"/><rect x="484.90" y="414.77" width="2.61" height="2.65" fill="rgb(178,178,178)"/><rect x="488.51" y="414.77" width="2.61" height="2.65" fill="rgb(214,214,214)"/><rect x="448.81" y="418.42" width="2.61" height="2.65" fill="rgb(238,238,238)"/><rect x="456.03" y="418.42" width="2.61" height="2.65" fill="rgb(238,238,238)"/><rect x="459.63" y="418.42" width="2.61" height="2.65" fill="rgb(238,238,238)"/><rect x="463.24" y="418.42" width="2.61" height="2.65" fill="rgb(214,214,214)"/><rect x="466.85" y="418.42" width="2.61" height="2.65" fill="rgb(132,132,132)"/><rect x="470.46" y="418.42" width="2.61" height="2.65" fill="rgb(214,214,214)"/><rect x="474.07" y="418.42" width="2.61" height="2.65" fill="rgb(214,214,214)"/><rect x="477.68" y="418.42" width="2.61" height="2.65" fill="rgb(214,214,214)"/><rect x="481.29" y="418.42" width="2.61" height="2.65" fill="rgb(214,214,214)"/><rect x="484.90" y="418.42" width="2.61" height="2.65" fill="rgb(132,132,132)"/><rect x="488.51" y="418.42" width="2.61" height="2.65" fill="rgb(178,178,178)"/><rect x="448.81" y="422.07" width="2.61" height="2.65" fill="rgb(214,214,214)"/><rect x="456.03" y="422.07" width="2.61" height="2.65" fill="rgb(214,214,214)"/><rect x="459.63" y="422.07" width="2.61" height="2.65" fill="rgb(214,214,214)"/><rect x="463.24" y="422.07" width="2.61" height="2.65" fill="rgb(238,238,238)"/><rect x="466.85" y="422.07" width="2.61" height="2.65" fill="rgb(238,238,238)"/><rect x="470.46" y="422.07" width="2.61" height="2.65" fill="rgb(178,178,178)"/><rect x="474.07" y="422.07" width="2.61" height="2.65" fill="rgb(214,214,214)"/><rect x="477.68" y="422.07" width="2.61" height="2.65" fill="rgb(178,178,178)"/><rect x="481.29" y="422.07" width="2.61" height="2.65" fill="rgb(214,214,214)"/><rect x="484.90" y="422.07" width="2.61" height="2.65" fill="rgb(214,214,214)"/><rect x="488.51" y="422.07" width="2.61" height="2.65" fill="rgb(214,214,214)"/><rect x="448.81" y="425.72" width="2.61" height="2.65" fill="rgb(238,238,238)"/><rect x="463.24" y="425.72" width="2.61" height="2.65" fill="rgb(238,238,238)"/><rect x="466.85" y="425.72" width="2.61" height="2.65" fill="rgb(238,238,238)"/><rect x="470.46" y="425.72" width="2.61" height="2.65" fill="rgb(214,214,214)"/><rect x="474.07" y="425.72" width="2.61" height="2.65" fill="rgb(178,178,178)"/><rect x="477.68" y="425.72" width="2.61" height="2.65" fill="rgb(132,132,132)"/><rect x="481.29" y="425.72" width="2.61" height="2.65" fill="rgb(178,178,178)"/><rect x="484.90" y="425.72" width="2.61" height="2.65" fill="rgb(105,105,105)"/><rect x="488.51" y="425.72" width="2.61" height="2.65" fill="rgb(214,214,214)"/><rect x="452.42" y="429.37" width="2.61" height="2.65" fill="rgb(214,214,214)"/><rect x="456.03" y="429.37" width="2.61" height="2.65" fill="rgb(238,238,238)"/><rect x="459.63" y="429.37" width="2.61" height="2.65" fill="rgb(238,238,238)"/><rect x="470.46" y="429.37" width="2.61" height="2.65" fill="rgb(214,214,214)"/><rect x="474.07" y="429.37" width="2.61" height="2.65" fill="rgb(214,214,214)"/><rect x="477.68" y="429.37" width="2.61" height="2.65" fill="rgb(178,178,178)"/><rect x="481.29" y="429.37" width="2.61" height="2.65" fill="rgb(132,132,132)"/><rect x="484.90" y="429.37" width="2.61" height="2.65" fill="rgb(178,178,178)"/><rect x="488.51" y="429.37" width="2.61" height="2.65" fill="rgb(214,214,214)"/><rect x="452.42" y="433.02" width="2.61" height="2.65" fill="rgb(238,238,238)"/><rect x="456.03" y="433.02" width="2.61" height="2.65" fill="rgb(238,238,238)"/><rect x="459.63" y="433.02" width="2.61" height="2.65" fill="rgb(238,238,238)"/><rect x="474.07" y="433.02" width="2.61" height="2.65" fill="rgb(214,214,214)"/><rect x="477.68" y="433.02" width="2.61" height="2.65" fill="rgb(214,214,214)"/><rect x="481.29" y="433.02" width="2.61" height="2.65" fill="rgb(214,214,214)"/><rect x="484.90" y="433.02" width="2.61" height="2.65" fill="rgb(214,214,214)"/><rect x="488.51" y="433.02" width="2.61" height="2.65" fill="rgb(178,178,178)"/><rect x="452.42" y="436.67" width="2.61" height="2.65" fill="rgb(238,238,238)"/><rect x="456.03" y="436.67" width="2.61" height="2.65" fill="rgb(238,238,238)"/><rect x="459.63" y="436.67" width="2.61" height="2.65" fill="rgb(238,238,238)"/><rect x="474.07" y="436.67" width="2.61" height="2.65" fill="rgb(238,238,238)"/><rect x="477.68" y="436.67" width="2.61" height="2.65" fill="rgb(238,238,238)"/><rect x="481.29" y="436.67" width="2.61" height="2.65" fill="rgb(238,238,238)"/><rect x="484.90" y="436.67" width="2.61" height="2.65" fill="rgb(238,238,238)"/><rect x="488.51" y="436.67" width="2.61" height="2.65" fill="rgb(238,238,238)"/><rect x="452.42" y="440.32" width="2.61" height="2.65" fill="rgb(238,238,238)"/><rect x="477.68" y="440.32" width="2.61" height="2.65" fill="rgb(214,214,214)"/><rect x="481.29" y="440.32" width="2.61" height="2.65" fill="rgb(214,214,214)"/><rect x="484.90" y="440.32" width="2.61" height="2.65" fill="rgb(214,214,214)"/><rect x="488.51" y="440.32" width="2.61" height="2.65" fill="rgb(178,178,178)"/><rect x="477.68" y="443.97" width="2.61" height="2.65" fill="rgb(238,238,238)"/><rect x="481.29" y="443.97" width="2.61" height="2.65" fill="rgb(238,238,238)"/><rect x="484.90" y="443.97" width="2.61" height="2.65" fill="rgb(238,238,238)"/><rect x="488.51" y="443.97" width="2.61" height="2.65" fill="rgb(214,214,214)"/><rect x="488.51" y="447.62" width="2.61" height="2.65" fill="rgb(238,238,238)"/><rect x="495.73" y="392.87" width="2.61" height="2.65" fill="rgb(214,214,214)"/><rect x="499.33" y="392.87" width="2.61" height="2.65" fill="rgb(238,238,238)"/><rect x="492.12" y="396.52" width="2.61" height="2.65" fill="rgb(238,238,238)"/><rect x="502.94" y="396.52" width="2.61" height="2.65" fill="rgb(238,238,238)"/><rect x="492.12" y="400.17" width="2.61" height="2.65" fill="rgb(238,238,238)"/><rect x="495.73" y="400.17" width="2.61" height="2.65" fill="rgb(238,238,238)"/><rect x="492.12" y="403.82" width="2.61" height="2.65" fill="rgb(238,238,238)"/><rect x="495.73" y="407.47" width="2.61" height="2.65" fill="rgb(238,238,238)"/><rect x="499.33" y="407.47" width="2.61" height="2.65" fill="rgb(238,238,238)"/><rect x="506.55" y="407.47" width="2.61" height="2.65" fill="rgb(238,238,238)"/><rect x="492.12" y="411.12" width="2.61" height="2.65" fill="rgb(238,238,238)"/><rect x="495.73" y="411.12" width="2.61" height="2.65" fill="rgb(214,214,214)"/><rect x="499.33" y="411.12" width="2.61" height="2.65" fill="rgb(214,214,214)"/><rect x="492.12" y="414.77" width="2.61" height="2.65" fill="rgb(238,238,238)"/><rect x="495.73" y="414.77" width="2.61" height="2.65" fill="rgb(214,214,214)"/><rect x="499.33" y="414.77" width="2.61" height="2.65" fill="rgb(214,214,214)"/><rect x="502.94" y="414.77" width="2.61" height="2.65" fill="rgb(214,214,214)"/><rect x="492.12" y="418.42" width="2.61" height="2.65" fill="rgb(214,214,214)"/><rect x="495.73" y="418.42" width="2.61" height="2.65" fill="rgb(178,178,178)"/><rect x="499.33" y="418.42" width="2.61" height="2.65" fill="rgb(238,238,238)"/><rect x="502.94" y="418.42" width="2.61" height="2.65" fill="rgb(238,238,238)"/><rect x="506.55" y="418.42" width="2.61" height="2.65" fill="rgb(178,178,178)"/><rect x="510.16" y="418.42" width="2.61" height="2.65" fill="rgb(238,238,238)"/><rect x="513.77" y="418.42" width="2.61" height="2.65" fill="rgb(238,238,238)"/><rect x="492.12" y="422.07" width="2.61" height="2.65" fill="rgb(105,105,105)"/><rect x="495.73" y="422.07" width="2.61" height="2.65" fill="rgb(132,132,132)"/><rect x="499.33" y="422.07" width="2.61" height="2.65" fill="rgb(214,214,214)"/><rect x="502.94" y="422.07" width="2.61" height="2.65" fill="rgb(178,178,178)"/><rect x="510.16" y="422.07" width="2.61" height="2.65" fill="rgb(238,238,238)"/><rect x="513.77" y="422.07" width="2.61" height="2.65" fill="rgb(178,178,178)"/><rect x="517.38" y="422.07" width="2.61" height="2.65" fill="rgb(214,214,214)"/><rect x="520.99" y="422.07" width="2.61" height="2.65" fill="rgb(214,214,214)"/><rect x="492.12" y="425.72" width="2.61" height="2.65" fill="rgb(178,178,178)"/><rect x="495.73" y="425.72" width="2.61" height="2.65" fill="rgb(34,34,34)"/><rect x="499.33" y="425.72" width="2.61" height="2.65" fill="rgb(178,178,178)"/><rect x="502.94" y="425.72" width="2.61" height="2.65" fill="rgb(178,178,178)"/><rect x="506.55" y="425.72" width="2.61" height="2.65" fill="rgb(56,56,56)"/><rect x="510.16" y="425.72" width="2.61" height="2.65" fill="rgb(132,132,132)"/><rect x="513.77" y="425.72" width="2.61" height="2.65" fill="rgb(214,214,214)"/><rect x="517.38" y="425.72" width="2.61" height="2.65" fill="rgb(238,238,238)"/><rect x="524.60" y="425.72" width="2.61" height="2.65" fill="rgb(214,214,214)"/><rect x="528.21" y="425.72" width="2.61" height="2.65" fill="rgb(238,238,238)"/><rect x="531.82" y="425.72" width="2.61" height="2.65" fill="rgb(238,238,238)"/><rect x="492.12" y="429.37" width="2.61" height="2.65" fill="rgb(105,105,105)"/><rect x="495.73" y="429.37" width="2.61" height="2.65" fill="rgb(214,214,214)"/><rect x="499.33" y="429.37" width="2.61" height="2.65" fill="rgb(178,178,178)"/><rect x="502.94" y="429.37" width="2.61" height="2.65" fill="rgb(178,178,178)"/><rect x="506.55" y="429.37" width="2.61" height="2.65" fill="rgb(214,214,214)"/><rect x="510.16" y="429.37" width="2.61" height="2.65" fill="rgb(214,214,214)"/><rect x="513.77" y="429.37" width="2.61" height="2.65" fill="rgb(178,178,178)"/><rect x="517.38" y="429.37" width="2.61" height="2.65" fill="rgb(214,214,214)"/><rect x="520.99" y="429.37" width="2.61" height="2.65" fill="rgb(238,238,238)"/><rect x="492.12" y="433.02" width="2.61" height="2.65" fill="rgb(105,105,105)"/><rect x="495.73" y="433.02" width="2.61" height="2.65" fill="rgb(132,132,132)"/><rect x="499.33" y="433.02" width="2.61" height="2.65" fill="rgb(214,214,214)"/><rect x="502.94" y="433.02" width="2.61" height="2.65" fill="rgb(214,214,214)"/><rect x="506.55" y="433.02" width="2.61" height="2.65" fill="rgb(214,214,214)"/><rect x="510.16" y="433.02" width="2.61" height="2.65" fill="rgb(214,214,214)"/><rect x="513.77" y="433.02" width="2.61" height="2.65" fill="rgb(178,178,178)"/><rect x="517.38" y="433.02" width="2.61" height="2.65" fill="rgb(178,178,178)"/><rect x="520.99" y="433.02" width="2.61" height="2.65" fill="rgb(56,56,56)"/><rect x="524.60" y="433.02" width="2.61" height="2.65" fill="rgb(214,214,214)"/><rect x="528.21" y="433.02" width="2.61" height="2.65" fill="rgb(238,238,238)"/><rect x="531.82" y="433.02" width="2.61" height="2.65" fill="rgb(214,214,214)"/><rect x="492.12" y="436.67" width="2.61" height="2.65" fill="rgb(214,214,214)"/><rect x="495.73" y="436.67" width="2.61" height="2.65" fill="rgb(178,178,178)"/><rect x="499.33" y="436.67" width="2.61" height="2.65" fill="rgb(214,214,214)"/><rect x="502.94" y="436.67" width="2.61" height="2.65" fill="rgb(178,178,178)"/><rect x="506.55" y="436.67" width="2.61" height="2.65" fill="rgb(214,214,214)"/><rect x="510.16" y="436.67" width="2.61" height="2.65" fill="rgb(214,214,214)"/><rect x="513.77" y="436.67" width="2.61" height="2.65" fill="rgb(214,214,214)"/><rect x="517.38" y="436.67" width="2.61" height="2.65" fill="rgb(214,214,214)"/><rect x="520.99" y="436.67" width="2.61" height="2.65" fill="rgb(214,214,214)"/><rect x="524.60" y="436.67" width="2.61" height="2.65" fill="rgb(178,178,178)"/><rect x="528.21" y="436.67" width="2.61" height="2.65" fill="rgb(178,178,178)"/><rect x="531.82" y="436.67" width="2.61" height="2.65" fill="rgb(178,178,178)"/><rect x="492.12" y="440.32" width="2.61" height="2.65" fill="rgb(214,214,214)"/><rect x="495.73" y="440.32" width="2.61" height="2.65" fill="rgb(178,178,178)"/><rect x="499.33" y="440.32" width="2.61" height="2.65" fill="rgb(214,214,214)"/><rect x="502.94" y="440.32" width="2.61" height="2.65" fill="rgb(214,214,214)"/><rect x="506.55" y="440.32" width="2.61" height="2.65" fill="rgb(80,80,80)"/><rect x="510.16" y="440.32" width="2.61" height="2.65" fill="rgb(178,178,178)"/><rect x="513.77" y="440.32" width="2.61" height="2.65" fill="rgb(214,214,214)"/><rect x="517.38" y="440.32" width="2.61" height="2.65" fill="rgb(178,178,178)"/><rect x="520.99" y="440.32" width="2.61" height="2.65" fill="rgb(214,214,214)"/><rect x="524.60" y="440.32" width="2.61" height="2.65" fill="rgb(214,214,214)"/><rect x="528.21" y="440.32" width="2.61" height="2.65" fill="rgb(238,238,238)"/><rect x="531.82" y="440.32" width="2.61" height="2.65" fill="rgb(214,214,214)"/><rect x="492.12" y="443.97" width="2.61" height="2.65" fill="rgb(238,238,238)"/><rect x="495.73" y="443.97" width="2.61" height="2.65" fill="rgb(214,214,214)"/><rect x="499.33" y="443.97" width="2.61" height="2.65" fill="rgb(238,238,238)"/><rect x="502.94" y="443.97" width="2.61" height="2.65" fill="rgb(214,214,214)"/><rect x="506.55" y="443.97" width="2.61" height="2.65" fill="rgb(178,178,178)"/><rect x="510.16" y="443.97" width="2.61" height="2.65" fill="rgb(178,178,178)"/><rect x="513.77" y="443.97" width="2.61" height="2.65" fill="rgb(178,178,178)"/><rect x="517.38" y="443.97" width="2.61" height="2.65" fill="rgb(214,214,214)"/><rect x="520.99" y="443.97" width="2.61" height="2.65" fill="rgb(214,214,214)"/><rect x="524.60" y="443.97" width="2.61" height="2.65" fill="rgb(178,178,178)"/><rect x="528.21" y="443.97" width="2.61" height="2.65" fill="rgb(178,178,178)"/><rect x="531.82" y="443.97" width="2.61" height="2.65" fill="rgb(214,214,214)"/><rect x="495.73" y="447.62" width="2.61" height="2.65" fill="rgb(214,214,214)"/><rect x="502.94" y="447.62" width="2.61" height="2.65" fill="rgb(214,214,214)"/><rect x="506.55" y="447.62" width="2.61" height="2.65" fill="rgb(214,214,214)"/><rect x="510.16" y="447.62" width="2.61" height="2.65" fill="rgb(178,178,178)"/><rect x="513.77" y="447.62" width="2.61" height="2.65" fill="rgb(178,178,178)"/><rect x="524.60" y="447.62" width="2.61" height="2.65" fill="rgb(178,178,178)"/><rect x="528.21" y="447.62" width="2.61" height="2.65" fill="rgb(214,214,214)"/><rect x="528.21" y="451.27" width="2.61" height="2.65" fill="rgb(238,238,238)"/><rect x="531.82" y="451.27" width="2.61" height="2.65" fill="rgb(238,238,238)"/><rect x="535.42" y="436.67" width="2.61" height="2.65" fill="rgb(214,214,214)"/><rect x="539.03" y="436.67" width="2.61" height="2.65" fill="rgb(238,238,238)"/><rect x="542.64" y="436.67" width="2.61" height="2.65" fill="rgb(238,238,238)"/><rect x="535.42" y="440.32" width="2.61" height="2.65" fill="rgb(214,214,214)"/><rect x="539.03" y="440.32" width="2.61" height="2.65" fill="rgb(178,178,178)"/><rect x="542.64" y="440.32" width="2.61" height="2.65" fill="rgb(178,178,178)"/><rect x="546.25" y="440.32" width="2.61" height="2.65" fill="rgb(214,214,214)"/><rect x="549.86" y="440.32" width="2.61" height="2.65" fill="rgb(214,214,214)"/><rect x="553.47" y="440.32" width="2.61" height="2.65" fill="rgb(214,214,214)"/><rect x="557.08" y="440.32" width="2.61" height="2.65" fill="rgb(214,214,214)"/><rect x="560.69" y="440.32" width="2.61" height="2.65" fill="rgb(214,214,214)"/><rect x="564.30" y="440.32" width="2.61" height="2.65" fill="rgb(238,238,238)"/><rect x="535.42" y="443.97" width="2.61" height="2.65" fill="rgb(238,238,238)"/><rect x="539.03" y="443.97" width="2.61" height="2.65" fill="rgb(238,238,238)"/><rect x="542.64" y="443.97" width="2.61" height="2.65" fill="rgb(238,238,238)"/><rect x="546.25" y="443.97" width="2.61" height="2.65" fill="rgb(238,238,238)"/><rect x="535.42" y="447.62" width="2.61" height="2.65" fill="rgb(238,238,238)"/><rect x="539.03" y="447.62" width="2.61" height="2.65" fill="rgb(214,214,214)"/><rect x="542.64" y="447.62" width="2.61" height="2.65" fill="rgb(214,214,214)"/><rect x="546.25" y="447.62" width="2.61" height="2.65" fill="rgb(214,214,214)"/><rect x="549.86" y="447.62" width="2.61" height="2.65" fill="rgb(238,238,238)"/><rect x="564.30" y="447.62" width="2.61" height="2.65" fill="rgb(238,238,238)"/><rect x="567.90" y="447.62" width="2.61" height="2.65" fill="rgb(238,238,238)"/><rect x="571.51" y="451.27" width="2.61" height="2.65" fill="rgb(238,238,238)"/><rect x="575.12" y="451.27" width="2.61" height="2.65" fill="rgb(238,238,238)"/><rect x="546.25" y="454.92" width="2.61" height="2.65" fill="rgb(238,238,238)"/></g><polyline points="405.00,349.73 406.78,351.48 408.56,353.23 410.34,354.97 412.12,356.71 413.90,358.45 415.68,360.18 417.46,361.90 419.24,363.63 421.02,365.34 422.80,367.06 424.58,368.76 426.36,370.46 428.14,372.16 429.92,373.85 431.70,375.54 433.48,377.22 435.26,378.89 437.04,380.55 438.82,382.21 440.60,383.86 442.38,385.50 444.16,387.14 445.94,388.77 447.72,390.38 449.50,391.99 451.28,393.59 453.06,395.18 454.84,396.77 456.62,398.34 458.40,399.89 460.18,401.44 461.96,402.98 463.74,404.50 465.52,406.01 467.30,407.51 469.08,409.00 470.86,410.47 472.64,411.93 474.42,413.37 476.20,414.79 477.98,416.20 479.76,417.60 481.54,418.97 483.32,420.33 485.10,421.67 486.88,422.99 488.66,424.29 490.44,425.57 492.22,426.83 494.00,428.07 495.78,429.29 497.56,430.48 499.34,431.65 501.12,432.80 502.90,433.92 504.68,435.01 506.46,436.08 508.24,437.12 510.02,438.14 511.80,439.13 513.58,440.09 515.36,441.02 517.14,441.92 518.92,442.79 520.70,443.63 522.48,444.43 524.26,445.21 526.04,445.96 527.82,446.67 529.60,447.36 531.38,448.01 533.16,448.62 534.94,449.21 536.72,449.76 538.50,450.28 540.28,450.77 542.06,451.23 543.84,451.66 545.62,452.06 547.40,452.43 549.18,452.77 550.96,453.08 552.74,453.37 554.52,453.63 556.30,453.86 558.08,454.07 559.86,454.26 561.64,454.43 563.42,454.58 565.20,454.71 566.98,454.82 568.76,454.92 570.54,455.01 572.32,455.08 574.10,455.14 575.88,455.19 577.66,455.23 579.44,455.27 581.22,455.30 583.00,455.32" fill="none" stroke="#f2c050" stroke-width="1.25"/></svg><g fill="none" stroke="#9c9c9c" stroke-width="1.6"><line x1="49" y1="30.0" x2="583.0" y2="30.0"/><line x1="49" y1="109.0" x2="583.0" y2="109.0"/><line x1="49" y1="287.0" x2="583.0" y2="287.0"/><line x1="49" y1="465.0" x2="583.0" y2="465.0"/></g><g fill="none" stroke="#7a7a7a" stroke-width="1.25"><line x1="49" y1="30.0" x2="49" y2="465.0"/><line x1="227" y1="30.0" x2="227" y2="465.0"/><line x1="405" y1="30.0" x2="405" y2="465.0"/><line x1="583.0" y1="30.0" x2="583.0" y2="465.0"/></g><path d="M82.38 30.0v2.3M82.38 109.0v-2.3M138.00 30.0v2.3M138.00 109.0v-2.3M193.62 30.0v2.3M193.62 109.0v-2.3M49 109.00h2.3M227.0 109.00h-2.3M49 77.40h2.3M227.0 77.40h-2.3M49 45.80h2.3M227.0 45.80h-2.3M49.00 287.0v-2.3M49.00 109.0v2.3M63.49 287.0v-1.3M63.49 109.0v1.3M71.96 287.0v-1.3M71.96 109.0v1.3M77.97 287.0v-1.3M77.97 109.0v1.3M82.64 287.0v-1.3M82.64 109.0v1.3M86.45 287.0v-1.3M86.45 109.0v1.3M89.67 287.0v-1.3M89.67 109.0v1.3M92.46 287.0v-1.3M92.46 109.0v1.3M94.92 287.0v-1.3M94.92 109.0v1.3M97.12 287.0v-2.3M97.12 109.0v2.3M111.61 287.0v-1.3M111.61 109.0v1.3M120.08 287.0v-1.3M120.08 109.0v1.3M126.09 287.0v-1.3M126.09 109.0v1.3M130.76 287.0v-1.3M130.76 109.0v1.3M134.57 287.0v-1.3M134.57 109.0v1.3M137.79 287.0v-1.3M137.79 109.0v1.3M140.58 287.0v-1.3M140.58 109.0v1.3M143.04 287.0v-1.3M143.04 109.0v1.3M145.24 287.0v-2.3M145.24 109.0v2.3M159.73 287.0v-1.3M159.73 109.0v1.3M168.20 287.0v-1.3M168.20 109.0v1.3M174.22 287.0v-1.3M174.22 109.0v1.3M178.88 287.0v-1.3M178.88 109.0v1.3M182.69 287.0v-1.3M182.69 109.0v1.3M185.91 287.0v-1.3M185.91 109.0v1.3M188.70 287.0v-1.3M188.70 109.0v1.3M191.16 287.0v-1.3M191.16 109.0v1.3M193.36 287.0v-2.3M193.36 109.0v2.3M207.85 287.0v-1.3M207.85 109.0v1.3M216.32 287.0v-1.3M216.32 109.0v1.3M222.34 287.0v-1.3M222.34 109.0v1.3M227.00 287.0v-1.3M227.00 109.0v1.3M49 287.00h2.3M227.0 287.00h-2.3M49 272.51h1.3M227.0 272.51h-1.3M49 264.04h1.3M227.0 264.04h-1.3M49 258.03h1.3M227.0 258.03h-1.3M49 253.36h1.3M227.0 253.36h-1.3M49 249.55h1.3M227.0 249.55h-1.3M49 246.33h1.3M227.0 246.33h-1.3M49 243.54h1.3M227.0 243.54h-1.3M49 241.08h1.3M227.0 241.08h-1.3M49 238.88h2.3M227.0 238.88h-2.3M49 224.39h1.3M227.0 224.39h-1.3M49 215.92h1.3M227.0 215.92h-1.3M49 209.91h1.3M227.0 209.91h-1.3M49 205.24h1.3M227.0 205.24h-1.3M49 201.43h1.3M227.0 201.43h-1.3M49 198.21h1.3M227.0 198.21h-1.3M49 195.42h1.3M227.0 195.42h-1.3M49 192.96h1.3M227.0 192.96h-1.3M49 190.76h2.3M227.0 190.76h-2.3M49 176.27h1.3M227.0 176.27h-1.3M49 167.80h1.3M227.0 167.80h-1.3M49 161.78h1.3M227.0 161.78h-1.3M49 157.12h1.3M227.0 157.12h-1.3M49 153.31h1.3M227.0 153.31h-1.3M49 150.09h1.3M227.0 150.09h-1.3M49 147.30h1.3M227.0 147.30h-1.3M49 144.84h1.3M227.0 144.84h-1.3M49 142.64h2.3M227.0 142.64h-2.3M49 128.15h1.3M227.0 128.15h-1.3M49 119.68h1.3M227.0 119.68h-1.3M49 113.66h1.3M227.0 113.66h-1.3M49 109.00h1.3M227.0 109.00h-1.3M49.00 465.0v-2.3M49.00 287.0v2.3M63.49 465.0v-1.3M63.49 287.0v1.3M71.96 465.0v-1.3M71.96 287.0v1.3M77.97 465.0v-1.3M77.97 287.0v1.3M82.64 465.0v-1.3M82.64 287.0v1.3M86.45 465.0v-1.3M86.45 287.0v1.3M89.67 465.0v-1.3M89.67 287.0v1.3M92.46 465.0v-1.3M92.46 287.0v1.3M94.92 465.0v-1.3M94.92 287.0v1.3M97.12 465.0v-2.3M97.12 287.0v2.3M111.61 465.0v-1.3M111.61 287.0v1.3M120.08 465.0v-1.3M120.08 287.0v1.3M126.09 465.0v-1.3M126.09 287.0v1.3M130.76 465.0v-1.3M130.76 287.0v1.3M134.57 465.0v-1.3M134.57 287.0v1.3M137.79 465.0v-1.3M137.79 287.0v1.3M140.58 465.0v-1.3M140.58 287.0v1.3M143.04 465.0v-1.3M143.04 287.0v1.3M145.24 465.0v-2.3M145.24 287.0v2.3M159.73 465.0v-1.3M159.73 287.0v1.3M168.20 465.0v-1.3M168.20 287.0v1.3M174.22 465.0v-1.3M174.22 287.0v1.3M178.88 465.0v-1.3M178.88 287.0v1.3M182.69 465.0v-1.3M182.69 287.0v1.3M185.91 465.0v-1.3M185.91 287.0v1.3M188.70 465.0v-1.3M188.70 287.0v1.3M191.16 465.0v-1.3M191.16 287.0v1.3M193.36 465.0v-2.3M193.36 287.0v2.3M207.85 465.0v-1.3M207.85 287.0v1.3M216.32 465.0v-1.3M216.32 287.0v1.3M222.34 465.0v-1.3M222.34 287.0v1.3M227.00 465.0v-1.3M227.00 287.0v1.3M49 465.00h1.3M227.0 465.00h-1.3M49 459.93h1.3M227.0 459.93h-1.3M49 455.39h2.3M227.0 455.39h-2.3M49 425.56h2.3M227.0 425.56h-2.3M49 408.10h1.3M227.0 408.10h-1.3M49 395.72h1.3M227.0 395.72h-1.3M49 386.12h2.3M227.0 386.12h-2.3M49 378.27h1.3M227.0 378.27h-1.3M49 371.63h1.3M227.0 371.63h-1.3M49 365.88h1.3M227.0 365.88h-1.3M49 360.81h1.3M227.0 360.81h-1.3M49 356.28h2.3M227.0 356.28h-2.3M49 326.44h2.3M227.0 326.44h-2.3M49 308.99h1.3M227.0 308.99h-1.3M49 296.61h1.3M227.0 296.61h-1.3M49 287.00h2.3M227.0 287.00h-2.3M260.38 30.0v2.3M260.38 109.0v-2.3M316.00 30.0v2.3M316.00 109.0v-2.3M371.62 30.0v2.3M371.62 109.0v-2.3M227 109.00h2.3M405.0 109.00h-2.3M227 77.40h2.3M405.0 77.40h-2.3M227 45.80h2.3M405.0 45.80h-2.3M227.00 287.0v-2.3M227.00 109.0v2.3M241.49 287.0v-1.3M241.49 109.0v1.3M249.96 287.0v-1.3M249.96 109.0v1.3M255.97 287.0v-1.3M255.97 109.0v1.3M260.64 287.0v-1.3M260.64 109.0v1.3M264.45 287.0v-1.3M264.45 109.0v1.3M267.67 287.0v-1.3M267.67 109.0v1.3M270.46 287.0v-1.3M270.46 109.0v1.3M272.92 287.0v-1.3M272.92 109.0v1.3M275.12 287.0v-2.3M275.12 109.0v2.3M289.61 287.0v-1.3M289.61 109.0v1.3M298.08 287.0v-1.3M298.08 109.0v1.3M304.09 287.0v-1.3M304.09 109.0v1.3M308.76 287.0v-1.3M308.76 109.0v1.3M312.57 287.0v-1.3M312.57 109.0v1.3M315.79 287.0v-1.3M315.79 109.0v1.3M318.58 287.0v-1.3M318.58 109.0v1.3M321.04 287.0v-1.3M321.04 109.0v1.3M323.24 287.0v-2.3M323.24 109.0v2.3M337.73 287.0v-1.3M337.73 109.0v1.3M346.20 287.0v-1.3M346.20 109.0v1.3M352.22 287.0v-1.3M352.22 109.0v1.3M356.88 287.0v-1.3M356.88 109.0v1.3M360.69 287.0v-1.3M360.69 109.0v1.3M363.91 287.0v-1.3M363.91 109.0v1.3M366.70 287.0v-1.3M366.70 109.0v1.3M369.16 287.0v-1.3M369.16 109.0v1.3M371.36 287.0v-2.3M371.36 109.0v2.3M385.85 287.0v-1.3M385.85 109.0v1.3M394.32 287.0v-1.3M394.32 109.0v1.3M400.34 287.0v-1.3M400.34 109.0v1.3M405.00 287.0v-1.3M405.00 109.0v1.3M227 287.00h2.3M405.0 287.00h-2.3M227 272.51h1.3M405.0 272.51h-1.3M227 264.04h1.3M405.0 264.04h-1.3M227 258.03h1.3M405.0 258.03h-1.3M227 253.36h1.3M405.0 253.36h-1.3M227 249.55h1.3M405.0 249.55h-1.3M227 246.33h1.3M405.0 246.33h-1.3M227 243.54h1.3M405.0 243.54h-1.3M227 241.08h1.3M405.0 241.08h-1.3M227 238.88h2.3M405.0 238.88h-2.3M227 224.39h1.3M405.0 224.39h-1.3M227 215.92h1.3M405.0 215.92h-1.3M227 209.91h1.3M405.0 209.91h-1.3M227 205.24h1.3M405.0 205.24h-1.3M227 201.43h1.3M405.0 201.43h-1.3M227 198.21h1.3M405.0 198.21h-1.3M227 195.42h1.3M405.0 195.42h-1.3M227 192.96h1.3M405.0 192.96h-1.3M227 190.76h2.3M405.0 190.76h-2.3M227 176.27h1.3M405.0 176.27h-1.3M227 167.80h1.3M405.0 167.80h-1.3M227 161.78h1.3M405.0 161.78h-1.3M227 157.12h1.3M405.0 157.12h-1.3M227 153.31h1.3M405.0 153.31h-1.3M227 150.09h1.3M405.0 150.09h-1.3M227 147.30h1.3M405.0 147.30h-1.3M227 144.84h1.3M405.0 144.84h-1.3M227 142.64h2.3M405.0 142.64h-2.3M227 128.15h1.3M405.0 128.15h-1.3M227 119.68h1.3M405.0 119.68h-1.3M227 113.66h1.3M405.0 113.66h-1.3M227 109.00h1.3M405.0 109.00h-1.3M227.00 465.0v-2.3M227.00 287.0v2.3M241.49 465.0v-1.3M241.49 287.0v1.3M249.96 465.0v-1.3M249.96 287.0v1.3M255.97 465.0v-1.3M255.97 287.0v1.3M260.64 465.0v-1.3M260.64 287.0v1.3M264.45 465.0v-1.3M264.45 287.0v1.3M267.67 465.0v-1.3M267.67 287.0v1.3M270.46 465.0v-1.3M270.46 287.0v1.3M272.92 465.0v-1.3M272.92 287.0v1.3M275.12 465.0v-2.3M275.12 287.0v2.3M289.61 465.0v-1.3M289.61 287.0v1.3M298.08 465.0v-1.3M298.08 287.0v1.3M304.09 465.0v-1.3M304.09 287.0v1.3M308.76 465.0v-1.3M308.76 287.0v1.3M312.57 465.0v-1.3M312.57 287.0v1.3M315.79 465.0v-1.3M315.79 287.0v1.3M318.58 465.0v-1.3M318.58 287.0v1.3M321.04 465.0v-1.3M321.04 287.0v1.3M323.24 465.0v-2.3M323.24 287.0v2.3M337.73 465.0v-1.3M337.73 287.0v1.3M346.20 465.0v-1.3M346.20 287.0v1.3M352.22 465.0v-1.3M352.22 287.0v1.3M356.88 465.0v-1.3M356.88 287.0v1.3M360.69 465.0v-1.3M360.69 287.0v1.3M363.91 465.0v-1.3M363.91 287.0v1.3M366.70 465.0v-1.3M366.70 287.0v1.3M369.16 465.0v-1.3M369.16 287.0v1.3M371.36 465.0v-2.3M371.36 287.0v2.3M385.85 465.0v-1.3M385.85 287.0v1.3M394.32 465.0v-1.3M394.32 287.0v1.3M400.34 465.0v-1.3M400.34 287.0v1.3M405.00 465.0v-1.3M405.00 287.0v1.3M227 465.00h1.3M405.0 465.00h-1.3M227 459.93h1.3M405.0 459.93h-1.3M227 455.39h2.3M405.0 455.39h-2.3M227 425.56h2.3M405.0 425.56h-2.3M227 408.10h1.3M405.0 408.10h-1.3M227 395.72h1.3M405.0 395.72h-1.3M227 386.12h2.3M405.0 386.12h-2.3M227 378.27h1.3M405.0 378.27h-1.3M227 371.63h1.3M405.0 371.63h-1.3M227 365.88h1.3M405.0 365.88h-1.3M227 360.81h1.3M405.0 360.81h-1.3M227 356.28h2.3M405.0 356.28h-2.3M227 326.44h2.3M405.0 326.44h-2.3M227 308.99h1.3M405.0 308.99h-1.3M227 296.61h1.3M405.0 296.61h-1.3M227 287.00h2.3M405.0 287.00h-2.3M438.38 30.0v2.3M438.38 109.0v-2.3M494.00 30.0v2.3M494.00 109.0v-2.3M549.62 30.0v2.3M549.62 109.0v-2.3M405 109.00h2.3M583.0 109.00h-2.3M405 77.40h2.3M583.0 77.40h-2.3M405 45.80h2.3M583.0 45.80h-2.3M405.00 287.0v-2.3M405.00 109.0v2.3M419.49 287.0v-1.3M419.49 109.0v1.3M427.96 287.0v-1.3M427.96 109.0v1.3M433.97 287.0v-1.3M433.97 109.0v1.3M438.64 287.0v-1.3M438.64 109.0v1.3M442.45 287.0v-1.3M442.45 109.0v1.3M445.67 287.0v-1.3M445.67 109.0v1.3M448.46 287.0v-1.3M448.46 109.0v1.3M450.92 287.0v-1.3M450.92 109.0v1.3M453.12 287.0v-2.3M453.12 109.0v2.3M467.61 287.0v-1.3M467.61 109.0v1.3M476.08 287.0v-1.3M476.08 109.0v1.3M482.09 287.0v-1.3M482.09 109.0v1.3M486.76 287.0v-1.3M486.76 109.0v1.3M490.57 287.0v-1.3M490.57 109.0v1.3M493.79 287.0v-1.3M493.79 109.0v1.3M496.58 287.0v-1.3M496.58 109.0v1.3M499.04 287.0v-1.3M499.04 109.0v1.3M501.24 287.0v-2.3M501.24 109.0v2.3M515.73 287.0v-1.3M515.73 109.0v1.3M524.20 287.0v-1.3M524.20 109.0v1.3M530.22 287.0v-1.3M530.22 109.0v1.3M534.88 287.0v-1.3M534.88 109.0v1.3M538.69 287.0v-1.3M538.69 109.0v1.3M541.91 287.0v-1.3M541.91 109.0v1.3M544.70 287.0v-1.3M544.70 109.0v1.3M547.16 287.0v-1.3M547.16 109.0v1.3M549.36 287.0v-2.3M549.36 109.0v2.3M563.85 287.0v-1.3M563.85 109.0v1.3M572.32 287.0v-1.3M572.32 109.0v1.3M578.34 287.0v-1.3M578.34 109.0v1.3M583.00 287.0v-1.3M583.00 109.0v1.3M405 287.00h2.3M583.0 287.00h-2.3M405 272.51h1.3M583.0 272.51h-1.3M405 264.04h1.3M583.0 264.04h-1.3M405 258.03h1.3M583.0 258.03h-1.3M405 253.36h1.3M583.0 253.36h-1.3M405 249.55h1.3M583.0 249.55h-1.3M405 246.33h1.3M583.0 246.33h-1.3M405 243.54h1.3M583.0 243.54h-1.3M405 241.08h1.3M583.0 241.08h-1.3M405 238.88h2.3M583.0 238.88h-2.3M405 224.39h1.3M583.0 224.39h-1.3M405 215.92h1.3M583.0 215.92h-1.3M405 209.91h1.3M583.0 209.91h-1.3M405 205.24h1.3M583.0 205.24h-1.3M405 201.43h1.3M583.0 201.43h-1.3M405 198.21h1.3M583.0 198.21h-1.3M405 195.42h1.3M583.0 195.42h-1.3M405 192.96h1.3M583.0 192.96h-1.3M405 190.76h2.3M583.0 190.76h-2.3M405 176.27h1.3M583.0 176.27h-1.3M405 167.80h1.3M583.0 167.80h-1.3M405 161.78h1.3M583.0 161.78h-1.3M405 157.12h1.3M583.0 157.12h-1.3M405 153.31h1.3M583.0 153.31h-1.3M405 150.09h1.3M583.0 150.09h-1.3M405 147.30h1.3M583.0 147.30h-1.3M405 144.84h1.3M583.0 144.84h-1.3M405 142.64h2.3M583.0 142.64h-2.3M405 128.15h1.3M583.0 128.15h-1.3M405 119.68h1.3M583.0 119.68h-1.3M405 113.66h1.3M583.0 113.66h-1.3M405 109.00h1.3M583.0 109.00h-1.3M405.00 465.0v-2.3M405.00 287.0v2.3M419.49 465.0v-1.3M419.49 287.0v1.3M427.96 465.0v-1.3M427.96 287.0v1.3M433.97 465.0v-1.3M433.97 287.0v1.3M438.64 465.0v-1.3M438.64 287.0v1.3M442.45 465.0v-1.3M442.45 287.0v1.3M445.67 465.0v-1.3M445.67 287.0v1.3M448.46 465.0v-1.3M448.46 287.0v1.3M450.92 465.0v-1.3M450.92 287.0v1.3M453.12 465.0v-2.3M453.12 287.0v2.3M467.61 465.0v-1.3M467.61 287.0v1.3M476.08 465.0v-1.3M476.08 287.0v1.3M482.09 465.0v-1.3M482.09 287.0v1.3M486.76 465.0v-1.3M486.76 287.0v1.3M490.57 465.0v-1.3M490.57 287.0v1.3M493.79 465.0v-1.3M493.79 287.0v1.3M496.58 465.0v-1.3M496.58 287.0v1.3M499.04 465.0v-1.3M499.04 287.0v1.3M501.24 465.0v-2.3M501.24 287.0v2.3M515.73 465.0v-1.3M515.73 287.0v1.3M524.20 465.0v-1.3M524.20 287.0v1.3M530.22 465.0v-1.3M530.22 287.0v1.3M534.88 465.0v-1.3M534.88 287.0v1.3M538.69 465.0v-1.3M538.69 287.0v1.3M541.91 465.0v-1.3M541.91 287.0v1.3M544.70 465.0v-1.3M544.70 287.0v1.3M547.16 465.0v-1.3M547.16 287.0v1.3M549.36 465.0v-2.3M549.36 287.0v2.3M563.85 465.0v-1.3M563.85 287.0v1.3M572.32 465.0v-1.3M572.32 287.0v1.3M578.34 465.0v-1.3M578.34 287.0v1.3M583.00 465.0v-1.3M583.00 287.0v1.3M405 465.00h1.3M583.0 465.00h-1.3M405 459.93h1.3M583.0 459.93h-1.3M405 455.39h2.3M583.0 455.39h-2.3M405 425.56h2.3M583.0 425.56h-2.3M405 408.10h1.3M583.0 408.10h-1.3M405 395.72h1.3M583.0 395.72h-1.3M405 386.12h2.3M583.0 386.12h-2.3M405 378.27h1.3M583.0 378.27h-1.3M405 371.63h1.3M583.0 371.63h-1.3M405 365.88h1.3M583.0 365.88h-1.3M405 360.81h1.3M583.0 360.81h-1.3M405 356.28h2.3M583.0 356.28h-2.3M405 326.44h2.3M583.0 326.44h-2.3M405 308.99h1.3M583.0 308.99h-1.3M405 296.61h1.3M583.0 296.61h-1.3M405 287.00h2.3M583.0 287.00h-2.3" stroke="#2a2a2a" stroke-width="0.9" fill="none"/><g font-family="Liberation Sans, sans-serif" stroke="#1a1a1a" stroke-width="0.22" font-size="11.5" fill="#1a1a1a" text-anchor="middle"><text x="82.38" y="25">-0.5</text><text x="138.00" y="25">0</text><text x="193.62" y="25">0.5</text><text x="260.38" y="25">-0.5</text><text x="316.00" y="25">0</text><text x="371.62" y="25">0.5</text><text x="438.38" y="25">-0.5</text><text x="494.00" y="25">0</text><text x="549.62" y="25">0.5</text></g><g font-family="Liberation Serif, serif" font-size="12.5" fill="#1a1a1a" stroke="#1a1a1a" stroke-width="0.12" text-anchor="middle"><text x="138.00" y="9">dex</text><text x="316.00" y="9">dex</text><text x="494.00" y="9">dex</text></g><g font-family="Liberation Sans, sans-serif" stroke="#1a1a1a" stroke-width="0.22" font-size="11.5" fill="#1a1a1a" text-anchor="end"><text x="46.6" y="113.20">0</text><text x="46.6" y="81.60">100</text><text x="46.6" y="50.00">200</text></g><text font-family="Liberation Serif, serif" font-size="13.5" fill="#1a1a1a" stroke="#1a1a1a" stroke-width="0.15" text-anchor="middle" transform="translate(22.3 69.5) rotate(-90)">points</text><g font-family="Liberation Sans, sans-serif" stroke="#1a1a1a" stroke-width="0.22" font-size="11.5" fill="#1a1a1a"><text x="45" y="148.64" text-anchor="end">10<tspan font-size="10" dy="-5">-9</tspan></text><text x="45" y="196.76" text-anchor="end">10<tspan font-size="10" dy="-5">-10</tspan></text><text x="45" y="244.88" text-anchor="end">10<tspan font-size="10" dy="-5">-11</tspan></text></g><g font-family="Liberation Sans, sans-serif" stroke="#1a1a1a" stroke-width="0.22" font-size="11.5" fill="#1a1a1a" text-anchor="end"><text x="45.3" y="459.59">1</text><text x="45.3" y="429.76">2</text><text x="45.3" y="390.32">5</text><text x="45.3" y="360.48">10</text><text x="45.3" y="330.64">20</text></g><g font-family="Liberation Sans, sans-serif" stroke="#1a1a1a" stroke-width="0.22" font-size="11.5" fill="#1a1a1a" text-anchor="middle"><text x="97.12" y="483.5">10<tspan font-size="10" dy="-5">-11</tspan></text><text x="145.24" y="483.5">10<tspan font-size="10" dy="-5">-10</tspan></text><text x="193.36" y="483.5">10<tspan font-size="10" dy="-5">-9</tspan></text><text x="275.12" y="483.5">10<tspan font-size="10" dy="-5">-11</tspan></text><text x="323.24" y="483.5">10<tspan font-size="10" dy="-5">-10</tspan></text><text x="371.36" y="483.5">10<tspan font-size="10" dy="-5">-9</tspan></text><text x="453.12" y="483.5">10<tspan font-size="10" dy="-5">-11</tspan></text><text x="501.24" y="483.5">10<tspan font-size="10" dy="-5">-10</tspan></text><text x="549.36" y="483.5">10<tspan font-size="10" dy="-5">-9</tspan></text></g><g font-family="Liberation Serif, serif" font-size="14" fill="#1a1a1a" stroke="#1a1a1a" stroke-width="0.15"><text transform="translate(11.5 230) rotate(-90)"><tspan font-style="italic">a</tspan><tspan font-size="10" dy="2">tot</tspan><tspan dy="-2" dx="15.5">[m/s</tspan><tspan font-size="9.5" dy="-5">2</tspan><tspan dy="5">]</tspan></text><text transform="translate(26.2 399) rotate(-90)"><tspan font-style="italic">a</tspan><tspan font-size="10" dy="2">tot</tspan><tspan dy="-2" font-size="15.5" dx="1.5">/</tspan><tspan font-style="italic" dx="1.5">a</tspan><tspan font-size="10" dy="2">bar</tspan></text><text x="104.40" y="498.5"><tspan font-style="italic">a</tspan><tspan font-size="10" dy="2">bar</tspan><tspan dy="-2" dx="15">[m/s</tspan><tspan font-size="9.5" dy="-5">2</tspan><tspan dy="5">]</tspan></text><text x="282.40" y="498.5"><tspan font-style="italic">a</tspan><tspan font-size="10" dy="2">bar</tspan><tspan dy="-2" dx="15">[m/s</tspan><tspan font-size="9.5" dy="-5">2</tspan><tspan dy="5">]</tspan></text><text x="460.40" y="498.5"><tspan font-style="italic">a</tspan><tspan font-size="10" dy="2">bar</tspan><tspan dy="-2" dx="15">[m/s</tspan><tspan font-size="9.5" dy="-5">2</tspan><tspan dy="5">]</tspan></text></g><g font-family="Liberation Serif, serif" font-size="14.4" fill="#000" stroke="#000" stroke-width="0.1" letter-spacing="0.15"><text x="60" y="130">SPARC</text><text x="238.6" y="129">fermionic model</text><text x="238.6" y="145.3">(50<tspan dx="2.2">keV)</tspan></text><text x="416" y="130">DC14</text></g><line x1="66" y1="269.5" x2="108" y2="269.5" stroke="#111111" stroke-width="0.9"/><text font-family="Liberation Serif, serif" font-size="11.5" fill="#000" x="111.5" y="273"><tspan font-weight="bold">a</tspan><tspan font-size="8" dy="2">0</tspan><tspan dy="-2"> = 1.23 × 10</tspan><tspan font-size="8" dy="-4.5">−10</tspan><tspan dy="4.5"> ms</tspan><tspan font-size="8" dy="-4.5">−2</tspan></text><line x1="244" y1="269.5" x2="286" y2="269.5" stroke="#3d99dd" stroke-width="1.25"/><text font-family="Liberation Serif, serif" font-size="11.5" fill="#000" x="289.5" y="273"><tspan font-weight="bold">a</tspan><tspan font-size="8" dy="2">0</tspan><tspan dy="-2"> = 1.19 × 10</tspan><tspan font-size="8" dy="-4.5">−10</tspan><tspan dy="4.5"> ms</tspan><tspan font-size="8" dy="-4.5">−2</tspan></text><line x1="422" y1="269.5" x2="464" y2="269.5" stroke="#f2c050" stroke-width="1.25"/><text font-family="Liberation Serif, serif" font-size="11.5" fill="#000" x="467.5" y="273"><tspan font-weight="bold">a</tspan><tspan font-size="8" dy="2">0</tspan><tspan dy="-2"> = 1.24 × 10</tspan><tspan font-size="8" dy="-4.5">−10</tspan><tspan dy="4.5"> ms</tspan><tspan font-size="8" dy="-4.5">−2</tspan></text><defs><linearGradient id="cb" x1="0" y1="1" x2="0" y2="0"><stop offset="0" stop-color="#f5f5f5"/><stop offset="1" stop-color="#000"/></linearGradient></defs><rect x="601.5" y="109" width="13" height="356" fill="url(#cb)" stroke="#8a8a8a" stroke-width="1.1"/><path d="M614.5 465.00h-2.5M614.5 412.65h-2.5M614.5 360.29h-2.5M614.5 307.94h-2.5M614.5 255.59h-2.5M614.5 203.24h-2.5M614.5 150.88h-2.5" stroke="#2a2a2a" stroke-width="0.8"/><g font-family="Liberation Sans, sans-serif" stroke="#1a1a1a" stroke-width="0.22" font-size="11.5" fill="#1a1a1a"><text x="619" y="469.00">0</text><text x="619" y="416.65">5</text><text x="619" y="364.29">10</text><text x="619" y="311.94">15</text><text x="619" y="259.59">20</text><text x="619" y="207.24">25</text><text x="619" y="154.88">30</text></g><text font-family="Liberation Serif, serif" font-size="11.8" fill="#1a1a1a" x="602" y="105.5">points</text></svg></body></html>
